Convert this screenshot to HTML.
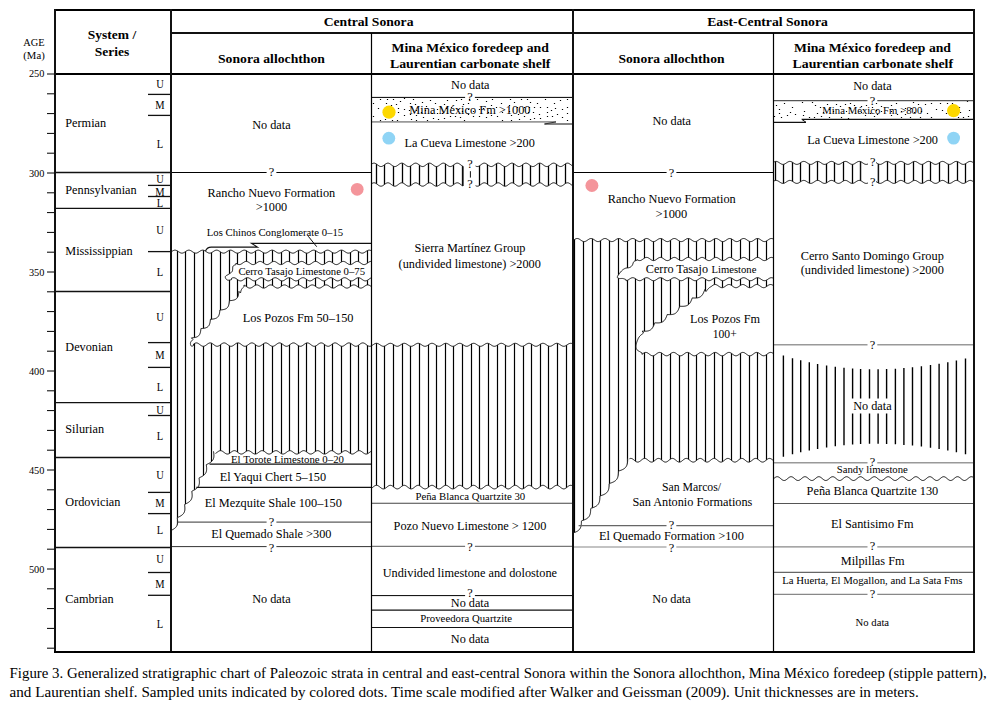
<!DOCTYPE html>
<html><head><meta charset="utf-8"><style>
html,body{margin:0;padding:0;background:#fff;}
svg{display:block;}
text{font-family:"Liberation Serif",serif;fill:#000;}
</style></head><body>
<svg width="994" height="707" viewBox="0 0 994 707">
<rect width="994" height="707" fill="#fff"/>
<line x1="47" y1="74" x2="55" y2="74" stroke="#000" stroke-width="1"/>
<line x1="47" y1="93.8" x2="55" y2="93.8" stroke="#000" stroke-width="1"/>
<line x1="47" y1="113.6" x2="55" y2="113.6" stroke="#000" stroke-width="1"/>
<line x1="47" y1="133.4" x2="55" y2="133.4" stroke="#000" stroke-width="1"/>
<line x1="47" y1="153.2" x2="55" y2="153.2" stroke="#000" stroke-width="1"/>
<line x1="47" y1="173" x2="55" y2="173" stroke="#000" stroke-width="1"/>
<line x1="47" y1="192.8" x2="55" y2="192.8" stroke="#000" stroke-width="1"/>
<line x1="47" y1="212.6" x2="55" y2="212.6" stroke="#000" stroke-width="1"/>
<line x1="47" y1="232.4" x2="55" y2="232.4" stroke="#000" stroke-width="1"/>
<line x1="47" y1="252.2" x2="55" y2="252.2" stroke="#000" stroke-width="1"/>
<line x1="47" y1="272" x2="55" y2="272" stroke="#000" stroke-width="1"/>
<line x1="47" y1="291.8" x2="55" y2="291.8" stroke="#000" stroke-width="1"/>
<line x1="47" y1="311.6" x2="55" y2="311.6" stroke="#000" stroke-width="1"/>
<line x1="47" y1="331.4" x2="55" y2="331.4" stroke="#000" stroke-width="1"/>
<line x1="47" y1="351.2" x2="55" y2="351.2" stroke="#000" stroke-width="1"/>
<line x1="47" y1="371" x2="55" y2="371" stroke="#000" stroke-width="1"/>
<line x1="47" y1="390.8" x2="55" y2="390.8" stroke="#000" stroke-width="1"/>
<line x1="47" y1="410.6" x2="55" y2="410.6" stroke="#000" stroke-width="1"/>
<line x1="47" y1="430.4" x2="55" y2="430.4" stroke="#000" stroke-width="1"/>
<line x1="47" y1="450.2" x2="55" y2="450.2" stroke="#000" stroke-width="1"/>
<line x1="47" y1="470" x2="55" y2="470" stroke="#000" stroke-width="1"/>
<line x1="47" y1="489.8" x2="55" y2="489.8" stroke="#000" stroke-width="1"/>
<line x1="47" y1="509.6" x2="55" y2="509.6" stroke="#000" stroke-width="1"/>
<line x1="47" y1="529.4" x2="55" y2="529.4" stroke="#000" stroke-width="1"/>
<line x1="47" y1="549.2" x2="55" y2="549.2" stroke="#000" stroke-width="1"/>
<line x1="47" y1="569" x2="55" y2="569" stroke="#000" stroke-width="1"/>
<line x1="47" y1="588.8" x2="55" y2="588.8" stroke="#000" stroke-width="1"/>
<line x1="47" y1="608.6" x2="55" y2="608.6" stroke="#000" stroke-width="1"/>
<line x1="47" y1="628.4" x2="55" y2="628.4" stroke="#000" stroke-width="1"/>
<line x1="47" y1="648.2" x2="55" y2="648.2" stroke="#000" stroke-width="1"/>
<text transform="translate(28.9,76.8) scale(1,0.94)" font-size="10.3" textLength="15.5" lengthAdjust="spacingAndGlyphs">250</text>
<text transform="translate(28.9,176.9) scale(1,0.94)" font-size="10.3" textLength="15.5" lengthAdjust="spacingAndGlyphs">300</text>
<text transform="translate(28.9,275.9) scale(1,0.94)" font-size="10.3" textLength="15.5" lengthAdjust="spacingAndGlyphs">350</text>
<text transform="translate(28.9,374.9) scale(1,0.94)" font-size="10.3" textLength="15.5" lengthAdjust="spacingAndGlyphs">400</text>
<text transform="translate(28.9,473.9) scale(1,0.94)" font-size="10.3" textLength="15.5" lengthAdjust="spacingAndGlyphs">450</text>
<text transform="translate(28.9,572.9) scale(1,0.94)" font-size="10.3" textLength="15.5" lengthAdjust="spacingAndGlyphs">500</text>
<text transform="translate(23.3,46.3) scale(1,0.94)" font-size="10.4" textLength="21.4" lengthAdjust="spacingAndGlyphs">AGE</text>
<text transform="translate(23.3,59.2) scale(1,0.94)" font-size="10.7" textLength="21.4" lengthAdjust="spacingAndGlyphs">(Ma)</text>
<text transform="translate(112,39.4) scale(1,0.93)" font-size="13.5" text-anchor="middle" font-weight="bold">System /</text>
<text transform="translate(112,55.7) scale(1,0.93)" font-size="13.5" text-anchor="middle" font-weight="bold">Series</text>
<text transform="translate(323.7,26.1) scale(1,0.93)" font-size="13.6" font-weight="bold" textLength="89.8" lengthAdjust="spacingAndGlyphs">Central Sonora</text>
<text transform="translate(707.2,26.1) scale(1,0.93)" font-size="13.6" font-weight="bold" textLength="120.7" lengthAdjust="spacingAndGlyphs">East-Central Sonora</text>
<text transform="translate(218,62.6) scale(1,0.93)" font-size="13.7" font-weight="bold" textLength="106.9" lengthAdjust="spacingAndGlyphs">Sonora allochthon</text>
<text transform="translate(618.5,62.6) scale(1,0.93)" font-size="13.7" font-weight="bold" textLength="106" lengthAdjust="spacingAndGlyphs">Sonora allochthon</text>
<text transform="translate(391.5,51.6) scale(1,0.93)" font-size="13.7" font-weight="bold" textLength="157.3" lengthAdjust="spacingAndGlyphs">Mina México foredeep and</text>
<text transform="translate(389.9,67.5) scale(1,0.93)" font-size="13.7" font-weight="bold" textLength="160.5" lengthAdjust="spacingAndGlyphs">Laurentian carbonate shelf</text>
<text transform="translate(794,51.6) scale(1,0.93)" font-size="13.7" font-weight="bold" textLength="157" lengthAdjust="spacingAndGlyphs">Mina México foredeep and</text>
<text transform="translate(792.5,67.5) scale(1,0.93)" font-size="13.7" font-weight="bold" textLength="160.5" lengthAdjust="spacingAndGlyphs">Laurentian carbonate shelf</text>
<line x1="55" y1="172.5" x2="171" y2="172.5" stroke="#111" stroke-width="1.3"/>
<line x1="55" y1="208.3" x2="171" y2="208.3" stroke="#111" stroke-width="1.3"/>
<line x1="55" y1="291.5" x2="171" y2="291.5" stroke="#111" stroke-width="1.3"/>
<line x1="55" y1="402.7" x2="171" y2="402.7" stroke="#111" stroke-width="1.3"/>
<line x1="55" y1="457.5" x2="171" y2="457.5" stroke="#111" stroke-width="1.3"/>
<line x1="55" y1="547.5" x2="171" y2="547.5" stroke="#111" stroke-width="1.3"/>
<line x1="148" y1="94.4" x2="171" y2="94.4" stroke="#111" stroke-width="1.3"/>
<line x1="148" y1="115.4" x2="171" y2="115.4" stroke="#111" stroke-width="1.3"/>
<line x1="148" y1="185.4" x2="171" y2="185.4" stroke="#111" stroke-width="1.3"/>
<line x1="148" y1="196.5" x2="171" y2="196.5" stroke="#111" stroke-width="1.3"/>
<line x1="148" y1="251.6" x2="171" y2="251.6" stroke="#111" stroke-width="1.3"/>
<line x1="148" y1="342.6" x2="171" y2="342.6" stroke="#111" stroke-width="1.3"/>
<line x1="148" y1="367.4" x2="171" y2="367.4" stroke="#111" stroke-width="1.3"/>
<line x1="148" y1="415.5" x2="171" y2="415.5" stroke="#111" stroke-width="1.3"/>
<line x1="148" y1="492.4" x2="171" y2="492.4" stroke="#111" stroke-width="1.3"/>
<line x1="148" y1="513.6" x2="171" y2="513.6" stroke="#111" stroke-width="1.3"/>
<line x1="148" y1="572.5" x2="171" y2="572.5" stroke="#111" stroke-width="1.3"/>
<line x1="148" y1="595.3" x2="171" y2="595.3" stroke="#111" stroke-width="1.3"/>
<text transform="translate(65.3,127.3) scale(1,1.06)" font-size="12.25">Permian</text>
<text transform="translate(65.3,194.4) scale(1,1.06)" font-size="12.25">Pennsylvanian</text>
<text transform="translate(65.3,254.6) scale(1,1.06)" font-size="12.25">Mississippian</text>
<text transform="translate(65.3,350.9) scale(1,1.06)" font-size="12.25">Devonian</text>
<text transform="translate(65.3,433.2) scale(1,1.06)" font-size="12.25">Silurian</text>
<text transform="translate(65.3,505.9) scale(1,1.06)" font-size="12.25">Ordovician</text>
<text transform="translate(65.3,603.1) scale(1,1.06)" font-size="12.25">Cambrian</text>
<text transform="translate(160,88.4) scale(1,1.11)" font-size="10.5" text-anchor="middle">U</text>
<text transform="translate(160,108.6) scale(1,1.11)" font-size="10.5" text-anchor="middle">M</text>
<text transform="translate(160,147.8) scale(1,1.11)" font-size="10.5" text-anchor="middle">L</text>
<text transform="translate(160,183.3) scale(1,1.11)" font-size="10.5" text-anchor="middle">U</text>
<text transform="translate(160,196.2) scale(1,1.11)" font-size="10.5" text-anchor="middle">M</text>
<text transform="translate(160,207.1) scale(1,1.11)" font-size="10.5" text-anchor="middle">L</text>
<text transform="translate(160,233.8) scale(1,1.11)" font-size="10.5" text-anchor="middle">U</text>
<text transform="translate(160,275.5) scale(1,1.11)" font-size="10.5" text-anchor="middle">L</text>
<text transform="translate(160,321.1) scale(1,1.11)" font-size="10.5" text-anchor="middle">U</text>
<text transform="translate(160,358.8) scale(1,1.11)" font-size="10.5" text-anchor="middle">M</text>
<text transform="translate(160,391.1) scale(1,1.11)" font-size="10.5" text-anchor="middle">L</text>
<text transform="translate(160,414.4) scale(1,1.11)" font-size="10.5" text-anchor="middle">U</text>
<text transform="translate(160,440.1) scale(1,1.11)" font-size="10.5" text-anchor="middle">L</text>
<text transform="translate(160,478.8) scale(1,1.11)" font-size="10.5" text-anchor="middle">U</text>
<text transform="translate(160,506.5) scale(1,1.11)" font-size="10.5" text-anchor="middle">M</text>
<text transform="translate(160,533.7) scale(1,1.11)" font-size="10.5" text-anchor="middle">L</text>
<text transform="translate(160,563.2) scale(1,1.11)" font-size="10.5" text-anchor="middle">U</text>
<text transform="translate(160,587.5) scale(1,1.11)" font-size="10.5" text-anchor="middle">M</text>
<text transform="translate(160,627.5) scale(1,1.11)" font-size="10.5" text-anchor="middle">L</text>
<text transform="translate(271.4,128.5) scale(1,1.06)" font-size="12.25" text-anchor="middle">No data</text>
<line x1="171" y1="172.5" x2="266.6" y2="172.5" stroke="#000" stroke-width="1"/>
<line x1="276.4" y1="172.5" x2="372" y2="172.5" stroke="#000" stroke-width="1"/>
<text transform="translate(271.5,175.8) scale(1,1.06)" font-size="12.3" text-anchor="middle">?</text>
<text transform="translate(207.6,196.6) scale(1,1.06)" font-size="12.25" textLength="127.6" lengthAdjust="spacingAndGlyphs">Rancho Nuevo Formation</text>
<text transform="translate(255.8,210.7) scale(1,1.06)" font-size="12.25" textLength="31.4" lengthAdjust="spacingAndGlyphs">&gt;1000</text>
<circle cx="357.2" cy="189.3" r="6.4" fill="#f4959b"/>
<clipPath id="c1"><path d="M171,252.01 L171.6,251.6 L172.2,251.2 L172.8,250.84 L173.4,250.53 L174,250.3 L174.6,250.17 L175.2,250.16 L175.8,250.25 L176.4,250.44 L177,250.72 L177.6,251.08 L178.2,251.47 L178.8,251.88 L179.4,252.26 L180,252.61 L180.6,252.88 L181.2,253.07 L181.8,253.15 L182.4,253.12 L183,252.98 L183.6,252.74 L184.2,252.43 L184.8,252.05 L185.4,251.65 L186,251.25 L186.6,250.88 L187.2,250.56 L187.8,250.32 L188.4,250.18 L189,250.15 L189.6,250.23 L190.2,250.41 L190.8,250.69 L191.4,251.03 L192,251.42 L192.6,251.83 L193.2,252.22 L193.8,252.57 L194.4,252.86 L195,253.05 L195.6,253.14 L196.2,253.13 L196.8,253 L197.4,252.78 L198,252.47 L198.6,252.1 L199.2,251.7 L199.8,251.29 L200.4,250.92 L201,250.59 L201.6,250.35 L202.2,250.19 L202.8,250.15 L203.4,250.22 L204,250.39 L204.6,250.65 L205.2,250.99 L205.8,251.37 L206.4,251.78 L207,252.18 L207.6,252.53 L208.2,252.83 L208.8,253.03 L209.4,253.14 L210,253.13 L210.6,253.02 L211.2,252.81 L211.8,252.51 L212.4,252.15 L213,251.75 L213.6,251.34 L214.2,250.96 L214.8,250.63 L215.4,250.37 L216,250.21 L216.6,250.15 L217.2,250.2 L217.8,250.36 L218.4,250.62 L219,250.95 L219.6,251.33 L220.2,251.73 L220.8,252.13 L221.4,252.5 L222,252.8 L222.6,253.01 L223.2,253.13 L223.8,253.14 L224.4,253.04 L225,252.84 L225.6,252.55 L226.2,252.19 L226.8,251.79 L227.4,251.39 L228,251 L228.6,250.66 L229.2,250.4 L229.8,250.22 L230.4,250.15 L231,250.19 L231.6,250.34 L232.2,250.58 L232.8,250.9 L233.4,251.28 L234,251.69 L234.6,252.09 L235.2,252.46 L235.8,252.77 L236.4,252.99 L237,253.12 L237.6,253.14 L238.2,253.06 L238.8,252.86 L239.4,252.58 L240,252.23 L240.6,251.84 L241.2,251.43 L241.8,251.04 L242.4,250.7 L243,250.42 L243.6,250.24 L244.2,250.15 L244.8,250.18 L245.4,250.32 L246,250.55 L246.6,250.86 L247.2,251.24 L247.8,251.64 L248.4,252.04 L249,252.42 L249.6,252.73 L250.2,252.97 L250.8,253.11 L251.4,253.15 L252,253.07 L252.6,252.89 L253.2,252.62 L253.8,252.28 L254.4,251.89 L255,251.48 L255.6,251.09 L256.2,250.74 L256.8,250.45 L257.4,250.25 L258,250.16 L258.6,250.17 L259.2,250.3 L259.8,250.52 L260.4,250.82 L261,251.19 L261.6,251.59 L262.2,252 L262.8,252.37 L263.4,252.7 L264,252.95 L264.6,253.1 L265.2,253.15 L265.8,253.09 L266.4,252.92 L267,252.66 L267.6,252.32 L268.2,251.94 L268.8,251.53 L269.4,251.13 L270,250.77 L270.6,250.48 L271.2,250.27 L271.8,250.16 L272.4,250.16 L273,250.28 L273.6,250.49 L274.2,250.78 L274.8,251.15 L275.4,251.54 L276,251.95 L276.6,252.33 L277.2,252.67 L277.8,252.92 L278.4,253.09 L279,253.15 L279.6,253.1 L280.2,252.94 L280.8,252.69 L281.4,252.36 L282,251.98 L282.6,251.58 L283.2,251.18 L283.8,250.81 L284.4,250.51 L285,250.29 L285.6,250.17 L286.2,250.16 L286.8,250.26 L287.4,250.46 L288,250.75 L288.6,251.1 L289.2,251.5 L289.8,251.9 L290.4,252.29 L291,252.63 L291.6,252.9 L292.2,253.08 L292.8,253.15 L293.4,253.11 L294,252.97 L294.6,252.72 L295.2,252.4 L295.8,252.03 L296.4,251.62 L297,251.22 L297.6,250.85 L298.2,250.54 L298.8,250.31 L299.4,250.18 L300,250.15 L300.6,250.24 L301.2,250.43 L301.8,250.71 L302.4,251.06 L303,251.45 L303.6,251.85 L304.2,252.25 L304.8,252.59 L305.4,252.87 L306,253.06 L306.6,253.15 L307.2,253.12 L307.8,252.99 L308.4,252.76 L309,252.44 L309.6,252.07 L310.2,251.67 L310.8,251.27 L311.4,250.89 L312,250.57 L312.6,250.33 L313.2,250.19 L313.8,250.15 L314.4,250.22 L315,250.4 L315.6,250.67 L316.2,251.01 L316.8,251.4 L317.4,251.81 L318,252.2 L318.6,252.56 L319.2,252.84 L319.8,253.04 L320.4,253.14 L321,253.13 L321.6,253.01 L322.2,252.79 L322.8,252.48 L323.4,252.12 L324,251.72 L324.6,251.31 L325.2,250.93 L325.8,250.61 L326.4,250.36 L327,250.2 L327.6,250.15 L328.2,250.21 L328.8,250.38 L329.4,250.64 L330,250.97 L330.6,251.35 L331.2,251.76 L331.8,252.16 L332.4,252.52 L333,252.81 L333.6,253.03 L334.2,253.14 L334.8,253.14 L335.4,253.03 L336,252.82 L336.6,252.52 L337.2,252.16 L337.8,251.77 L338.4,251.36 L339,250.98 L339.6,250.64 L340.2,250.38 L340.8,250.21 L341.4,250.15 L342,250.2 L342.6,250.35 L343.2,250.6 L343.8,250.93 L344.4,251.31 L345,251.71 L345.6,252.11 L346.2,252.48 L346.8,252.78 L347.4,253.01 L348,253.13 L348.6,253.14 L349.2,253.05 L349.8,252.85 L350.4,252.56 L351,252.21 L351.6,251.81 L352.2,251.41 L352.8,251.02 L353.4,250.68 L354,250.41 L354.6,250.23 L355.2,250.15 L355.8,250.19 L356.4,250.33 L357,250.57 L357.6,250.89 L358.2,251.26 L358.8,251.67 L359.4,252.07 L360,252.44 L360.6,252.75 L361.2,252.99 L361.8,253.12 L362.4,253.15 L363,253.06 L363.6,252.88 L364.2,252.6 L364.8,252.25 L365.4,251.86 L366,251.46 L366.6,251.06 L367.2,250.71 L367.8,250.43 L368.4,250.24 L369,250.15 L369.6,250.18 L370.2,250.31 L370.8,250.54 L371.4,250.85 L372,251.22 L372,452.35 L372,450.85 L371.4,451.13 L370.8,451.49 L370.19,451.91 L369.59,452.37 L368.99,452.83 L368.39,453.25 L367.79,453.61 L367.18,453.87 L366.58,454.02 L365.98,454.04 L365.38,453.95 L364.78,453.73 L364.18,453.41 L363.57,453.01 L362.97,452.57 L362.37,452.11 L361.77,451.66 L361.17,451.27 L360.56,450.96 L359.96,450.75 L359.36,450.65 L358.76,450.69 L358.16,450.84 L357.55,451.11 L356.95,451.47 L356.35,451.9 L355.75,452.35 L355.15,452.81 L354.54,453.23 L353.94,453.59 L353.34,453.86 L352.74,454.01 L352.14,454.05 L351.53,453.95 L350.93,453.74 L350.33,453.43 L349.73,453.03 L349.13,452.59 L348.52,452.13 L347.92,451.68 L347.32,451.28 L346.72,450.97 L346.12,450.75 L345.52,450.65 L344.91,450.68 L344.31,450.83 L343.71,451.1 L343.11,451.45 L342.51,451.88 L341.9,452.33 L341.3,452.79 L340.7,453.22 L340.1,453.58 L339.5,453.85 L338.89,454.01 L338.29,454.05 L337.69,453.96 L337.09,453.75 L336.49,453.44 L335.88,453.05 L335.28,452.61 L334.68,452.15 L334.08,451.7 L333.48,451.3 L332.88,450.98 L332.27,450.76 L331.67,450.66 L331.07,450.68 L330.47,450.83 L329.87,451.08 L329.26,451.44 L328.66,451.86 L328.06,452.31 L327.46,452.77 L326.86,453.2 L326.25,453.57 L325.65,453.84 L325.05,454.01 L324.45,454.05 L323.85,453.97 L323.24,453.76 L322.64,453.46 L322.04,453.07 L321.44,452.63 L320.84,452.16 L320.23,451.72 L319.63,451.32 L319.03,450.99 L318.43,450.77 L317.83,450.66 L317.23,450.68 L316.62,450.82 L316.02,451.07 L315.42,451.42 L314.82,451.84 L314.22,452.29 L313.61,452.75 L313.01,453.18 L312.41,453.55 L311.81,453.83 L311.21,454 L310.6,454.05 L310,453.97 L309.4,453.77 L308.8,453.47 L308.2,453.09 L307.59,452.65 L306.99,452.18 L306.39,451.74 L305.79,451.33 L305.19,451 L304.58,450.77 L303.98,450.66 L303.38,450.67 L302.78,450.81 L302.18,451.06 L301.57,451.4 L300.97,451.82 L300.37,452.27 L299.77,452.73 L299.17,453.17 L298.57,453.54 L297.96,453.82 L297.36,454 L296.76,454.05 L296.16,453.98 L295.56,453.78 L294.95,453.49 L294.35,453.1 L293.75,452.67 L293.15,452.2 L292.55,451.75 L291.94,451.35 L291.34,451.01 L290.74,450.78 L290.14,450.66 L289.54,450.67 L288.93,450.8 L288.33,451.05 L287.73,451.39 L287.13,451.8 L286.53,452.25 L285.93,452.71 L285.32,453.15 L284.72,453.52 L284.12,453.81 L283.52,453.99 L282.92,454.05 L282.31,453.98 L281.71,453.8 L281.11,453.5 L280.51,453.12 L279.91,452.69 L279.3,452.22 L278.7,451.77 L278.1,451.36 L277.5,451.03 L276.9,450.79 L276.29,450.67 L275.69,450.67 L275.09,450.79 L274.49,451.03 L273.89,451.37 L273.28,451.78 L272.68,452.23 L272.08,452.7 L271.48,453.13 L270.88,453.51 L270.27,453.8 L269.67,453.99 L269.07,454.05 L268.47,453.99 L267.87,453.81 L267.27,453.52 L266.66,453.14 L266.06,452.7 L265.46,452.24 L264.86,451.79 L264.26,451.38 L263.65,451.04 L263.05,450.8 L262.45,450.67 L261.85,450.66 L261.25,450.78 L260.64,451.02 L260.04,451.36 L259.44,451.76 L258.84,452.21 L258.24,452.68 L257.63,453.11 L257.03,453.49 L256.43,453.79 L255.83,453.98 L255.23,454.05 L254.62,453.99 L254.02,453.82 L253.42,453.53 L252.82,453.16 L252.22,452.72 L251.62,452.26 L251.01,451.81 L250.41,451.4 L249.81,451.05 L249.21,450.8 L248.61,450.67 L248,450.66 L247.4,450.78 L246.8,451.01 L246.2,451.34 L245.6,451.74 L244.99,452.19 L244.39,452.66 L243.79,453.1 L243.19,453.48 L242.59,453.78 L241.98,453.97 L241.38,454.05 L240.78,454 L240.18,453.83 L239.58,453.54 L238.97,453.17 L238.37,452.74 L237.77,452.28 L237.17,451.83 L236.57,451.41 L235.97,451.06 L235.36,450.81 L234.76,450.67 L234.16,450.66 L233.56,450.77 L232.96,451 L232.35,451.32 L231.75,451.73 L231.15,452.18 L230.55,452.64 L229.95,453.08 L229.34,453.46 L228.74,453.77 L228.14,453.97 L227.54,454.05 L226.94,454 L226.33,453.84 L225.73,453.56 L225.13,453.19 L224.53,452.76 L223.93,452.3 L223.32,451.85 L222.72,451.43 L222.12,451.08 L221.52,450.82 L220.92,450.68 L220.32,450.66 L219.71,450.76 L219.11,450.98 L218.51,451.31 L217.91,451.71 L217.31,452.16 L216.7,452.62 L216.1,453.06 L215.5,453.45 L213.53,451.42 L213.63,452.16 L213.72,452.89 L213.8,453.62 L213.86,454.34 L213.9,455.04 L213.91,455.73 L213.88,456.4 L213.82,457.06 L213.72,457.69 L213.58,458.29 L213.39,458.87 L213.16,459.43 L212.87,459.96 L212.54,460.46 L212.16,460.93 L211.74,461.39 L211.27,461.81 L210.76,462.22 L210.21,462.6 L209.63,462.97 L209.02,463.32 L208.38,463.66 L207.73,463.98 L207.07,464.3 L206.4,464.62 L206.36,465.29 L206.46,466.02 L206.54,466.75 L206.6,467.47 L206.64,468.18 L206.66,468.87 L206.64,469.54 L206.59,470.2 L206.49,470.83 L206.36,471.44 L206.18,472.03 L205.95,472.59 L205.67,473.12 L205.35,473.63 L204.98,474.11 L204.56,474.56 L204.1,474.99 L203.59,475.4 L203.05,475.79 L202.48,476.16 L201.87,476.51 L201.24,476.85 L200.59,477.18 L199.93,477.5 L199.26,477.82 L199.1,478.42 L199.19,479.15 L199.27,479.88 L199.34,480.6 L199.39,481.31 L199.41,482.01 L199.4,482.68 L199.35,483.34 L199.26,483.98 L199.13,484.59 L198.96,485.18 L198.74,485.74 L198.47,486.28 L198.16,486.79 L197.79,487.28 L197.38,487.74 L196.93,488.17 L196.43,488.59 L195.9,488.98 L195.32,489.35 L194.72,489.7 L194.1,490.05 L193.45,490.38 L192.79,490.7 L192.12,491.02 L191.83,491.54 L191.93,492.28 L192.01,493.01 L192.08,493.73 L192.13,494.44 L192.16,495.14 L192.15,495.82 L192.11,496.48 L192.03,497.12 L191.91,497.74 L191.74,498.33 L191.53,498.9 L191.27,499.44 L190.96,499.96 L190.61,500.45 L190.2,500.91 L189.76,501.35 L189.27,501.77 L188.74,502.16 L188.17,502.54 L187.58,502.9 L186.95,503.24 L186.31,503.57 L185.65,503.9 L184.98,504.21 L184.57,504.67 L184.66,505.41 L184.75,506.14 L184.82,506.86 L184.87,507.58 L184.9,508.28 L184.9,508.96 L184.87,509.62 L184.8,510.27 L184.68,510.89 L184.52,511.49 L184.32,512.06 L184.07,512.61 L183.77,513.13 L183.42,513.62 L183.02,514.09 L182.58,514.53 L182.1,514.95 L181.58,515.35 L181.02,515.73 L180.43,516.09 L179.81,516.43 L179.17,516.77 L178.51,517.09 L177.84,517.41 L177.3,517.8 L177.4,518.53 L177.48,519.27 L177.56,519.99 L177.62,520.71 L177.65,521.41 L177.66,522.1 L177.63,522.76 L177.56,523.41 L177.45,524.04 L177.3,524.64 L177.11,525.22 L176.86,525.77 L176.57,526.29 L176.23,526.79 L175.84,527.26 L175.41,527.71 L174.93,528.13 L174.42,528.53 L173.86,528.92 L173.28,529.28 L172.66,529.63 L172.03,529.96 L171.37,530.29 L170.71,530.61 L170.03,530.92 L171,532Z"/></clipPath>
<g clip-path="url(#c1)">
<path d="M177.5,245V540M185.5,245V540M194.5,245V540M203.5,245V540M211.5,245V540M220.5,245V540M229.5,245V540M237.5,245V540M246.5,245V540M255.5,245V540M263.5,245V540M272.5,245V540M281.5,245V540M289.5,245V540M298.5,245V540M306.5,245V540M315.5,245V540M324.5,245V540M332.5,245V540M341.5,245V540M350.5,245V540M358.5,245V540M367.5,245V540" stroke="#000" stroke-width="1.2" fill="none"/>
</g>
<path d="M171,252.01 L171.6,251.6 L172.2,251.2 L172.8,250.84 L173.4,250.53 L174,250.3 L174.6,250.17 L175.2,250.16 L175.8,250.25 L176.4,250.44 L177,250.72 L177.6,251.08 L178.2,251.47 L178.8,251.88 L179.4,252.26 L180,252.61 L180.6,252.88 L181.2,253.07 L181.8,253.15 L182.4,253.12 L183,252.98 L183.6,252.74 L184.2,252.43 L184.8,252.05 L185.4,251.65 L186,251.25 L186.6,250.88 L187.2,250.56 L187.8,250.32 L188.4,250.18 L189,250.15 L189.6,250.23 L190.2,250.41 L190.8,250.69 L191.4,251.03 L192,251.42 L192.6,251.83 L193.2,252.22 L193.8,252.57 L194.4,252.86 L195,253.05 L195.6,253.14 L196.2,253.13 L196.8,253 L197.4,252.78 L198,252.47 L198.6,252.1 L199.2,251.7 L199.8,251.29 L200.4,250.92 L201,250.59 L201.6,250.35 L202.2,250.19 L202.8,250.15 L203.4,250.22 L204,250.39 L204.6,250.65 L205.2,250.99 L205.8,251.37 L206.4,251.78 L207,252.18 L207.6,252.53 L208.2,252.83 L208.8,253.03 L209.4,253.14 L210,253.13 L210.6,253.02 L211.2,252.81 L211.8,252.51 L212.4,252.15 L213,251.75 L213.6,251.34 L214.2,250.96 L214.8,250.63 L215.4,250.37 L216,250.21 L216.6,250.15 L217.2,250.2 L217.8,250.36 L218.4,250.62 L219,250.95 L219.6,251.33 L220.2,251.73 L220.8,252.13 L221.4,252.5 L222,252.8 L222.6,253.01 L223.2,253.13 L223.8,253.14 L224.4,253.04 L225,252.84 L225.6,252.55 L226.2,252.19 L226.8,251.79 L227.4,251.39 L228,251 L228.6,250.66 L229.2,250.4 L229.8,250.22 L230.4,250.15 L231,250.19 L231.6,250.34 L232.2,250.58 L232.8,250.9 L233.4,251.28 L234,251.69 L234.6,252.09 L235.2,252.46 L235.8,252.77 L236.4,252.99 L237,253.12 L237.6,253.14 L238.2,253.06 L238.8,252.86 L239.4,252.58 L240,252.23 L240.6,251.84 L241.2,251.43 L241.8,251.04 L242.4,250.7 L243,250.42 L243.6,250.24 L244.2,250.15 L244.8,250.18 L245.4,250.32 L246,250.55 L246.6,250.86 L247.2,251.24 L247.8,251.64 L248.4,252.04 L249,252.42 L249.6,252.73 L250.2,252.97 L250.8,253.11 L251.4,253.15 L252,253.07 L252.6,252.89 L253.2,252.62 L253.8,252.28 L254.4,251.89 L255,251.48 L255.6,251.09 L256.2,250.74 L256.8,250.45 L257.4,250.25 L258,250.16 L258.6,250.17 L259.2,250.3 L259.8,250.52 L260.4,250.82 L261,251.19 L261.6,251.59 L262.2,252 L262.8,252.37 L263.4,252.7 L264,252.95 L264.6,253.1 L265.2,253.15 L265.8,253.09 L266.4,252.92 L267,252.66 L267.6,252.32 L268.2,251.94 L268.8,251.53 L269.4,251.13 L270,250.77 L270.6,250.48 L271.2,250.27 L271.8,250.16 L272.4,250.16 L273,250.28 L273.6,250.49 L274.2,250.78 L274.8,251.15 L275.4,251.54 L276,251.95 L276.6,252.33 L277.2,252.67 L277.8,252.92 L278.4,253.09 L279,253.15 L279.6,253.1 L280.2,252.94 L280.8,252.69 L281.4,252.36 L282,251.98 L282.6,251.58 L283.2,251.18 L283.8,250.81 L284.4,250.51 L285,250.29 L285.6,250.17 L286.2,250.16 L286.8,250.26 L287.4,250.46 L288,250.75 L288.6,251.1 L289.2,251.5 L289.8,251.9 L290.4,252.29 L291,252.63 L291.6,252.9 L292.2,253.08 L292.8,253.15 L293.4,253.11 L294,252.97 L294.6,252.72 L295.2,252.4 L295.8,252.03 L296.4,251.62 L297,251.22 L297.6,250.85 L298.2,250.54 L298.8,250.31 L299.4,250.18 L300,250.15 L300.6,250.24 L301.2,250.43 L301.8,250.71 L302.4,251.06 L303,251.45 L303.6,251.85 L304.2,252.25 L304.8,252.59 L305.4,252.87 L306,253.06 L306.6,253.15 L307.2,253.12 L307.8,252.99 L308.4,252.76 L309,252.44 L309.6,252.07 L310.2,251.67 L310.8,251.27 L311.4,250.89 L312,250.57 L312.6,250.33 L313.2,250.19 L313.8,250.15 L314.4,250.22 L315,250.4 L315.6,250.67 L316.2,251.01 L316.8,251.4 L317.4,251.81 L318,252.2 L318.6,252.56 L319.2,252.84 L319.8,253.04 L320.4,253.14 L321,253.13 L321.6,253.01 L322.2,252.79 L322.8,252.48 L323.4,252.12 L324,251.72 L324.6,251.31 L325.2,250.93 L325.8,250.61 L326.4,250.36 L327,250.2 L327.6,250.15 L328.2,250.21 L328.8,250.38 L329.4,250.64 L330,250.97 L330.6,251.35 L331.2,251.76 L331.8,252.16 L332.4,252.52 L333,252.81 L333.6,253.03 L334.2,253.14 L334.8,253.14 L335.4,253.03 L336,252.82 L336.6,252.52 L337.2,252.16 L337.8,251.77 L338.4,251.36 L339,250.98 L339.6,250.64 L340.2,250.38 L340.8,250.21 L341.4,250.15 L342,250.2 L342.6,250.35 L343.2,250.6 L343.8,250.93 L344.4,251.31 L345,251.71 L345.6,252.11 L346.2,252.48 L346.8,252.78 L347.4,253.01 L348,253.13 L348.6,253.14 L349.2,253.05 L349.8,252.85 L350.4,252.56 L351,252.21 L351.6,251.81 L352.2,251.41 L352.8,251.02 L353.4,250.68 L354,250.41 L354.6,250.23 L355.2,250.15 L355.8,250.19 L356.4,250.33 L357,250.57 L357.6,250.89 L358.2,251.26 L358.8,251.67 L359.4,252.07 L360,252.44 L360.6,252.75 L361.2,252.99 L361.8,253.12 L362.4,253.15 L363,253.06 L363.6,252.88 L364.2,252.6 L364.8,252.25 L365.4,251.86 L366,251.46 L366.6,251.06 L367.2,250.71 L367.8,250.43 L368.4,250.24 L369,250.15 L369.6,250.18 L370.2,250.31 L370.8,250.54 L371.4,250.85 L372,251.22" fill="none" stroke="#111" stroke-width="1"/>
<path d="M372,450.85 L371.4,451.13 L370.8,451.49 L370.19,451.91 L369.59,452.37 L368.99,452.83 L368.39,453.25 L367.79,453.61 L367.18,453.87 L366.58,454.02 L365.98,454.04 L365.38,453.95 L364.78,453.73 L364.18,453.41 L363.57,453.01 L362.97,452.57 L362.37,452.11 L361.77,451.66 L361.17,451.27 L360.56,450.96 L359.96,450.75 L359.36,450.65 L358.76,450.69 L358.16,450.84 L357.55,451.11 L356.95,451.47 L356.35,451.9 L355.75,452.35 L355.15,452.81 L354.54,453.23 L353.94,453.59 L353.34,453.86 L352.74,454.01 L352.14,454.05 L351.53,453.95 L350.93,453.74 L350.33,453.43 L349.73,453.03 L349.13,452.59 L348.52,452.13 L347.92,451.68 L347.32,451.28 L346.72,450.97 L346.12,450.75 L345.52,450.65 L344.91,450.68 L344.31,450.83 L343.71,451.1 L343.11,451.45 L342.51,451.88 L341.9,452.33 L341.3,452.79 L340.7,453.22 L340.1,453.58 L339.5,453.85 L338.89,454.01 L338.29,454.05 L337.69,453.96 L337.09,453.75 L336.49,453.44 L335.88,453.05 L335.28,452.61 L334.68,452.15 L334.08,451.7 L333.48,451.3 L332.88,450.98 L332.27,450.76 L331.67,450.66 L331.07,450.68 L330.47,450.83 L329.87,451.08 L329.26,451.44 L328.66,451.86 L328.06,452.31 L327.46,452.77 L326.86,453.2 L326.25,453.57 L325.65,453.84 L325.05,454.01 L324.45,454.05 L323.85,453.97 L323.24,453.76 L322.64,453.46 L322.04,453.07 L321.44,452.63 L320.84,452.16 L320.23,451.72 L319.63,451.32 L319.03,450.99 L318.43,450.77 L317.83,450.66 L317.23,450.68 L316.62,450.82 L316.02,451.07 L315.42,451.42 L314.82,451.84 L314.22,452.29 L313.61,452.75 L313.01,453.18 L312.41,453.55 L311.81,453.83 L311.21,454 L310.6,454.05 L310,453.97 L309.4,453.77 L308.8,453.47 L308.2,453.09 L307.59,452.65 L306.99,452.18 L306.39,451.74 L305.79,451.33 L305.19,451 L304.58,450.77 L303.98,450.66 L303.38,450.67 L302.78,450.81 L302.18,451.06 L301.57,451.4 L300.97,451.82 L300.37,452.27 L299.77,452.73 L299.17,453.17 L298.57,453.54 L297.96,453.82 L297.36,454 L296.76,454.05 L296.16,453.98 L295.56,453.78 L294.95,453.49 L294.35,453.1 L293.75,452.67 L293.15,452.2 L292.55,451.75 L291.94,451.35 L291.34,451.01 L290.74,450.78 L290.14,450.66 L289.54,450.67 L288.93,450.8 L288.33,451.05 L287.73,451.39 L287.13,451.8 L286.53,452.25 L285.93,452.71 L285.32,453.15 L284.72,453.52 L284.12,453.81 L283.52,453.99 L282.92,454.05 L282.31,453.98 L281.71,453.8 L281.11,453.5 L280.51,453.12 L279.91,452.69 L279.3,452.22 L278.7,451.77 L278.1,451.36 L277.5,451.03 L276.9,450.79 L276.29,450.67 L275.69,450.67 L275.09,450.79 L274.49,451.03 L273.89,451.37 L273.28,451.78 L272.68,452.23 L272.08,452.7 L271.48,453.13 L270.88,453.51 L270.27,453.8 L269.67,453.99 L269.07,454.05 L268.47,453.99 L267.87,453.81 L267.27,453.52 L266.66,453.14 L266.06,452.7 L265.46,452.24 L264.86,451.79 L264.26,451.38 L263.65,451.04 L263.05,450.8 L262.45,450.67 L261.85,450.66 L261.25,450.78 L260.64,451.02 L260.04,451.36 L259.44,451.76 L258.84,452.21 L258.24,452.68 L257.63,453.11 L257.03,453.49 L256.43,453.79 L255.83,453.98 L255.23,454.05 L254.62,453.99 L254.02,453.82 L253.42,453.53 L252.82,453.16 L252.22,452.72 L251.62,452.26 L251.01,451.81 L250.41,451.4 L249.81,451.05 L249.21,450.8 L248.61,450.67 L248,450.66 L247.4,450.78 L246.8,451.01 L246.2,451.34 L245.6,451.74 L244.99,452.19 L244.39,452.66 L243.79,453.1 L243.19,453.48 L242.59,453.78 L241.98,453.97 L241.38,454.05 L240.78,454 L240.18,453.83 L239.58,453.54 L238.97,453.17 L238.37,452.74 L237.77,452.28 L237.17,451.83 L236.57,451.41 L235.97,451.06 L235.36,450.81 L234.76,450.67 L234.16,450.66 L233.56,450.77 L232.96,451 L232.35,451.32 L231.75,451.73 L231.15,452.18 L230.55,452.64 L229.95,453.08 L229.34,453.46 L228.74,453.77 L228.14,453.97 L227.54,454.05 L226.94,454 L226.33,453.84 L225.73,453.56 L225.13,453.19 L224.53,452.76 L223.93,452.3 L223.32,451.85 L222.72,451.43 L222.12,451.08 L221.52,450.82 L220.92,450.68 L220.32,450.66 L219.71,450.76 L219.11,450.98 L218.51,451.31 L217.91,451.71 L217.31,452.16 L216.7,452.62 L216.1,453.06 L215.5,453.45" fill="none" stroke="#111" stroke-width="1"/>
<path d="M213.53,451.42 L213.63,452.16 L213.72,452.89 L213.8,453.62 L213.86,454.34 L213.9,455.04 L213.91,455.73 L213.88,456.4 L213.82,457.06 L213.72,457.69 L213.58,458.29 L213.39,458.87 L213.16,459.43 L212.87,459.96 L212.54,460.46 L212.16,460.93 L211.74,461.39 L211.27,461.81 L210.76,462.22 L210.21,462.6 L209.63,462.97 L209.02,463.32 L208.38,463.66 L207.73,463.98 L207.07,464.3 L206.4,464.62 L206.36,465.29 L206.46,466.02 L206.54,466.75 L206.6,467.47 L206.64,468.18 L206.66,468.87 L206.64,469.54 L206.59,470.2 L206.49,470.83 L206.36,471.44 L206.18,472.03 L205.95,472.59 L205.67,473.12 L205.35,473.63 L204.98,474.11 L204.56,474.56 L204.1,474.99 L203.59,475.4 L203.05,475.79 L202.48,476.16 L201.87,476.51 L201.24,476.85 L200.59,477.18 L199.93,477.5 L199.26,477.82 L199.1,478.42 L199.19,479.15 L199.27,479.88 L199.34,480.6 L199.39,481.31 L199.41,482.01 L199.4,482.68 L199.35,483.34 L199.26,483.98 L199.13,484.59 L198.96,485.18 L198.74,485.74 L198.47,486.28 L198.16,486.79 L197.79,487.28 L197.38,487.74 L196.93,488.17 L196.43,488.59 L195.9,488.98 L195.32,489.35 L194.72,489.7 L194.1,490.05 L193.45,490.38 L192.79,490.7 L192.12,491.02 L191.83,491.54 L191.93,492.28 L192.01,493.01 L192.08,493.73 L192.13,494.44 L192.16,495.14 L192.15,495.82 L192.11,496.48 L192.03,497.12 L191.91,497.74 L191.74,498.33 L191.53,498.9 L191.27,499.44 L190.96,499.96 L190.61,500.45 L190.2,500.91 L189.76,501.35 L189.27,501.77 L188.74,502.16 L188.17,502.54 L187.58,502.9 L186.95,503.24 L186.31,503.57 L185.65,503.9 L184.98,504.21 L184.57,504.67 L184.66,505.41 L184.75,506.14 L184.82,506.86 L184.87,507.58 L184.9,508.28 L184.9,508.96 L184.87,509.62 L184.8,510.27 L184.68,510.89 L184.52,511.49 L184.32,512.06 L184.07,512.61 L183.77,513.13 L183.42,513.62 L183.02,514.09 L182.58,514.53 L182.1,514.95 L181.58,515.35 L181.02,515.73 L180.43,516.09 L179.81,516.43 L179.17,516.77 L178.51,517.09 L177.84,517.41 L177.3,517.8 L177.4,518.53 L177.48,519.27 L177.56,519.99 L177.62,520.71 L177.65,521.41 L177.66,522.1 L177.63,522.76 L177.56,523.41 L177.45,524.04 L177.3,524.64 L177.11,525.22 L176.86,525.77 L176.57,526.29 L176.23,526.79 L175.84,527.26 L175.41,527.71 L174.93,528.13 L174.42,528.53 L173.86,528.92 L173.28,529.28 L172.66,529.63 L172.03,529.96 L171.37,530.29 L170.71,530.61 L170.03,530.92" fill="none" stroke="#111" stroke-width="1"/>
<path d="M372,261.55 L371.4,261.42 L370.8,261.41 L370.19,261.52 L369.59,261.73 L368.99,262.04 L368.39,262.42 L367.79,262.84 L367.19,263.28 L366.58,263.69 L365.98,264.06 L365.38,264.34 L364.78,264.53 L364.18,264.6 L363.58,264.55 L362.97,264.39 L362.37,264.13 L361.77,263.79 L361.17,263.38 L360.57,262.95 L359.96,262.52 L359.36,262.13 L358.76,261.8 L358.16,261.56 L357.56,261.42 L356.96,261.41 L356.35,261.51 L355.75,261.72 L355.15,262.02 L354.55,262.4 L353.95,262.82 L353.35,263.26 L352.74,263.67 L352.14,264.04 L351.54,264.33 L350.94,264.52 L350.34,264.6 L349.73,264.56 L349.13,264.4 L348.53,264.15 L347.93,263.8 L347.33,263.4 L346.73,262.97 L346.12,262.54 L345.52,262.14 L344.92,261.81 L344.32,261.57 L343.72,261.43 L343.12,261.41 L342.51,261.5 L341.91,261.71 L341.31,262.01 L340.71,262.38 L340.11,262.8 L339.5,263.24 L338.9,263.65 L338.3,264.02 L337.7,264.32 L337.1,264.51 L336.5,264.6 L335.89,264.56 L335.29,264.41 L334.69,264.16 L334.09,263.82 L333.49,263.42 L332.88,262.99 L332.28,262.56 L331.68,262.16 L331.08,261.83 L330.48,261.58 L329.88,261.43 L329.27,261.4 L328.67,261.49 L328.07,261.69 L327.47,261.99 L326.87,262.36 L326.27,262.78 L325.66,263.22 L325.06,263.63 L324.46,264.01 L323.86,264.3 L323.26,264.51 L322.65,264.6 L322.05,264.57 L321.45,264.42 L320.85,264.18 L320.25,263.84 L319.65,263.44 L319.04,263.01 L318.44,262.58 L317.84,262.18 L317.24,261.84 L316.64,261.59 L316.04,261.44 L315.43,261.4 L314.83,261.49 L314.23,261.68 L313.63,261.97 L313.03,262.34 L312.42,262.76 L311.82,263.19 L311.22,263.62 L310.62,263.99 L310.02,264.29 L309.42,264.5 L308.81,264.59 L308.21,264.57 L307.61,264.43 L307.01,264.19 L306.41,263.86 L305.81,263.46 L305.2,263.03 L304.6,262.6 L304,262.2 L303.4,261.86 L302.8,261.6 L302.19,261.44 L301.59,261.4 L300.99,261.48 L300.39,261.67 L299.79,261.96 L299.19,262.32 L298.58,262.74 L297.98,263.17 L297.38,263.6 L296.78,263.97 L296.18,264.28 L295.58,264.49 L294.97,264.59 L294.37,264.58 L293.77,264.44 L293.17,264.2 L292.57,263.88 L291.96,263.48 L291.36,263.05 L290.76,262.62 L290.16,262.22 L289.56,261.87 L288.96,261.61 L288.35,261.45 L287.75,261.4 L287.15,261.47 L286.55,261.66 L285.95,261.94 L285.35,262.3 L284.74,262.72 L284.14,263.15 L283.54,263.58 L282.94,263.96 L282.34,264.27 L281.73,264.48 L281.13,264.59 L280.53,264.58 L279.93,264.45 L279.33,264.22 L278.73,263.89 L278.12,263.5 L277.52,263.08 L276.92,262.64 L276.32,262.24 L275.72,261.89 L275.12,261.62 L274.51,261.45 L273.91,261.4 L273.31,261.47 L272.71,261.65 L272.11,261.93 L271.5,262.29 L270.9,262.7 L270.3,263.13 L269.7,263.56 L269.1,263.94 L268.5,264.25 L267.89,264.47 L267.29,264.59 L266.69,264.58 L266.09,264.46 L265.49,264.23 L264.88,263.91 L264.28,263.52 L263.68,263.1 L263.08,262.66 L262.48,262.25 L261.88,261.9 L261.27,261.63 L260.67,261.46 L260.07,261.4 L259.47,261.46 L258.87,261.64 L258.27,261.91 L257.66,262.27 L257.06,262.68 L256.46,263.11 L255.86,263.54 L255.26,263.92 L254.65,264.24 L254.05,264.47 L253.45,264.58 L252.85,264.59 L252.25,264.47 L251.65,264.25 L251.04,263.93 L250.44,263.54 L249.84,263.12 L249.24,262.68 L248.64,262.27 L248.04,261.92 L247.43,261.64 L246.83,261.46 L246.23,261.4 L245.63,261.46 L245.03,261.62 L244.42,261.9 L243.82,262.25 L243.22,262.66 L242.62,263.09 L242.02,263.52 L241.42,263.9 L240.81,264.23 L240.21,264.46 L239.61,264.58 L239.01,264.59 L238.41,264.48 L237.81,264.26 L237.2,263.95 L236.6,263.56 L236,263.14 L236,264.5 L235.75,264.62 L235.41,264.75 L234.99,264.91 L234.54,265.09 L234.09,265.32 L233.66,265.59 L233.29,265.91 L233,266.3 L232.82,266.78 L232.72,267.36 L232.68,268 L232.66,268.69 L232.64,269.38 L232.6,270.05 L232.49,270.67 L232.3,271.2 L232.02,271.65 L231.68,272.06 L231.3,272.43 L230.88,272.77 L230.43,273.09 L229.98,273.39 L229.53,273.69 L229.1,274 L228.65,274.3 L228.16,274.59 L227.65,274.86 L227.14,275.12 L226.65,275.39 L226.22,275.65 L225.86,275.92 L225.6,276.2 L225.43,276.5 L225.34,276.8 L225.32,277.12 L225.34,277.44 L225.42,277.75 L225.52,278.05 L225.65,278.34 L225.8,278.6 L225.97,278.85 L226.18,279.11 L226.42,279.36 L226.69,279.59 L226.99,279.8 L227.31,279.97 L227.65,280.11 L228,280.2 L228.4,280.23 L228.87,280.19 L229.37,280.11 L229.89,280 L230.39,279.88 L230.84,279.76 L231.22,279.66 L231.5,279.6 L231.5,278.39 L232.1,278.07 L232.7,277.84 L233.3,277.72 L233.9,277.71 L234.5,277.82 L235.1,278.04 L235.7,278.35 L236.3,278.73 L236.9,279.15 L237.5,279.59 L238.1,280 L238.71,280.36 L239.31,280.64 L239.91,280.83 L240.51,280.9 L241.11,280.85 L241.71,280.69 L242.31,280.43 L242.91,280.09 L243.51,279.68 L244.11,279.25 L244.71,278.82 L245.31,278.43 L245.91,278.1 L246.51,277.86 L247.11,277.73 L247.71,277.71 L248.31,277.8 L248.91,278.01 L249.51,278.31 L250.11,278.69 L250.71,279.11 L251.31,279.54 L251.91,279.96 L252.51,280.33 L253.12,280.62 L253.72,280.81 L254.32,280.9 L254.92,280.86 L255.52,280.71 L256.12,280.46 L256.72,280.12 L257.32,279.73 L257.92,279.3 L258.52,278.87 L259.12,278.47 L259.72,278.13 L260.32,277.88 L260.92,277.73 L261.52,277.7 L262.12,277.79 L262.72,277.99 L263.32,278.28 L263.92,278.65 L264.52,279.07 L265.12,279.5 L265.72,279.92 L266.32,280.29 L266.93,280.59 L267.53,280.8 L268.13,280.89 L268.73,280.87 L269.33,280.73 L269.93,280.49 L270.53,280.16 L271.13,279.77 L271.73,279.34 L272.33,278.91 L272.93,278.51 L273.53,278.16 L274.13,277.9 L274.73,277.74 L275.33,277.7 L275.93,277.78 L276.53,277.96 L277.13,278.25 L277.73,278.61 L278.33,279.02 L278.93,279.46 L279.53,279.88 L280.13,280.26 L280.74,280.57 L281.34,280.78 L281.94,280.89 L282.54,280.88 L283.14,280.75 L283.74,280.52 L284.34,280.2 L284.94,279.81 L285.54,279.38 L286.14,278.95 L286.74,278.54 L287.34,278.19 L287.94,277.92 L288.54,277.75 L289.14,277.7 L289.74,277.76 L290.34,277.94 L290.94,278.21 L291.54,278.57 L292.14,278.98 L292.74,279.41 L293.34,279.84 L293.94,280.22 L294.54,280.54 L295.15,280.77 L295.75,280.88 L296.35,280.89 L296.95,280.77 L297.55,280.55 L298.15,280.23 L298.75,279.85 L299.35,279.43 L299.95,278.99 L300.55,278.58 L301.15,278.22 L301.75,277.95 L302.35,277.77 L302.95,277.7 L303.55,277.75 L304.15,277.92 L304.75,278.18 L305.35,278.53 L305.95,278.94 L306.55,279.37 L307.15,279.8 L307.75,280.19 L308.35,280.51 L308.96,280.75 L309.56,280.88 L310.16,280.89 L310.76,280.79 L311.36,280.58 L311.96,280.27 L312.56,279.89 L313.16,279.47 L313.76,279.04 L314.36,278.62 L314.96,278.26 L315.56,277.97 L316.16,277.78 L316.76,277.7 L317.36,277.74 L317.96,277.9 L318.56,278.15 L319.16,278.49 L319.76,278.9 L320.36,279.33 L320.96,279.75 L321.56,280.15 L322.16,280.48 L322.76,280.73 L323.37,280.87 L323.97,280.9 L324.57,280.8 L325.17,280.6 L325.77,280.3 L326.37,279.93 L326.97,279.51 L327.57,279.08 L328.17,278.66 L328.77,278.29 L329.37,277.99 L329.97,277.79 L330.57,277.7 L331.17,277.73 L331.77,277.87 L332.37,278.12 L332.97,278.46 L333.57,278.85 L334.17,279.28 L334.77,279.71 L335.37,280.11 L335.97,280.45 L336.57,280.71 L337.18,280.86 L337.78,280.9 L338.38,280.82 L338.98,280.63 L339.58,280.34 L340.18,279.97 L340.78,279.56 L341.38,279.12 L341.98,278.7 L342.58,278.32 L343.18,278.02 L343.78,277.81 L344.38,277.71 L344.98,277.72 L345.58,277.86 L346.18,278.09 L346.78,278.42 L347.38,278.81 L347.98,279.24 L348.58,279.67 L349.18,280.08 L349.78,280.42 L350.38,280.69 L350.99,280.85 L351.59,280.9 L352.19,280.83 L352.79,280.65 L353.39,280.37 L353.99,280.01 L354.59,279.6 L355.19,279.17 L355.79,278.74 L356.39,278.36 L356.99,278.05 L357.59,277.83 L358.19,277.71 L358.79,277.72 L359.39,277.84 L359.99,278.07 L360.59,278.38 L361.19,278.77 L361.79,279.2 L362.39,279.63 L362.99,280.04 L363.59,280.39 L364.19,280.67 L364.79,280.84 L365.4,280.9 L366,280.84 L366.6,280.67 L367.2,280.4 L367.8,280.05 L368.4,279.64 L369,279.21 L369.6,278.78 L370.2,278.4 L370.8,278.07 L371.4,277.84 L372,277.72" fill="#fff" stroke="#111" stroke-width="1"/>
<path d="M372,287.06 L371.4,286.64 L370.8,286.2 L370.2,285.79 L369.6,285.43 L369,285.15 L368.39,284.97 L367.79,284.9 L367.19,284.95 L366.59,285.11 L365.99,285.38 L365.39,285.72 L364.79,286.13 L364.19,286.56 L363.59,286.99 L362.99,287.38 L362.38,287.71 L361.78,287.95 L361.18,288.08 L360.58,288.09 L359.98,287.99 L359.38,287.78 L358.78,287.47 L358.18,287.09 L357.58,286.67 L356.98,286.24 L356.38,285.82 L355.77,285.46 L355.17,285.17 L354.57,284.98 L353.97,284.9 L353.37,284.94 L352.77,285.09 L352.17,285.35 L351.57,285.69 L350.97,286.1 L350.37,286.53 L349.77,286.96 L349.16,287.35 L348.56,287.68 L347.96,287.93 L347.36,288.07 L346.76,288.1 L346.16,288 L345.56,287.8 L344.96,287.5 L344.36,287.13 L343.76,286.71 L343.15,286.27 L342.55,285.86 L341.95,285.49 L341.35,285.19 L340.75,284.99 L340.15,284.9 L339.55,284.93 L338.95,285.08 L338.35,285.33 L337.75,285.66 L337.15,286.06 L336.54,286.49 L335.94,286.92 L335.34,287.32 L334.74,287.66 L334.14,287.91 L333.54,288.06 L332.94,288.1 L332.34,288.01 L331.74,287.82 L331.14,287.53 L330.54,287.16 L329.93,286.74 L329.33,286.31 L328.73,285.89 L328.13,285.51 L327.53,285.21 L326.93,285 L326.33,284.91 L325.73,284.93 L325.13,285.06 L324.53,285.3 L323.92,285.63 L323.32,286.03 L322.72,286.46 L322.12,286.89 L321.52,287.29 L320.92,287.64 L320.32,287.9 L319.72,288.06 L319.12,288.1 L318.52,288.03 L317.92,287.84 L317.31,287.55 L316.71,287.19 L316.11,286.78 L315.51,286.34 L314.91,285.92 L314.31,285.54 L313.71,285.23 L313.11,285.02 L312.51,284.91 L311.91,284.92 L311.31,285.05 L310.7,285.28 L310.1,285.6 L309.5,285.99 L308.9,286.42 L308.3,286.85 L307.7,287.26 L307.1,287.61 L306.5,287.88 L305.9,288.05 L305.3,288.1 L304.69,288.04 L304.09,287.86 L303.49,287.58 L302.89,287.22 L302.29,286.81 L301.69,286.38 L301.09,285.95 L300.49,285.57 L299.89,285.25 L299.29,285.03 L298.69,284.91 L298.08,284.92 L297.48,285.03 L296.88,285.26 L296.28,285.58 L295.68,285.96 L295.08,286.39 L294.48,286.82 L293.88,287.23 L293.28,287.59 L292.68,287.86 L292.08,288.04 L291.47,288.1 L290.87,288.04 L290.27,287.88 L289.67,287.61 L289.07,287.25 L288.47,286.85 L287.87,286.41 L287.27,285.99 L286.67,285.6 L286.07,285.28 L285.46,285.04 L284.86,284.92 L284.26,284.91 L283.66,285.02 L283.06,285.24 L282.46,285.55 L281.86,285.93 L281.26,286.35 L280.66,286.78 L280.06,287.2 L279.46,287.56 L278.85,287.84 L278.25,288.03 L277.65,288.1 L277.05,288.05 L276.45,287.89 L275.85,287.63 L275.25,287.28 L274.65,286.88 L274.05,286.45 L273.45,286.02 L272.85,285.63 L272.24,285.3 L271.64,285.06 L271.04,284.93 L270.44,284.91 L269.84,285.01 L269.24,285.22 L268.64,285.52 L268.04,285.9 L267.44,286.32 L266.84,286.75 L266.23,287.17 L265.63,287.53 L265.03,287.82 L264.43,288.02 L263.83,288.1 L263.23,288.06 L262.63,287.91 L262.03,287.66 L261.43,287.31 L260.83,286.91 L260.23,286.48 L259.62,286.05 L259.02,285.66 L258.42,285.32 L257.82,285.07 L257.22,284.93 L256.62,284.9 L256.02,284.99 L255.42,285.2 L254.82,285.49 L254.22,285.86 L253.62,286.28 L253.01,286.72 L252.41,287.13 L251.81,287.51 L251.21,287.8 L250.61,288 L250.01,288.1 L249.41,288.07 L248.81,287.93 L248.21,287.68 L247.61,287.34 L247,286.95 L246.4,286.52 L245.8,286.09 L245.2,285.69 L244.6,285.35 L244,285.09 L244,286.6 L243.8,286.82 L243.52,287.11 L243.18,287.45 L242.81,287.83 L242.44,288.24 L242.08,288.66 L241.76,289.09 L241.5,289.5 L241.3,289.93 L241.12,290.41 L240.97,290.92 L240.84,291.43 L240.74,291.92 L240.64,292.36 L240.57,292.73 L240.5,293 L238.93,291.4 L238.85,292.18 L238.76,292.95 L238.66,293.71 L238.54,294.45 L238.38,295.16 L238.2,295.84 L237.98,296.47 L237.72,297.07 L237.41,297.62 L237.05,298.11 L236.64,298.56 L236.19,298.96 L235.68,299.31 L235.13,299.6 L234.53,299.85 L233.88,300.06 L233.2,300.23 L232.49,300.37 L231.75,300.47 L230.99,300.56 L230.21,300.63 L229.43,300.7 L229.35,301.48 L229.26,302.25 L229.16,303.01 L229.04,303.75 L228.88,304.46 L228.7,305.14 L228.48,305.77 L228.22,306.37 L227.91,306.92 L227.55,307.41 L227.14,307.86 L226.69,308.26 L226.18,308.61 L225.63,308.9 L225.03,309.15 L224.38,309.36 L223.7,309.53 L222.99,309.67 L222.25,309.77 L221.49,309.86 L220.71,309.93 L219.93,310 L219.85,310.78 L219.76,311.55 L219.66,312.31 L219.54,313.05 L219.38,313.76 L219.2,314.44 L218.98,315.07 L218.72,315.67 L218.41,316.22 L218.05,316.71 L217.64,317.16 L217.19,317.56 L216.68,317.91 L216.13,318.2 L215.53,318.45 L214.88,318.66 L214.2,318.83 L213.49,318.97 L212.75,319.07 L211.99,319.16 L211.21,319.23 L210.43,319.3 L210.35,320.08 L210.26,320.85 L210.16,321.61 L210.04,322.35 L209.88,323.06 L209.7,323.74 L209.48,324.37 L209.22,324.97 L208.91,325.52 L208.55,326.01 L208.14,326.46 L207.69,326.86 L207.18,327.21 L206.63,327.5 L206.03,327.75 L205.38,327.96 L204.7,328.13 L203.99,328.27 L203.25,328.37 L202.49,328.46 L201.71,328.53 L200.93,328.6 L200.85,329.38 L200.76,330.15 L200.66,330.91 L200.54,331.65 L200.38,332.36 L200.2,333.04 L199.98,333.67 L199.72,334.27 L199.41,334.82 L199.05,335.31 L198.64,335.76 L198.19,336.16 L197.68,336.51 L197.13,336.8 L196.53,337.05 L195.88,337.26 L195.2,337.43 L194.49,337.57 L193.75,337.67 L192.99,337.76 L192.21,337.83 L191.43,337.9 L193,339.5 L192.82,339.69 L192.56,339.95 L192.25,340.26 L191.92,340.6 L191.58,340.96 L191.27,341.32 L191,341.68 L190.8,342 L190.66,342.31 L190.56,342.62 L190.49,342.93 L190.44,343.24 L190.43,343.55 L190.43,343.84 L190.46,344.13 L190.5,344.4 L190.57,344.67 L190.66,344.95 L190.77,345.23 L190.91,345.49 L191.07,345.73 L191.24,345.94 L191.41,346.1 L191.6,346.2 L191.81,346.23 L192.06,346.18 L192.34,346.09 L192.62,345.96 L192.89,345.82 L193.14,345.68 L193.35,345.57 L193.5,345.5 L193.5,344.15 L194.1,343.73 L194.7,343.37 L195.3,343.1 L195.9,342.94 L196.51,342.9 L197.11,342.99 L197.71,343.2 L198.31,343.51 L198.91,343.9 L199.51,344.34 L200.11,344.8 L200.71,345.25 L201.31,345.65 L201.91,345.97 L202.52,346.19 L203.12,346.29 L203.72,346.27 L204.32,346.13 L204.92,345.87 L205.52,345.52 L206.12,345.1 L206.72,344.65 L207.32,344.19 L207.92,343.76 L208.53,343.39 L209.13,343.12 L209.73,342.95 L210.33,342.9 L210.93,342.98 L211.53,343.18 L212.13,343.48 L212.73,343.87 L213.33,344.31 L213.93,344.77 L214.54,345.22 L215.14,345.62 L215.74,345.95 L216.34,346.18 L216.94,346.29 L217.54,346.28 L218.14,346.14 L218.74,345.89 L219.34,345.55 L219.94,345.14 L220.55,344.68 L221.15,344.22 L221.75,343.79 L222.35,343.42 L222.95,343.13 L223.55,342.96 L224.15,342.9 L224.75,342.97 L225.35,343.16 L225.95,343.45 L226.56,343.83 L227.16,344.27 L227.76,344.73 L228.36,345.18 L228.96,345.59 L229.56,345.93 L230.16,346.16 L230.76,346.29 L231.36,346.28 L231.96,346.16 L232.57,345.92 L233.17,345.58 L233.77,345.17 L234.37,344.72 L234.97,344.26 L235.57,343.82 L236.17,343.44 L236.77,343.15 L237.37,342.97 L237.97,342.9 L238.58,342.96 L239.18,343.14 L239.78,343.43 L240.38,343.8 L240.98,344.23 L241.58,344.69 L242.18,345.15 L242.78,345.56 L243.38,345.9 L243.98,346.15 L244.59,346.28 L245.19,346.29 L245.79,346.17 L246.39,345.94 L246.99,345.61 L247.59,345.2 L248.19,344.75 L248.79,344.29 L249.39,343.85 L249.99,343.47 L250.6,343.17 L251.2,342.98 L251.8,342.9 L252.4,342.95 L253,343.12 L253.6,343.4 L254.2,343.77 L254.8,344.2 L255.4,344.66 L256.01,345.11 L256.61,345.53 L257.21,345.88 L257.81,346.13 L258.41,346.27 L259.01,346.29 L259.61,346.19 L260.21,345.96 L260.81,345.64 L261.41,345.24 L262.02,344.79 L262.62,344.33 L263.22,343.89 L263.82,343.5 L264.42,343.19 L265.02,342.99 L265.62,342.9 L266.22,342.94 L266.82,343.1 L267.42,343.38 L268.03,343.74 L268.63,344.16 L269.23,344.62 L269.83,345.08 L270.43,345.5 L271.03,345.85 L271.63,346.12 L272.23,346.27 L272.83,346.3 L273.43,346.2 L274.04,345.98 L274.64,345.67 L275.24,345.27 L275.84,344.83 L276.44,344.36 L277.04,343.92 L277.64,343.53 L278.24,343.21 L278.84,343 L279.44,342.9 L280.05,342.93 L280.65,343.09 L281.25,343.35 L281.85,343.71 L282.45,344.13 L283.05,344.59 L283.65,345.04 L284.25,345.47 L284.85,345.83 L285.45,346.1 L286.06,346.26 L286.66,346.3 L287.26,346.21 L287.86,346 L288.46,345.69 L289.06,345.3 L289.66,344.86 L290.26,344.4 L290.86,343.95 L291.46,343.55 L292.07,343.23 L292.67,343.01 L293.27,342.91 L293.87,342.93 L294.47,343.07 L295.07,343.33 L295.67,343.68 L296.27,344.1 L296.87,344.55 L297.47,345.01 L298.08,345.44 L298.68,345.81 L299.28,346.08 L299.88,346.25 L300.48,346.3 L301.08,346.22 L301.68,346.02 L302.28,345.72 L302.88,345.34 L303.48,344.9 L304.09,344.44 L304.69,343.99 L305.29,343.58 L305.89,343.25 L306.49,343.02 L307.09,342.91 L307.69,342.92 L308.29,343.06 L308.89,343.3 L309.49,343.65 L310.1,344.06 L310.7,344.51 L311.3,344.97 L311.9,345.41 L312.5,345.78 L313.1,346.07 L313.7,346.24 L314.3,346.3 L314.9,346.23 L315.51,346.04 L316.11,345.75 L316.71,345.37 L317.31,344.93 L317.91,344.47 L318.51,344.02 L319.11,343.61 L319.71,343.28 L320.31,343.04 L320.91,342.92 L321.52,342.92 L322.12,343.04 L322.72,343.28 L323.32,343.62 L323.92,344.03 L324.52,344.48 L325.12,344.94 L325.72,345.37 L326.32,345.75 L326.92,346.05 L327.53,346.23 L328.13,346.3 L328.73,346.24 L329.33,346.06 L329.93,345.77 L330.53,345.4 L331.13,344.97 L331.73,344.51 L332.33,344.05 L332.93,343.64 L333.54,343.3 L334.14,343.05 L334.74,342.92 L335.34,342.91 L335.94,343.03 L336.54,343.26 L337.14,343.59 L337.74,343.99 L338.34,344.44 L338.94,344.9 L339.55,345.34 L340.15,345.73 L340.75,346.03 L341.35,346.22 L341.95,346.3 L342.55,346.25 L343.15,346.08 L343.75,345.8 L344.35,345.43 L344.95,345 L345.56,344.54 L346.16,344.09 L346.76,343.67 L347.36,343.32 L347.96,343.07 L348.56,342.93 L349.16,342.91 L349.76,343.01 L350.36,343.24 L350.96,343.56 L351.57,343.96 L352.17,344.41 L352.77,344.87 L353.37,345.31 L353.97,345.7 L354.57,346.01 L355.17,346.21 L355.77,346.3 L356.37,346.26 L356.97,346.1 L357.58,345.83 L358.18,345.46 L358.78,345.04 L359.38,344.58 L359.98,344.12 L360.58,343.7 L361.18,343.35 L361.78,343.08 L362.38,342.93 L362.98,342.9 L363.59,343 L364.19,343.22 L364.79,343.53 L365.39,343.93 L365.99,344.37 L366.59,344.83 L367.19,345.28 L367.79,345.67 L368.39,345.99 L368.99,346.2 L369.6,346.3 L370.2,346.27 L370.8,346.11 L371.4,345.85 L372,345.49" fill="#fff" stroke="#111" stroke-width="1"/>
<text transform="translate(238.4,274.8) scale(1,0.94)" font-size="10.7" textLength="126.6" lengthAdjust="spacingAndGlyphs">Cerro Tasajo Limestone 0–75</text>
<text transform="translate(242.7,321.9) scale(1,1.06)" font-size="12.25" textLength="110.8" lengthAdjust="spacingAndGlyphs">Los Pozos Fm 50–150</text>
<text transform="translate(206.8,235.5) scale(1,0.94)" font-size="10.7" textLength="136.3" lengthAdjust="spacingAndGlyphs">Los Chinos Conglomerate 0–15</text>
<line x1="308.2" y1="236.2" x2="316.7" y2="246.7" stroke="#111" stroke-width="1"/>
<path d="M205.5,251 Q207,247.1 211.2,247.1 L257.5,247.1 L251.5,243.4 L372,243.4" fill="none" stroke="#111" stroke-width="1.1"/>
<text transform="translate(231,463.4) scale(1,0.94)" font-size="10.8" textLength="113" lengthAdjust="spacingAndGlyphs">El Torote Limestone 0–20</text>
<line x1="209.5" y1="464.1" x2="372" y2="464.1" stroke="#111" stroke-width="1.1"/>
<text transform="translate(219.8,481.4) scale(1,1.06)" font-size="12.25" textLength="106.3" lengthAdjust="spacingAndGlyphs">El Yaqui Chert 5–150</text>
<line x1="196.3" y1="487.4" x2="372" y2="487.4" stroke="#111" stroke-width="1.1"/>
<text transform="translate(204.7,506.7) scale(1,1.06)" font-size="12.25" textLength="137.1" lengthAdjust="spacingAndGlyphs">El Mezquite Shale 100–150</text>
<line x1="177" y1="522.1" x2="266.6" y2="522.1" stroke="#333" stroke-width="1"/>
<line x1="276.4" y1="522.1" x2="372" y2="522.1" stroke="#333" stroke-width="1"/>
<text transform="translate(271.5,526.2) scale(1,1.06)" font-size="12.3" text-anchor="middle">?</text>
<text transform="translate(211.2,537.7) scale(1,1.06)" font-size="12.25" textLength="120.2" lengthAdjust="spacingAndGlyphs">El Quemado Shale &gt;300</text>
<line x1="171" y1="546.6" x2="266.6" y2="546.6" stroke="#333" stroke-width="1"/>
<line x1="276.4" y1="546.6" x2="372" y2="546.6" stroke="#333" stroke-width="1"/>
<text transform="translate(271.5,551.7) scale(1,1.06)" font-size="12.3" text-anchor="middle">?</text>
<text transform="translate(271.4,603.1) scale(1,1.06)" font-size="12.25" text-anchor="middle">No data</text>
<text transform="translate(470.3,88.9) scale(1,1.06)" font-size="12.25" text-anchor="middle">No data</text>
<path d="M461.9,111.5h1.2M554.9,108.5h1.2M472.9,111.5h1.2M408.9,110.5h1.2M496.9,116.5h1.2M390.9,105.5h1.2M389.9,116.5h1.2M509.9,99.5h1.2M566.9,120.5h1.2M501.9,112.5h1.2M403.9,98.5h1.2M476.9,99.5h1.2M409.9,103.5h1.2M377.9,108.5h1.2M459.9,117.5h1.2M462.9,104.5h1.2M538.9,114.5h1.2M434.9,103.5h1.2M429.9,100.5h1.2M523.9,107.5h1.2M539.9,107.5h1.2M561.9,117.5h1.2M372.9,103.5h1.2M566.9,107.5h1.2M386.9,112.5h1.2M395.9,104.5h1.2M392.9,99.5h1.2M529.9,102.5h1.2M482.9,108.5h1.2M409.9,114.5h1.2M397.9,112.5h1.2M414.9,104.5h1.2M432.9,118.5h1.2M391.9,120.5h1.2M420.9,112.5h1.2M445.9,108.5h1.2M561.9,109.5h1.2M485.9,117.5h1.2M551.9,116.5h1.2M421.9,102.5h1.2M518.9,119.5h1.2M410.9,119.5h1.2M546.9,112.5h1.2M455.9,100.5h1.2M379.9,120.5h1.2M422.9,117.5h1.2M490.9,105.5h1.2M385.9,103.5h1.2M553.9,103.5h1.2M460.9,99.5h1.2M485.9,101.5h1.2M443.9,118.5h1.2M566.9,113.5h1.2M508.9,111.5h1.2M510.9,120.5h1.2M467.9,114.5h1.2M517.9,114.5h1.2M529.9,119.5h1.2M441.9,113.5h1.2M454.9,116.5h1.2M495.9,107.5h1.2M487.9,112.5h1.2M516.9,107.5h1.2M467.9,103.5h1.2M431.9,113.5h1.2M436.9,113.5h1.2M546.9,107.5h1.2M386.9,99.5h1.2M544.9,99.5h1.2M536.9,103.5h1.2M513.9,102.5h1.2M425.9,106.5h1.2M449.9,116.5h1.2M556.9,114.5h1.2M546.9,116.5h1.2M500.9,103.5h1.2M478.9,116.5h1.2M468.9,99.5h1.2M399.9,101.5h1.2M559.9,100.5h1.2M415.9,110.5h1.2M539.9,118.5h1.2M478.9,109.5h1.2M491.9,99.5h1.2M397.9,108.5h1.2M533.9,118.5h1.2M526.9,99.5h1.2M508.9,105.5h1.2M415.9,120.5h1.2M384.9,119.5h1.2M436.9,109.5h1.2M533.9,107.5h1.2M510.9,115.5h1.2M566.9,99.5h1.2M446.9,100.5h1.2M490.9,115.5h1.2M403.9,109.5h1.2M403.9,115.5h1.2M520.9,99.5h1.2M457.9,109.5h1.2M412.9,99.5h1.2M527.9,112.5h1.2M443.9,104.5h1.2M379.9,99.5h1.2M532.9,112.5h1.2M501.9,120.5h1.2M450.9,107.5h1.2M415.9,115.5h1.2M384.9,108.5h1.2M426.9,120.5h1.2M424.9,110.5h1.2M372.9,116.5h1.2M467.9,109.5h1.2M528.9,107.5h1.2M463.9,120.5h1.2M523.9,116.5h1.2M472.9,116.5h1.2M550.9,110.5h1.2M437.9,119.5h1.2M396.9,120.5h1.2" stroke="#000" stroke-width="1.2"/>
<line x1="372" y1="97.4" x2="465.1" y2="97.4" stroke="#000" stroke-width="1"/>
<line x1="474.9" y1="97.4" x2="573" y2="97.4" stroke="#000" stroke-width="1"/>
<text transform="translate(470,101) scale(1,1.06)" font-size="12.3" text-anchor="middle">?</text>
<line x1="372" y1="121.9" x2="556" y2="121.9" stroke="#999" stroke-width="1.7"/>
<line x1="544.5" y1="124" x2="573" y2="124" stroke="#333" stroke-width="1.2"/>
<line x1="544.5" y1="124" x2="556" y2="121.9" stroke="#333" stroke-width="1"/>
<circle cx="389" cy="112.2" r="6.6" fill="#fdd800"/>
<text transform="translate(409.3,114.4) scale(1,1.06)" font-size="12.25" textLength="121.2" lengthAdjust="spacingAndGlyphs">Mina México Fm &gt;1000</text>
<circle cx="388.8" cy="138.2" r="6.4" fill="#8fd4f5"/>
<text transform="translate(404.6,147.3) scale(1,1.06)" font-size="12.25" textLength="130.2" lengthAdjust="spacingAndGlyphs">La Cueva Limestone &gt;200</text>
<clipPath id="k1"><path d="M372,163.83 L372.6,163.5 L373.21,163.27 L373.81,163.16 L374.41,163.17 L375.01,163.31 L375.62,163.57 L376.22,163.91 L376.82,164.33 L377.42,164.79 L378.03,165.25 L378.63,165.68 L379.23,166.05 L379.83,166.33 L380.44,166.5 L381.04,166.55 L381.64,166.47 L382.25,166.28 L382.85,165.97 L383.45,165.59 L384.05,165.15 L384.66,164.69 L385.26,164.24 L385.86,163.83 L386.46,163.5 L387.07,163.27 L387.67,163.16 L388.27,163.17 L388.87,163.31 L389.48,163.56 L390.08,163.91 L390.68,164.32 L391.28,164.78 L391.89,165.24 L392.49,165.67 L393.09,166.04 L393.7,166.32 L394.3,166.5 L394.9,166.55 L395.5,166.47 L396.11,166.28 L396.71,165.98 L397.31,165.59 L397.91,165.16 L398.52,164.69 L399.12,164.24 L399.72,163.84 L400.32,163.51 L400.93,163.28 L401.53,163.16 L402.13,163.17 L402.74,163.31 L403.34,163.56 L403.94,163.9 L404.54,164.32 L405.15,164.77 L405.75,165.23 L406.35,165.66 L406.95,166.04 L407.56,166.32 L408.16,166.5 L408.76,166.55 L409.36,166.48 L409.97,166.28 L410.57,165.98 L411.17,165.6 L411.77,165.16 L412.38,164.7 L412.98,164.25 L413.58,163.84 L414.19,163.51 L414.79,163.28 L415.39,163.16 L415.99,163.17 L416.6,163.3 L417.2,163.55 L417.8,163.9 L418.4,164.31 L419.01,164.76 L419.61,165.23 L420.21,165.66 L420.81,166.03 L421.42,166.32 L422.02,166.49 L422.62,166.55 L423.23,166.48 L423.83,166.29 L424.43,165.99 L425.03,165.61 L425.64,165.17 L426.24,164.71 L426.84,164.26 L427.44,163.85 L428.05,163.51 L428.65,163.28 L429.25,163.16 L429.85,163.17 L430.46,163.3 L431.06,163.55 L431.66,163.89 L432.26,164.3 L432.87,164.76 L433.47,165.22 L434.07,165.65 L434.68,166.03 L435.28,166.31 L435.88,166.49 L436.48,166.55 L437.09,166.48 L437.69,166.29 L438.29,165.99 L438.89,165.61 L439.5,165.18 L440.1,164.71 L440.7,164.26 L441.3,163.85 L441.91,163.52 L442.51,163.28 L443.11,163.16 L443.72,163.17 L444.32,163.3 L444.92,163.54 L445.52,163.88 L446.13,164.3 L446.73,164.75 L447.33,165.21 L447.93,165.65 L448.54,166.02 L449.14,166.31 L449.74,166.49 L450.34,166.55 L450.95,166.48 L451.55,166.3 L452.15,166 L452.75,165.62 L453.36,165.18 L453.96,164.72 L454.56,164.27 L455.17,163.86 L455.77,163.52 L456.37,163.29 L456.97,163.16 L457.58,163.17 L458.18,163.3 L458.78,163.54 L459.38,163.88 L459.99,164.29 L460.59,164.74 L461.19,165.21 L461.79,165.64 L462.4,166.02 L463,166.31 L463,185.96 L462.4,185.67 L461.79,185.29 L461.19,184.86 L460.59,184.39 L459.99,183.94 L459.38,183.53 L458.78,183.19 L458.18,182.95 L457.58,182.82 L456.97,182.81 L456.37,182.94 L455.77,183.17 L455.17,183.51 L454.56,183.92 L453.96,184.37 L453.36,184.83 L452.75,185.27 L452.15,185.65 L451.55,185.95 L450.95,186.13 L450.34,186.2 L449.74,186.14 L449.14,185.96 L448.54,185.67 L447.93,185.3 L447.33,184.86 L446.73,184.4 L446.13,183.95 L445.52,183.53 L444.92,183.19 L444.32,182.95 L443.72,182.82 L443.11,182.81 L442.51,182.93 L441.91,183.17 L441.3,183.5 L440.7,183.91 L440.1,184.36 L439.5,184.83 L438.89,185.26 L438.29,185.64 L437.69,185.94 L437.09,186.13 L436.48,186.2 L435.88,186.14 L435.28,185.96 L434.68,185.68 L434.07,185.3 L433.47,184.87 L432.87,184.41 L432.26,183.95 L431.66,183.54 L431.06,183.2 L430.46,182.95 L429.85,182.82 L429.25,182.81 L428.65,182.93 L428.05,183.16 L427.44,183.5 L426.84,183.91 L426.24,184.36 L425.64,184.82 L425.03,185.26 L424.43,185.64 L423.83,185.94 L423.23,186.13 L422.62,186.2 L422.02,186.14 L421.42,185.97 L420.81,185.68 L420.21,185.31 L419.61,184.88 L419.01,184.41 L418.4,183.96 L417.8,183.55 L417.2,183.2 L416.6,182.95 L415.99,182.82 L415.39,182.81 L414.79,182.93 L414.19,183.16 L413.58,183.49 L412.98,183.9 L412.38,184.35 L411.77,184.81 L411.17,185.25 L410.57,185.63 L409.97,185.93 L409.36,186.13 L408.76,186.2 L408.16,186.15 L407.56,185.97 L406.95,185.69 L406.35,185.31 L405.75,184.88 L405.15,184.42 L404.54,183.97 L403.94,183.55 L403.34,183.21 L402.74,182.96 L402.13,182.82 L401.53,182.81 L400.93,182.93 L400.32,183.16 L399.72,183.49 L399.12,183.89 L398.52,184.34 L397.91,184.81 L397.31,185.24 L396.71,185.63 L396.11,185.93 L395.5,186.12 L394.9,186.2 L394.3,186.15 L393.7,185.97 L393.09,185.69 L392.49,185.32 L391.89,184.89 L391.28,184.43 L390.68,183.97 L390.08,183.56 L389.48,183.21 L388.87,182.96 L388.27,182.82 L387.67,182.81 L387.07,182.92 L386.46,183.15 L385.86,183.48 L385.26,183.89 L384.66,184.34 L384.05,184.8 L383.45,185.24 L382.85,185.62 L382.25,185.93 L381.64,186.12 L381.04,186.2 L380.44,186.15 L379.83,185.98 L379.23,185.7 L378.63,185.33 L378.03,184.9 L377.42,184.44 L376.82,183.98 L376.22,183.56 L375.62,183.22 L375.01,182.96 L374.41,182.82 L373.81,182.81 L373.21,182.92 L372.6,183.15 L372,183.48Z"/></clipPath>
<g clip-path="url(#k1)">
<path d="M376.5,160.85V188.5M384.5,160.85V188.5M393.5,160.85V188.5M402.5,160.85V188.5M410.5,160.85V188.5M419.5,160.85V188.5M428.5,160.85V188.5M436.5,160.85V188.5M445.5,160.85V188.5M453.5,160.85V188.5M462.5,160.85V188.5" stroke="#000" stroke-width="1.3" fill="none"/>
</g>
<path d="M372,163.83 L372.6,163.5 L373.21,163.27 L373.81,163.16 L374.41,163.17 L375.01,163.31 L375.62,163.57 L376.22,163.91 L376.82,164.33 L377.42,164.79 L378.03,165.25 L378.63,165.68 L379.23,166.05 L379.83,166.33 L380.44,166.5 L381.04,166.55 L381.64,166.47 L382.25,166.28 L382.85,165.97 L383.45,165.59 L384.05,165.15 L384.66,164.69 L385.26,164.24 L385.86,163.83 L386.46,163.5 L387.07,163.27 L387.67,163.16 L388.27,163.17 L388.87,163.31 L389.48,163.56 L390.08,163.91 L390.68,164.32 L391.28,164.78 L391.89,165.24 L392.49,165.67 L393.09,166.04 L393.7,166.32 L394.3,166.5 L394.9,166.55 L395.5,166.47 L396.11,166.28 L396.71,165.98 L397.31,165.59 L397.91,165.16 L398.52,164.69 L399.12,164.24 L399.72,163.84 L400.32,163.51 L400.93,163.28 L401.53,163.16 L402.13,163.17 L402.74,163.31 L403.34,163.56 L403.94,163.9 L404.54,164.32 L405.15,164.77 L405.75,165.23 L406.35,165.66 L406.95,166.04 L407.56,166.32 L408.16,166.5 L408.76,166.55 L409.36,166.48 L409.97,166.28 L410.57,165.98 L411.17,165.6 L411.77,165.16 L412.38,164.7 L412.98,164.25 L413.58,163.84 L414.19,163.51 L414.79,163.28 L415.39,163.16 L415.99,163.17 L416.6,163.3 L417.2,163.55 L417.8,163.9 L418.4,164.31 L419.01,164.76 L419.61,165.23 L420.21,165.66 L420.81,166.03 L421.42,166.32 L422.02,166.49 L422.62,166.55 L423.23,166.48 L423.83,166.29 L424.43,165.99 L425.03,165.61 L425.64,165.17 L426.24,164.71 L426.84,164.26 L427.44,163.85 L428.05,163.51 L428.65,163.28 L429.25,163.16 L429.85,163.17 L430.46,163.3 L431.06,163.55 L431.66,163.89 L432.26,164.3 L432.87,164.76 L433.47,165.22 L434.07,165.65 L434.68,166.03 L435.28,166.31 L435.88,166.49 L436.48,166.55 L437.09,166.48 L437.69,166.29 L438.29,165.99 L438.89,165.61 L439.5,165.18 L440.1,164.71 L440.7,164.26 L441.3,163.85 L441.91,163.52 L442.51,163.28 L443.11,163.16 L443.72,163.17 L444.32,163.3 L444.92,163.54 L445.52,163.88 L446.13,164.3 L446.73,164.75 L447.33,165.21 L447.93,165.65 L448.54,166.02 L449.14,166.31 L449.74,166.49 L450.34,166.55 L450.95,166.48 L451.55,166.3 L452.15,166 L452.75,165.62 L453.36,165.18 L453.96,164.72 L454.56,164.27 L455.17,163.86 L455.77,163.52 L456.37,163.29 L456.97,163.16 L457.58,163.17 L458.18,163.3 L458.78,163.54 L459.38,163.88 L459.99,164.29 L460.59,164.74 L461.19,165.21 L461.79,165.64 L462.4,166.02 L463,166.31" fill="none" stroke="#111" stroke-width="1"/>
<path d="M463,185.96 L462.4,185.67 L461.79,185.29 L461.19,184.86 L460.59,184.39 L459.99,183.94 L459.38,183.53 L458.78,183.19 L458.18,182.95 L457.58,182.82 L456.97,182.81 L456.37,182.94 L455.77,183.17 L455.17,183.51 L454.56,183.92 L453.96,184.37 L453.36,184.83 L452.75,185.27 L452.15,185.65 L451.55,185.95 L450.95,186.13 L450.34,186.2 L449.74,186.14 L449.14,185.96 L448.54,185.67 L447.93,185.3 L447.33,184.86 L446.73,184.4 L446.13,183.95 L445.52,183.53 L444.92,183.19 L444.32,182.95 L443.72,182.82 L443.11,182.81 L442.51,182.93 L441.91,183.17 L441.3,183.5 L440.7,183.91 L440.1,184.36 L439.5,184.83 L438.89,185.26 L438.29,185.64 L437.69,185.94 L437.09,186.13 L436.48,186.2 L435.88,186.14 L435.28,185.96 L434.68,185.68 L434.07,185.3 L433.47,184.87 L432.87,184.41 L432.26,183.95 L431.66,183.54 L431.06,183.2 L430.46,182.95 L429.85,182.82 L429.25,182.81 L428.65,182.93 L428.05,183.16 L427.44,183.5 L426.84,183.91 L426.24,184.36 L425.64,184.82 L425.03,185.26 L424.43,185.64 L423.83,185.94 L423.23,186.13 L422.62,186.2 L422.02,186.14 L421.42,185.97 L420.81,185.68 L420.21,185.31 L419.61,184.88 L419.01,184.41 L418.4,183.96 L417.8,183.55 L417.2,183.2 L416.6,182.95 L415.99,182.82 L415.39,182.81 L414.79,182.93 L414.19,183.16 L413.58,183.49 L412.98,183.9 L412.38,184.35 L411.77,184.81 L411.17,185.25 L410.57,185.63 L409.97,185.93 L409.36,186.13 L408.76,186.2 L408.16,186.15 L407.56,185.97 L406.95,185.69 L406.35,185.31 L405.75,184.88 L405.15,184.42 L404.54,183.97 L403.94,183.55 L403.34,183.21 L402.74,182.96 L402.13,182.82 L401.53,182.81 L400.93,182.93 L400.32,183.16 L399.72,183.49 L399.12,183.89 L398.52,184.34 L397.91,184.81 L397.31,185.24 L396.71,185.63 L396.11,185.93 L395.5,186.12 L394.9,186.2 L394.3,186.15 L393.7,185.97 L393.09,185.69 L392.49,185.32 L391.89,184.89 L391.28,184.43 L390.68,183.97 L390.08,183.56 L389.48,183.21 L388.87,182.96 L388.27,182.82 L387.67,182.81 L387.07,182.92 L386.46,183.15 L385.86,183.48 L385.26,183.89 L384.66,184.34 L384.05,184.8 L383.45,185.24 L382.85,185.62 L382.25,185.93 L381.64,186.12 L381.04,186.2 L380.44,186.15 L379.83,185.98 L379.23,185.7 L378.63,185.33 L378.03,184.9 L377.42,184.44 L376.82,183.98 L376.22,183.56 L375.62,183.22 L375.01,182.96 L374.41,182.82 L373.81,182.81 L373.21,182.92 L372.6,183.15 L372,183.48" fill="none" stroke="#111" stroke-width="1"/>
<line x1="463" y1="166.31" x2="463" y2="185.96" stroke="#111" stroke-width="1.3"/>
<clipPath id="k2"><path d="M475.6,166.03 L476.2,166.32 L476.8,166.5 L477.4,166.55 L478,166.48 L478.61,166.29 L479.21,165.99 L479.81,165.61 L480.41,165.17 L481.01,164.71 L481.61,164.26 L482.21,163.85 L482.81,163.52 L483.42,163.28 L484.02,163.16 L484.62,163.17 L485.22,163.3 L485.82,163.54 L486.42,163.88 L487.02,164.29 L487.62,164.74 L488.23,165.2 L488.83,165.64 L489.43,166.01 L490.03,166.3 L490.63,166.49 L491.23,166.55 L491.83,166.49 L492.43,166.31 L493.04,166.02 L493.64,165.64 L494.24,165.2 L494.84,164.74 L495.44,164.29 L496.04,163.88 L496.64,163.54 L497.24,163.3 L497.85,163.17 L498.45,163.16 L499.05,163.28 L499.65,163.52 L500.25,163.85 L500.85,164.26 L501.45,164.71 L502.05,165.17 L502.66,165.61 L503.26,165.99 L503.86,166.29 L504.46,166.48 L505.06,166.55 L505.66,166.5 L506.26,166.32 L506.86,166.04 L507.47,165.67 L508.07,165.24 L508.67,164.78 L509.27,164.32 L509.87,163.91 L510.47,163.56 L511.07,163.31 L511.67,163.17 L512.28,163.16 L512.88,163.27 L513.48,163.5 L514.08,163.83 L514.68,164.23 L515.28,164.68 L515.88,165.14 L516.48,165.58 L517.09,165.96 L517.69,166.27 L518.29,166.47 L518.89,166.55 L519.49,166.5 L520.09,166.34 L520.69,166.06 L521.29,165.7 L521.9,165.27 L522.5,164.81 L523.1,164.35 L523.7,163.93 L524.3,163.58 L524.9,163.32 L525.5,163.18 L526.1,163.16 L526.7,163.26 L527.31,163.48 L527.91,163.8 L528.51,164.2 L529.11,164.64 L529.71,165.11 L530.31,165.55 L530.91,165.94 L531.51,166.25 L532.12,166.46 L532.72,166.55 L533.32,166.51 L533.92,166.35 L534.52,166.08 L535.12,165.72 L535.72,165.3 L536.32,164.84 L536.93,164.38 L537.53,163.96 L538.13,163.6 L538.73,163.34 L539.33,163.19 L539.93,163.15 L540.53,163.25 L541.13,163.46 L541.74,163.77 L542.34,164.17 L542.94,164.61 L543.54,165.07 L544.14,165.52 L544.74,165.91 L545.34,166.23 L545.94,166.45 L546.55,166.55 L547.15,166.52 L547.75,166.37 L548.35,166.1 L548.95,165.75 L549.55,165.33 L550.15,164.87 L550.75,164.41 L551.36,163.99 L551.96,163.63 L552.56,163.35 L553.16,163.19 L553.76,163.15 L554.36,163.24 L554.96,163.44 L555.56,163.75 L556.17,164.14 L556.77,164.58 L557.37,165.04 L557.97,165.49 L558.57,165.89 L559.17,166.21 L559.77,166.44 L560.37,166.54 L560.98,166.52 L561.58,166.38 L562.18,166.13 L562.78,165.78 L563.38,165.36 L563.98,164.9 L564.58,164.45 L565.18,164.02 L565.79,163.65 L566.39,163.37 L566.99,163.2 L567.59,163.15 L568.19,163.23 L568.79,163.42 L569.39,163.73 L569.99,164.11 L570.6,164.55 L571.2,165.01 L571.8,165.46 L572.4,165.86 L573,166.19 L573,185.84 L572.4,185.51 L571.8,185.11 L571.2,184.66 L570.6,184.2 L569.99,183.76 L569.39,183.38 L568.79,183.07 L568.19,182.88 L567.59,182.8 L566.99,182.85 L566.39,183.02 L565.79,183.3 L565.18,183.67 L564.58,184.1 L563.98,184.55 L563.38,185.01 L562.78,185.43 L562.18,185.78 L561.58,186.03 L560.98,186.17 L560.37,186.19 L559.77,186.09 L559.17,185.86 L558.57,185.54 L557.97,185.14 L557.37,184.69 L556.77,184.23 L556.17,183.79 L555.56,183.4 L554.96,183.09 L554.36,182.89 L553.76,182.8 L553.16,182.84 L552.56,183 L551.96,183.28 L551.36,183.64 L550.75,184.06 L550.15,184.52 L549.55,184.98 L548.95,185.4 L548.35,185.75 L547.75,186.02 L547.15,186.17 L546.55,186.2 L545.94,186.1 L545.34,185.88 L544.74,185.56 L544.14,185.17 L543.54,184.72 L542.94,184.26 L542.34,183.82 L541.74,183.42 L541.13,183.11 L540.53,182.9 L539.93,182.8 L539.33,182.84 L538.73,182.99 L538.13,183.25 L537.53,183.61 L536.93,184.03 L536.32,184.49 L535.72,184.95 L535.12,185.37 L534.52,185.73 L533.92,186 L533.32,186.16 L532.72,186.2 L532.12,186.11 L531.51,185.9 L530.91,185.59 L530.31,185.2 L529.71,184.76 L529.11,184.29 L528.51,183.85 L527.91,183.45 L527.31,183.13 L526.7,182.91 L526.1,182.81 L525.5,182.83 L524.9,182.97 L524.3,183.23 L523.7,183.58 L523.1,184 L522.5,184.46 L521.9,184.92 L521.29,185.35 L520.69,185.71 L520.09,185.99 L519.49,186.15 L518.89,186.2 L518.29,186.12 L517.69,185.92 L517.09,185.61 L516.48,185.23 L515.88,184.79 L515.28,184.33 L514.68,183.88 L514.08,183.48 L513.48,183.15 L512.88,182.92 L512.28,182.81 L511.67,182.82 L511.07,182.96 L510.47,183.21 L509.87,183.56 L509.27,183.97 L508.67,184.43 L508.07,184.89 L507.47,185.32 L506.86,185.69 L506.26,185.97 L505.66,186.15 L505.06,186.2 L504.46,186.13 L503.86,185.94 L503.26,185.64 L502.66,185.26 L502.05,184.82 L501.45,184.36 L500.85,183.91 L500.25,183.5 L499.65,183.17 L499.05,182.93 L498.45,182.81 L497.85,182.82 L497.24,182.95 L496.64,183.19 L496.04,183.53 L495.44,183.94 L494.84,184.39 L494.24,184.85 L493.64,185.29 L493.04,185.67 L492.43,185.96 L491.83,186.14 L491.23,186.2 L490.63,186.14 L490.03,185.95 L489.43,185.66 L488.83,185.29 L488.23,184.85 L487.62,184.39 L487.02,183.94 L486.42,183.53 L485.82,183.19 L485.22,182.95 L484.62,182.82 L484.02,182.81 L483.42,182.93 L482.81,183.17 L482.21,183.5 L481.61,183.91 L481.01,184.36 L480.41,184.82 L479.81,185.26 L479.21,185.64 L478.61,185.94 L478,186.13 L477.4,186.2 L476.8,186.15 L476.2,185.97 L475.6,185.68Z"/></clipPath>
<g clip-path="url(#k2)">
<path d="M479.5,160.85V188.5M487.5,160.85V188.5M496.5,160.85V188.5M504.5,160.85V188.5M513.5,160.85V188.5M522.5,160.85V188.5M530.5,160.85V188.5M539.5,160.85V188.5M548.5,160.85V188.5M556.5,160.85V188.5M565.5,160.85V188.5" stroke="#000" stroke-width="1.3" fill="none"/>
</g>
<path d="M475.6,166.03 L476.2,166.32 L476.8,166.5 L477.4,166.55 L478,166.48 L478.61,166.29 L479.21,165.99 L479.81,165.61 L480.41,165.17 L481.01,164.71 L481.61,164.26 L482.21,163.85 L482.81,163.52 L483.42,163.28 L484.02,163.16 L484.62,163.17 L485.22,163.3 L485.82,163.54 L486.42,163.88 L487.02,164.29 L487.62,164.74 L488.23,165.2 L488.83,165.64 L489.43,166.01 L490.03,166.3 L490.63,166.49 L491.23,166.55 L491.83,166.49 L492.43,166.31 L493.04,166.02 L493.64,165.64 L494.24,165.2 L494.84,164.74 L495.44,164.29 L496.04,163.88 L496.64,163.54 L497.24,163.3 L497.85,163.17 L498.45,163.16 L499.05,163.28 L499.65,163.52 L500.25,163.85 L500.85,164.26 L501.45,164.71 L502.05,165.17 L502.66,165.61 L503.26,165.99 L503.86,166.29 L504.46,166.48 L505.06,166.55 L505.66,166.5 L506.26,166.32 L506.86,166.04 L507.47,165.67 L508.07,165.24 L508.67,164.78 L509.27,164.32 L509.87,163.91 L510.47,163.56 L511.07,163.31 L511.67,163.17 L512.28,163.16 L512.88,163.27 L513.48,163.5 L514.08,163.83 L514.68,164.23 L515.28,164.68 L515.88,165.14 L516.48,165.58 L517.09,165.96 L517.69,166.27 L518.29,166.47 L518.89,166.55 L519.49,166.5 L520.09,166.34 L520.69,166.06 L521.29,165.7 L521.9,165.27 L522.5,164.81 L523.1,164.35 L523.7,163.93 L524.3,163.58 L524.9,163.32 L525.5,163.18 L526.1,163.16 L526.7,163.26 L527.31,163.48 L527.91,163.8 L528.51,164.2 L529.11,164.64 L529.71,165.11 L530.31,165.55 L530.91,165.94 L531.51,166.25 L532.12,166.46 L532.72,166.55 L533.32,166.51 L533.92,166.35 L534.52,166.08 L535.12,165.72 L535.72,165.3 L536.32,164.84 L536.93,164.38 L537.53,163.96 L538.13,163.6 L538.73,163.34 L539.33,163.19 L539.93,163.15 L540.53,163.25 L541.13,163.46 L541.74,163.77 L542.34,164.17 L542.94,164.61 L543.54,165.07 L544.14,165.52 L544.74,165.91 L545.34,166.23 L545.94,166.45 L546.55,166.55 L547.15,166.52 L547.75,166.37 L548.35,166.1 L548.95,165.75 L549.55,165.33 L550.15,164.87 L550.75,164.41 L551.36,163.99 L551.96,163.63 L552.56,163.35 L553.16,163.19 L553.76,163.15 L554.36,163.24 L554.96,163.44 L555.56,163.75 L556.17,164.14 L556.77,164.58 L557.37,165.04 L557.97,165.49 L558.57,165.89 L559.17,166.21 L559.77,166.44 L560.37,166.54 L560.98,166.52 L561.58,166.38 L562.18,166.13 L562.78,165.78 L563.38,165.36 L563.98,164.9 L564.58,164.45 L565.18,164.02 L565.79,163.65 L566.39,163.37 L566.99,163.2 L567.59,163.15 L568.19,163.23 L568.79,163.42 L569.39,163.73 L569.99,164.11 L570.6,164.55 L571.2,165.01 L571.8,165.46 L572.4,165.86 L573,166.19" fill="none" stroke="#111" stroke-width="1"/>
<path d="M573,185.84 L572.4,185.51 L571.8,185.11 L571.2,184.66 L570.6,184.2 L569.99,183.76 L569.39,183.38 L568.79,183.07 L568.19,182.88 L567.59,182.8 L566.99,182.85 L566.39,183.02 L565.79,183.3 L565.18,183.67 L564.58,184.1 L563.98,184.55 L563.38,185.01 L562.78,185.43 L562.18,185.78 L561.58,186.03 L560.98,186.17 L560.37,186.19 L559.77,186.09 L559.17,185.86 L558.57,185.54 L557.97,185.14 L557.37,184.69 L556.77,184.23 L556.17,183.79 L555.56,183.4 L554.96,183.09 L554.36,182.89 L553.76,182.8 L553.16,182.84 L552.56,183 L551.96,183.28 L551.36,183.64 L550.75,184.06 L550.15,184.52 L549.55,184.98 L548.95,185.4 L548.35,185.75 L547.75,186.02 L547.15,186.17 L546.55,186.2 L545.94,186.1 L545.34,185.88 L544.74,185.56 L544.14,185.17 L543.54,184.72 L542.94,184.26 L542.34,183.82 L541.74,183.42 L541.13,183.11 L540.53,182.9 L539.93,182.8 L539.33,182.84 L538.73,182.99 L538.13,183.25 L537.53,183.61 L536.93,184.03 L536.32,184.49 L535.72,184.95 L535.12,185.37 L534.52,185.73 L533.92,186 L533.32,186.16 L532.72,186.2 L532.12,186.11 L531.51,185.9 L530.91,185.59 L530.31,185.2 L529.71,184.76 L529.11,184.29 L528.51,183.85 L527.91,183.45 L527.31,183.13 L526.7,182.91 L526.1,182.81 L525.5,182.83 L524.9,182.97 L524.3,183.23 L523.7,183.58 L523.1,184 L522.5,184.46 L521.9,184.92 L521.29,185.35 L520.69,185.71 L520.09,185.99 L519.49,186.15 L518.89,186.2 L518.29,186.12 L517.69,185.92 L517.09,185.61 L516.48,185.23 L515.88,184.79 L515.28,184.33 L514.68,183.88 L514.08,183.48 L513.48,183.15 L512.88,182.92 L512.28,182.81 L511.67,182.82 L511.07,182.96 L510.47,183.21 L509.87,183.56 L509.27,183.97 L508.67,184.43 L508.07,184.89 L507.47,185.32 L506.86,185.69 L506.26,185.97 L505.66,186.15 L505.06,186.2 L504.46,186.13 L503.86,185.94 L503.26,185.64 L502.66,185.26 L502.05,184.82 L501.45,184.36 L500.85,183.91 L500.25,183.5 L499.65,183.17 L499.05,182.93 L498.45,182.81 L497.85,182.82 L497.24,182.95 L496.64,183.19 L496.04,183.53 L495.44,183.94 L494.84,184.39 L494.24,184.85 L493.64,185.29 L493.04,185.67 L492.43,185.96 L491.83,186.14 L491.23,186.2 L490.63,186.14 L490.03,185.95 L489.43,185.66 L488.83,185.29 L488.23,184.85 L487.62,184.39 L487.02,183.94 L486.42,183.53 L485.82,183.19 L485.22,182.95 L484.62,182.82 L484.02,182.81 L483.42,182.93 L482.81,183.17 L482.21,183.5 L481.61,183.91 L481.01,184.36 L480.41,184.82 L479.81,185.26 L479.21,185.64 L478.61,185.94 L478,186.13 L477.4,186.2 L476.8,186.15 L476.2,185.97 L475.6,185.68" fill="none" stroke="#111" stroke-width="1"/>
<text transform="translate(470.1,167.7) scale(1,1.06)" font-size="12.3" text-anchor="middle">?</text>
<text transform="translate(470.1,188) scale(1,1.06)" font-size="12.3" text-anchor="middle">?</text>
<line x1="470.4" y1="171.2" x2="470.4" y2="177.6" stroke="#111" stroke-width="1"/>
<text transform="translate(470,251.8) scale(1,1.06)" font-size="12.25" text-anchor="middle">Sierra Martínez Group</text>
<text transform="translate(469.7,267.6) scale(1,1.06)" font-size="12.25" text-anchor="middle">(undivided limestone) &gt;2000</text>
<clipPath id="c2"><path d="M372,345.48 L372.6,345.09 L373.2,344.69 L373.8,344.29 L374.4,343.93 L375,343.63 L375.6,343.42 L376.2,343.31 L376.8,343.31 L377.4,343.42 L378,343.63 L378.6,343.93 L379.2,344.29 L379.8,344.69 L380.4,345.09 L381,345.48 L381.6,345.81 L382.2,346.07 L382.8,346.24 L383.4,346.3 L384,346.25 L384.6,346.1 L385.2,345.85 L385.8,345.52 L386.4,345.14 L387,344.73 L387.6,344.33 L388.2,343.97 L388.8,343.66 L389.4,343.44 L390,343.32 L390.6,343.31 L391.2,343.4 L391.8,343.6 L392.4,343.89 L393,344.24 L393.6,344.64 L394.2,345.05 L394.8,345.43 L395.4,345.78 L396,346.05 L396.6,346.22 L397.2,346.3 L397.8,346.26 L398.4,346.12 L399,345.88 L399.6,345.56 L400.2,345.18 L400.8,344.78 L401.4,344.38 L402,344.01 L402.6,343.7 L403.2,343.46 L403.8,343.33 L404.4,343.3 L405,343.39 L405.6,343.58 L406.2,343.85 L406.8,344.2 L407.4,344.59 L408,345 L408.6,345.39 L409.2,345.74 L409.8,346.02 L410.4,346.21 L411,346.3 L411.6,346.27 L412.2,346.14 L412.8,345.91 L413.4,345.6 L414,345.23 L414.6,344.83 L415.2,344.43 L415.8,344.05 L416.4,343.73 L417,343.49 L417.6,343.34 L418.2,343.3 L418.8,343.37 L419.4,343.55 L420,343.82 L420.6,344.16 L421.2,344.54 L421.8,344.95 L422.4,345.35 L423,345.7 L423.6,345.99 L424.2,346.19 L424.8,346.29 L425.4,346.28 L426,346.16 L426.6,345.94 L427.2,345.64 L427.8,345.28 L428.4,344.88 L429,344.47 L429.6,344.09 L430.2,343.76 L430.8,343.51 L431.4,343.35 L432,343.3 L432.6,343.36 L433.2,343.52 L433.8,343.78 L434.4,344.11 L435,344.5 L435.6,344.9 L436.2,345.3 L436.8,345.66 L437.4,345.96 L438,346.17 L438.6,346.28 L439.2,346.29 L439.8,346.18 L440.4,345.97 L441,345.68 L441.6,345.32 L442.2,344.92 L442.8,344.52 L443.4,344.13 L444,343.8 L444.6,343.53 L445.2,343.36 L445.8,343.3 L446.4,343.35 L447,343.5 L447.6,343.75 L448.2,344.07 L448.8,344.45 L449.4,344.86 L450,345.26 L450.6,345.62 L451.2,345.93 L451.8,346.15 L452.4,346.28 L453,346.29 L453.6,346.2 L454.2,346 L454.8,345.72 L455.4,345.36 L456,344.97 L456.6,344.56 L457.2,344.18 L457.8,343.83 L458.4,343.56 L459,343.38 L459.6,343.3 L460.2,343.34 L460.8,343.48 L461.4,343.71 L462,344.03 L462.6,344.41 L463.2,344.81 L463.8,345.21 L464.4,345.58 L465,345.9 L465.6,346.13 L466.2,346.27 L466.8,346.3 L467.4,346.22 L468,346.03 L468.6,345.75 L469.2,345.41 L469.8,345.02 L470.4,344.61 L471,344.22 L471.6,343.87 L472.2,343.59 L472.8,343.4 L473.4,343.31 L474,343.33 L474.6,343.45 L475.2,343.68 L475.8,343.99 L476.4,344.36 L477,344.76 L477.6,345.16 L478.2,345.54 L478.8,345.86 L479.4,346.11 L480,346.26 L480.6,346.3 L481.2,346.23 L481.8,346.06 L482.4,345.79 L483,345.45 L483.6,345.07 L484.2,344.66 L484.8,344.26 L485.4,343.91 L486,343.62 L486.6,343.41 L487.2,343.31 L487.8,343.32 L488.4,343.43 L489,343.65 L489.6,343.95 L490.2,344.31 L490.8,344.71 L491.4,345.12 L492,345.5 L492.6,345.83 L493.2,346.09 L493.8,346.25 L494.4,346.3 L495,346.24 L495.6,346.08 L496.2,345.83 L496.8,345.49 L497.4,345.11 L498,344.71 L498.6,344.31 L499.2,343.95 L499.8,343.65 L500.4,343.43 L501,343.32 L501.6,343.31 L502.2,343.41 L502.8,343.62 L503.4,343.91 L504,344.27 L504.6,344.67 L505.2,345.07 L505.8,345.46 L506.4,345.8 L507,346.06 L507.6,346.23 L508.2,346.3 L508.8,346.26 L509.4,346.11 L510,345.86 L510.6,345.54 L511.2,345.16 L511.8,344.75 L512.4,344.35 L513,343.99 L513.6,343.68 L514.2,343.45 L514.8,343.32 L515.4,343.31 L516,343.4 L516.6,343.59 L517.2,343.87 L517.8,344.23 L518.4,344.62 L519,345.03 L519.6,345.41 L520.2,345.76 L520.8,346.03 L521.4,346.22 L522,346.3 L522.6,346.27 L523.2,346.13 L523.8,345.89 L524.4,345.58 L525,345.2 L525.6,344.8 L526.2,344.4 L526.8,344.03 L527.4,343.71 L528,343.47 L528.6,343.33 L529.2,343.3 L529.8,343.38 L530.4,343.56 L531,343.84 L531.6,344.18 L532.2,344.57 L532.8,344.98 L533.4,345.37 L534,345.72 L534.6,346.01 L535.2,346.2 L535.8,346.29 L536.4,346.28 L537,346.15 L537.6,345.93 L538.2,345.62 L538.8,345.25 L539.4,344.85 L540,344.44 L540.6,344.07 L541.2,343.74 L541.8,343.5 L542.4,343.34 L543,343.3 L543.6,343.37 L544.2,343.54 L544.8,343.8 L545.4,344.14 L546,344.52 L546.6,344.93 L547.2,345.33 L547.8,345.68 L548.4,345.98 L549,346.18 L549.6,346.29 L550.2,346.28 L550.8,346.17 L551.4,345.96 L552,345.66 L552.6,345.3 L553.2,344.9 L553.8,344.49 L554.4,344.11 L555,343.78 L555.6,343.52 L556.2,343.36 L556.8,343.3 L557.4,343.35 L558,343.51 L558.6,343.77 L559.2,344.1 L559.8,344.48 L560.4,344.88 L561,345.28 L561.6,345.65 L562.2,345.95 L562.8,346.16 L563.4,346.28 L564,346.29 L564.6,346.19 L565.2,345.99 L565.8,345.7 L566.4,345.34 L567,344.94 L567.6,344.54 L568.2,344.15 L568.8,343.81 L569.4,343.55 L570,343.37 L570.6,343.3 L571.2,343.34 L571.8,343.49 L572.4,343.73 L573,344.05 L573,487.1 L573,486.21 L572.4,485.82 L571.8,485.53 L571.2,485.35 L570.6,485.3 L570,485.38 L569.4,485.59 L568.8,485.91 L568.2,486.32 L567.6,486.79 L567,487.27 L566.4,487.75 L565.8,488.17 L565.2,488.52 L564.6,488.77 L564,488.89 L563.4,488.88 L562.8,488.74 L562.2,488.48 L561.6,488.12 L561,487.68 L560.4,487.2 L559.8,486.71 L559.2,486.26 L558.6,485.86 L558,485.56 L557.4,485.36 L556.8,485.3 L556.2,485.37 L555.6,485.56 L555,485.87 L554.4,486.27 L553.8,486.73 L553.2,487.22 L552.6,487.69 L552,488.13 L551.4,488.49 L550.8,488.74 L550.2,488.88 L549.6,488.89 L549,488.76 L548.4,488.51 L547.8,488.16 L547.2,487.73 L546.6,487.26 L546,486.77 L545.4,486.31 L544.8,485.9 L544.2,485.59 L543.6,485.38 L543,485.3 L542.4,485.35 L541.8,485.53 L541.2,485.83 L540.6,486.22 L540,486.67 L539.4,487.16 L538.8,487.64 L538.2,488.08 L537.6,488.45 L537,488.72 L536.4,488.87 L535.8,488.89 L535.2,488.78 L534.6,488.55 L534,488.21 L533.4,487.79 L532.8,487.31 L532.2,486.83 L531.6,486.36 L531,485.95 L530.4,485.62 L529.8,485.4 L529.2,485.3 L528.6,485.34 L528,485.51 L527.4,485.79 L526.8,486.17 L526.2,486.62 L525.6,487.1 L525,487.59 L524.4,488.03 L523.8,488.41 L523.2,488.69 L522.6,488.86 L522,488.9 L521.4,488.8 L520.8,488.58 L520.2,488.25 L519.6,487.84 L519,487.37 L518.4,486.88 L517.8,486.41 L517.2,485.99 L516.6,485.65 L516,485.42 L515.4,485.31 L514.8,485.33 L514.2,485.48 L513.6,485.75 L513,486.12 L512.4,486.56 L511.8,487.04 L511.2,487.53 L510.6,487.98 L510,488.37 L509.4,488.67 L508.8,488.85 L508.2,488.9 L507.6,488.82 L507,488.61 L506.4,488.29 L505.8,487.89 L505.2,487.43 L504.6,486.94 L504,486.46 L503.4,486.04 L502.8,485.68 L502.2,485.44 L501.6,485.31 L501,485.32 L500.4,485.46 L499.8,485.72 L499.2,486.07 L498.6,486.51 L498,486.99 L497.4,487.47 L496.8,487.93 L496.2,488.33 L495.6,488.64 L495,488.83 L494.4,488.9 L493.8,488.84 L493.2,488.64 L492.6,488.34 L492,487.94 L491.4,487.48 L490.8,487 L490.2,486.52 L489.6,486.08 L489,485.72 L488.4,485.46 L487.8,485.32 L487.2,485.31 L486.6,485.43 L486,485.68 L485.4,486.03 L484.8,486.46 L484.2,486.93 L483.6,487.42 L483,487.88 L482.4,488.29 L481.8,488.61 L481.2,488.82 L480.6,488.9 L480,488.85 L479.4,488.67 L478.8,488.38 L478.2,487.99 L477.6,487.54 L477,487.05 L476.4,486.57 L475.8,486.13 L475.2,485.76 L474.6,485.49 L474,485.33 L473.4,485.31 L472.8,485.41 L472.2,485.65 L471.6,485.98 L471,486.4 L470.4,486.87 L469.8,487.36 L469.2,487.83 L468.6,488.25 L468,488.58 L467.4,488.8 L466.8,488.9 L466.2,488.86 L465.6,488.7 L465,488.42 L464.4,488.04 L463.8,487.59 L463.2,487.11 L462.6,486.63 L462,486.18 L461.4,485.8 L460.8,485.51 L460.2,485.34 L459.6,485.3 L459,485.39 L458.4,485.61 L457.8,485.94 L457.2,486.35 L456.6,486.82 L456,487.31 L455.4,487.78 L454.8,488.2 L454.2,488.54 L453.6,488.78 L453,488.89 L452.4,488.87 L451.8,488.72 L451.2,488.46 L450.6,488.09 L450,487.65 L449.4,487.17 L448.8,486.68 L448.2,486.23 L447.6,485.84 L447,485.54 L446.4,485.36 L445.8,485.3 L445.2,485.38 L444.6,485.58 L444,485.9 L443.4,486.3 L442.8,486.76 L442.2,487.25 L441.6,487.72 L441,488.16 L440.4,488.51 L439.8,488.76 L439.2,488.89 L438.6,488.88 L438,488.75 L437.4,488.49 L436.8,488.14 L436.2,487.7 L435.6,487.22 L435,486.74 L434.4,486.28 L433.8,485.88 L433.2,485.57 L432.6,485.37 L432,485.3 L431.4,485.36 L430.8,485.55 L430.2,485.85 L429.6,486.25 L429,486.71 L428.4,487.19 L427.8,487.67 L427.2,488.11 L426.6,488.47 L426,488.73 L425.4,488.88 L424.8,488.89 L424.2,488.77 L423.6,488.53 L423,488.18 L422.4,487.76 L421.8,487.28 L421.2,486.79 L420.6,486.33 L420,485.92 L419.4,485.6 L418.8,485.39 L418.2,485.3 L417.6,485.35 L417,485.52 L416.4,485.81 L415.8,486.2 L415.2,486.65 L414.6,487.13 L414,487.62 L413.4,488.06 L412.8,488.43 L412.2,488.71 L411.6,488.87 L411,488.89 L410.4,488.79 L409.8,488.56 L409.2,488.23 L408.6,487.81 L408,487.34 L407.4,486.85 L406.8,486.38 L406.2,485.96 L405.6,485.63 L405,485.41 L404.4,485.3 L403.8,485.34 L403.2,485.5 L402.6,485.77 L402,486.15 L401.4,486.6 L400.8,487.08 L400.2,487.56 L399.6,488.01 L399,488.39 L398.4,488.68 L397.8,488.85 L397.2,488.9 L396.6,488.81 L396,488.59 L395.4,488.27 L394.8,487.86 L394.2,487.39 L393.6,486.91 L393,486.43 L392.4,486.01 L391.8,485.66 L391.2,485.43 L390.6,485.31 L390,485.33 L389.4,485.47 L388.8,485.74 L388.2,486.1 L387.6,486.54 L387,487.02 L386.4,487.51 L385.8,487.96 L385.2,488.35 L384.6,488.66 L384,488.84 L383.4,488.9 L382.8,488.83 L382.2,488.63 L381.6,488.31 L381,487.91 L380.4,487.45 L379.8,486.96 L379.2,486.49 L378.6,486.05 L378,485.7 L377.4,485.45 L376.8,485.32 L376.2,485.32 L375.6,485.45 L375,485.7 L374.4,486.05 L373.8,486.49 L373.2,486.96 L372.6,487.45 L372,487.91Z"/></clipPath>
<g clip-path="url(#c2)">
<path d="M376.5,338V492M384.5,338V492M393.5,338V492M402.5,338V492M410.5,338V492M419.5,338V492M428.5,338V492M436.5,338V492M445.5,338V492M453.5,338V492M462.5,338V492M471.5,338V492M479.5,338V492M488.5,338V492M497.5,338V492M505.5,338V492M514.5,338V492M523.5,338V492M531.5,338V492M540.5,338V492M548.5,338V492M557.5,338V492M566.5,338V492" stroke="#000" stroke-width="1.2" fill="none"/>
</g>
<path d="M372,345.48 L372.6,345.09 L373.2,344.69 L373.8,344.29 L374.4,343.93 L375,343.63 L375.6,343.42 L376.2,343.31 L376.8,343.31 L377.4,343.42 L378,343.63 L378.6,343.93 L379.2,344.29 L379.8,344.69 L380.4,345.09 L381,345.48 L381.6,345.81 L382.2,346.07 L382.8,346.24 L383.4,346.3 L384,346.25 L384.6,346.1 L385.2,345.85 L385.8,345.52 L386.4,345.14 L387,344.73 L387.6,344.33 L388.2,343.97 L388.8,343.66 L389.4,343.44 L390,343.32 L390.6,343.31 L391.2,343.4 L391.8,343.6 L392.4,343.89 L393,344.24 L393.6,344.64 L394.2,345.05 L394.8,345.43 L395.4,345.78 L396,346.05 L396.6,346.22 L397.2,346.3 L397.8,346.26 L398.4,346.12 L399,345.88 L399.6,345.56 L400.2,345.18 L400.8,344.78 L401.4,344.38 L402,344.01 L402.6,343.7 L403.2,343.46 L403.8,343.33 L404.4,343.3 L405,343.39 L405.6,343.58 L406.2,343.85 L406.8,344.2 L407.4,344.59 L408,345 L408.6,345.39 L409.2,345.74 L409.8,346.02 L410.4,346.21 L411,346.3 L411.6,346.27 L412.2,346.14 L412.8,345.91 L413.4,345.6 L414,345.23 L414.6,344.83 L415.2,344.43 L415.8,344.05 L416.4,343.73 L417,343.49 L417.6,343.34 L418.2,343.3 L418.8,343.37 L419.4,343.55 L420,343.82 L420.6,344.16 L421.2,344.54 L421.8,344.95 L422.4,345.35 L423,345.7 L423.6,345.99 L424.2,346.19 L424.8,346.29 L425.4,346.28 L426,346.16 L426.6,345.94 L427.2,345.64 L427.8,345.28 L428.4,344.88 L429,344.47 L429.6,344.09 L430.2,343.76 L430.8,343.51 L431.4,343.35 L432,343.3 L432.6,343.36 L433.2,343.52 L433.8,343.78 L434.4,344.11 L435,344.5 L435.6,344.9 L436.2,345.3 L436.8,345.66 L437.4,345.96 L438,346.17 L438.6,346.28 L439.2,346.29 L439.8,346.18 L440.4,345.97 L441,345.68 L441.6,345.32 L442.2,344.92 L442.8,344.52 L443.4,344.13 L444,343.8 L444.6,343.53 L445.2,343.36 L445.8,343.3 L446.4,343.35 L447,343.5 L447.6,343.75 L448.2,344.07 L448.8,344.45 L449.4,344.86 L450,345.26 L450.6,345.62 L451.2,345.93 L451.8,346.15 L452.4,346.28 L453,346.29 L453.6,346.2 L454.2,346 L454.8,345.72 L455.4,345.36 L456,344.97 L456.6,344.56 L457.2,344.18 L457.8,343.83 L458.4,343.56 L459,343.38 L459.6,343.3 L460.2,343.34 L460.8,343.48 L461.4,343.71 L462,344.03 L462.6,344.41 L463.2,344.81 L463.8,345.21 L464.4,345.58 L465,345.9 L465.6,346.13 L466.2,346.27 L466.8,346.3 L467.4,346.22 L468,346.03 L468.6,345.75 L469.2,345.41 L469.8,345.02 L470.4,344.61 L471,344.22 L471.6,343.87 L472.2,343.59 L472.8,343.4 L473.4,343.31 L474,343.33 L474.6,343.45 L475.2,343.68 L475.8,343.99 L476.4,344.36 L477,344.76 L477.6,345.16 L478.2,345.54 L478.8,345.86 L479.4,346.11 L480,346.26 L480.6,346.3 L481.2,346.23 L481.8,346.06 L482.4,345.79 L483,345.45 L483.6,345.07 L484.2,344.66 L484.8,344.26 L485.4,343.91 L486,343.62 L486.6,343.41 L487.2,343.31 L487.8,343.32 L488.4,343.43 L489,343.65 L489.6,343.95 L490.2,344.31 L490.8,344.71 L491.4,345.12 L492,345.5 L492.6,345.83 L493.2,346.09 L493.8,346.25 L494.4,346.3 L495,346.24 L495.6,346.08 L496.2,345.83 L496.8,345.49 L497.4,345.11 L498,344.71 L498.6,344.31 L499.2,343.95 L499.8,343.65 L500.4,343.43 L501,343.32 L501.6,343.31 L502.2,343.41 L502.8,343.62 L503.4,343.91 L504,344.27 L504.6,344.67 L505.2,345.07 L505.8,345.46 L506.4,345.8 L507,346.06 L507.6,346.23 L508.2,346.3 L508.8,346.26 L509.4,346.11 L510,345.86 L510.6,345.54 L511.2,345.16 L511.8,344.75 L512.4,344.35 L513,343.99 L513.6,343.68 L514.2,343.45 L514.8,343.32 L515.4,343.31 L516,343.4 L516.6,343.59 L517.2,343.87 L517.8,344.23 L518.4,344.62 L519,345.03 L519.6,345.41 L520.2,345.76 L520.8,346.03 L521.4,346.22 L522,346.3 L522.6,346.27 L523.2,346.13 L523.8,345.89 L524.4,345.58 L525,345.2 L525.6,344.8 L526.2,344.4 L526.8,344.03 L527.4,343.71 L528,343.47 L528.6,343.33 L529.2,343.3 L529.8,343.38 L530.4,343.56 L531,343.84 L531.6,344.18 L532.2,344.57 L532.8,344.98 L533.4,345.37 L534,345.72 L534.6,346.01 L535.2,346.2 L535.8,346.29 L536.4,346.28 L537,346.15 L537.6,345.93 L538.2,345.62 L538.8,345.25 L539.4,344.85 L540,344.44 L540.6,344.07 L541.2,343.74 L541.8,343.5 L542.4,343.34 L543,343.3 L543.6,343.37 L544.2,343.54 L544.8,343.8 L545.4,344.14 L546,344.52 L546.6,344.93 L547.2,345.33 L547.8,345.68 L548.4,345.98 L549,346.18 L549.6,346.29 L550.2,346.28 L550.8,346.17 L551.4,345.96 L552,345.66 L552.6,345.3 L553.2,344.9 L553.8,344.49 L554.4,344.11 L555,343.78 L555.6,343.52 L556.2,343.36 L556.8,343.3 L557.4,343.35 L558,343.51 L558.6,343.77 L559.2,344.1 L559.8,344.48 L560.4,344.88 L561,345.28 L561.6,345.65 L562.2,345.95 L562.8,346.16 L563.4,346.28 L564,346.29 L564.6,346.19 L565.2,345.99 L565.8,345.7 L566.4,345.34 L567,344.94 L567.6,344.54 L568.2,344.15 L568.8,343.81 L569.4,343.55 L570,343.37 L570.6,343.3 L571.2,343.34 L571.8,343.49 L572.4,343.73 L573,344.05" fill="none" stroke="#111" stroke-width="1"/>
<path d="M372,487.91 L372.6,487.45 L373.2,486.96 L373.8,486.49 L374.4,486.05 L375,485.7 L375.6,485.45 L376.2,485.32 L376.8,485.32 L377.4,485.45 L378,485.7 L378.6,486.05 L379.2,486.49 L379.8,486.96 L380.4,487.45 L381,487.91 L381.6,488.31 L382.2,488.63 L382.8,488.83 L383.4,488.9 L384,488.84 L384.6,488.66 L385.2,488.35 L385.8,487.96 L386.4,487.51 L387,487.02 L387.6,486.54 L388.2,486.1 L388.8,485.74 L389.4,485.47 L390,485.33 L390.6,485.31 L391.2,485.43 L391.8,485.66 L392.4,486.01 L393,486.43 L393.6,486.91 L394.2,487.39 L394.8,487.86 L395.4,488.27 L396,488.59 L396.6,488.81 L397.2,488.9 L397.8,488.85 L398.4,488.68 L399,488.39 L399.6,488.01 L400.2,487.56 L400.8,487.08 L401.4,486.6 L402,486.15 L402.6,485.77 L403.2,485.5 L403.8,485.34 L404.4,485.3 L405,485.41 L405.6,485.63 L406.2,485.96 L406.8,486.38 L407.4,486.85 L408,487.34 L408.6,487.81 L409.2,488.23 L409.8,488.56 L410.4,488.79 L411,488.89 L411.6,488.87 L412.2,488.71 L412.8,488.43 L413.4,488.06 L414,487.62 L414.6,487.13 L415.2,486.65 L415.8,486.2 L416.4,485.81 L417,485.52 L417.6,485.35 L418.2,485.3 L418.8,485.39 L419.4,485.6 L420,485.92 L420.6,486.33 L421.2,486.79 L421.8,487.28 L422.4,487.76 L423,488.18 L423.6,488.53 L424.2,488.77 L424.8,488.89 L425.4,488.88 L426,488.73 L426.6,488.47 L427.2,488.11 L427.8,487.67 L428.4,487.19 L429,486.71 L429.6,486.25 L430.2,485.85 L430.8,485.55 L431.4,485.36 L432,485.3 L432.6,485.37 L433.2,485.57 L433.8,485.88 L434.4,486.28 L435,486.74 L435.6,487.22 L436.2,487.7 L436.8,488.14 L437.4,488.49 L438,488.75 L438.6,488.88 L439.2,488.89 L439.8,488.76 L440.4,488.51 L441,488.16 L441.6,487.72 L442.2,487.25 L442.8,486.76 L443.4,486.3 L444,485.9 L444.6,485.58 L445.2,485.38 L445.8,485.3 L446.4,485.36 L447,485.54 L447.6,485.84 L448.2,486.23 L448.8,486.68 L449.4,487.17 L450,487.65 L450.6,488.09 L451.2,488.46 L451.8,488.72 L452.4,488.87 L453,488.89 L453.6,488.78 L454.2,488.54 L454.8,488.2 L455.4,487.78 L456,487.31 L456.6,486.82 L457.2,486.35 L457.8,485.94 L458.4,485.61 L459,485.39 L459.6,485.3 L460.2,485.34 L460.8,485.51 L461.4,485.8 L462,486.18 L462.6,486.63 L463.2,487.11 L463.8,487.59 L464.4,488.04 L465,488.42 L465.6,488.7 L466.2,488.86 L466.8,488.9 L467.4,488.8 L468,488.58 L468.6,488.25 L469.2,487.83 L469.8,487.36 L470.4,486.87 L471,486.4 L471.6,485.98 L472.2,485.65 L472.8,485.41 L473.4,485.31 L474,485.33 L474.6,485.49 L475.2,485.76 L475.8,486.13 L476.4,486.57 L477,487.05 L477.6,487.54 L478.2,487.99 L478.8,488.38 L479.4,488.67 L480,488.85 L480.6,488.9 L481.2,488.82 L481.8,488.61 L482.4,488.29 L483,487.88 L483.6,487.42 L484.2,486.93 L484.8,486.46 L485.4,486.03 L486,485.68 L486.6,485.43 L487.2,485.31 L487.8,485.32 L488.4,485.46 L489,485.72 L489.6,486.08 L490.2,486.52 L490.8,487 L491.4,487.48 L492,487.94 L492.6,488.34 L493.2,488.64 L493.8,488.84 L494.4,488.9 L495,488.83 L495.6,488.64 L496.2,488.33 L496.8,487.93 L497.4,487.47 L498,486.99 L498.6,486.51 L499.2,486.07 L499.8,485.72 L500.4,485.46 L501,485.32 L501.6,485.31 L502.2,485.44 L502.8,485.68 L503.4,486.04 L504,486.46 L504.6,486.94 L505.2,487.43 L505.8,487.89 L506.4,488.29 L507,488.61 L507.6,488.82 L508.2,488.9 L508.8,488.85 L509.4,488.67 L510,488.37 L510.6,487.98 L511.2,487.53 L511.8,487.04 L512.4,486.56 L513,486.12 L513.6,485.75 L514.2,485.48 L514.8,485.33 L515.4,485.31 L516,485.42 L516.6,485.65 L517.2,485.99 L517.8,486.41 L518.4,486.88 L519,487.37 L519.6,487.84 L520.2,488.25 L520.8,488.58 L521.4,488.8 L522,488.9 L522.6,488.86 L523.2,488.69 L523.8,488.41 L524.4,488.03 L525,487.59 L525.6,487.1 L526.2,486.62 L526.8,486.17 L527.4,485.79 L528,485.51 L528.6,485.34 L529.2,485.3 L529.8,485.4 L530.4,485.62 L531,485.95 L531.6,486.36 L532.2,486.83 L532.8,487.31 L533.4,487.79 L534,488.21 L534.6,488.55 L535.2,488.78 L535.8,488.89 L536.4,488.87 L537,488.72 L537.6,488.45 L538.2,488.08 L538.8,487.64 L539.4,487.16 L540,486.67 L540.6,486.22 L541.2,485.83 L541.8,485.53 L542.4,485.35 L543,485.3 L543.6,485.38 L544.2,485.59 L544.8,485.9 L545.4,486.31 L546,486.77 L546.6,487.26 L547.2,487.73 L547.8,488.16 L548.4,488.51 L549,488.76 L549.6,488.89 L550.2,488.88 L550.8,488.74 L551.4,488.49 L552,488.13 L552.6,487.69 L553.2,487.22 L553.8,486.73 L554.4,486.27 L555,485.87 L555.6,485.56 L556.2,485.37 L556.8,485.3 L557.4,485.36 L558,485.56 L558.6,485.86 L559.2,486.26 L559.8,486.71 L560.4,487.2 L561,487.68 L561.6,488.12 L562.2,488.48 L562.8,488.74 L563.4,488.88 L564,488.89 L564.6,488.77 L565.2,488.52 L565.8,488.17 L566.4,487.75 L567,487.27 L567.6,486.79 L568.2,486.32 L568.8,485.91 L569.4,485.59 L570,485.38 L570.6,485.3 L571.2,485.35 L571.8,485.53 L572.4,485.82 L573,486.21" fill="none" stroke="#111" stroke-width="1"/>
<text transform="translate(415.4,499.6) scale(1,0.94)" font-size="10.8" textLength="109.8" lengthAdjust="spacingAndGlyphs">Peña Blanca Quartzite 30</text>
<line x1="372" y1="503.2" x2="573" y2="503.2" stroke="#444" stroke-width="1.1"/>
<text transform="translate(393.6,530.1) scale(1,1.06)" font-size="12.25" textLength="152.8" lengthAdjust="spacingAndGlyphs">Pozo Nuevo Limestone &gt; 1200</text>
<line x1="372" y1="546.3" x2="465.1" y2="546.3" stroke="#777" stroke-width="1.2"/>
<line x1="474.9" y1="546.3" x2="573" y2="546.3" stroke="#777" stroke-width="1.2"/>
<text transform="translate(470,550.9) scale(1,1.06)" font-size="12.3" text-anchor="middle">?</text>
<text transform="translate(382.7,577.4) scale(1,1.06)" font-size="12.25" textLength="174.3" lengthAdjust="spacingAndGlyphs">Undivided limestone and dolostone</text>
<line x1="372" y1="595.6" x2="465.1" y2="595.6" stroke="#000" stroke-width="1"/>
<line x1="474.9" y1="595.6" x2="573" y2="595.6" stroke="#000" stroke-width="1"/>
<text transform="translate(470,597.3) scale(1,1.06)" font-size="12.3" text-anchor="middle">?</text>
<text transform="translate(470,606.9) scale(1,1.06)" font-size="12.25" text-anchor="middle">No data</text>
<line x1="372" y1="610.2" x2="573" y2="610.2" stroke="#111" stroke-width="1.2"/>
<text transform="translate(420.3,622.1) scale(1,0.94)" font-size="10.8" textLength="91.7" lengthAdjust="spacingAndGlyphs">Proveedora Quartzite</text>
<line x1="372" y1="627.5" x2="573" y2="627.5" stroke="#111" stroke-width="1.2"/>
<text transform="translate(470,643.3) scale(1,1.06)" font-size="12.25" text-anchor="middle">No data</text>
<text transform="translate(671.7,125.3) scale(1,1.06)" font-size="12.25" text-anchor="middle">No data</text>
<line x1="573" y1="172.5" x2="666.6" y2="172.5" stroke="#000" stroke-width="1"/>
<line x1="676.4" y1="172.5" x2="773" y2="172.5" stroke="#000" stroke-width="1"/>
<text transform="translate(671.5,176.6) scale(1,1.06)" font-size="12.3" text-anchor="middle">?</text>
<circle cx="591.9" cy="185.5" r="6.5" fill="#f4959b"/>
<text transform="translate(607.8,202.9) scale(1,1.06)" font-size="12.25" textLength="127.9" lengthAdjust="spacingAndGlyphs">Rancho Nuevo Formation</text>
<text transform="translate(655.4,217.5) scale(1,1.06)" font-size="12.25" textLength="31.9" lengthAdjust="spacingAndGlyphs">&gt;1000</text>
<clipPath id="c3"><path d="M573,240.57 L573.6,240.16 L574.2,239.74 L574.8,239.35 L575.4,239 L576,238.73 L576.6,238.56 L577.2,238.5 L577.8,238.55 L578.41,238.71 L579.01,238.98 L579.61,239.31 L580.21,239.71 L580.81,240.13 L581.41,240.54 L582.01,240.92 L582.61,241.23 L583.21,241.46 L583.81,241.58 L584.41,241.59 L585.01,241.49 L585.61,241.28 L586.21,240.98 L586.81,240.61 L587.41,240.2 L588.02,239.78 L588.62,239.38 L589.22,239.03 L589.82,238.75 L590.42,238.57 L591.02,238.5 L591.62,238.54 L592.22,238.69 L592.82,238.95 L593.42,239.28 L594.02,239.67 L594.62,240.09 L595.22,240.5 L595.82,240.88 L596.42,241.2 L597.02,241.44 L597.62,241.57 L598.23,241.59 L598.83,241.5 L599.43,241.3 L600.03,241.01 L600.63,240.65 L601.23,240.24 L601.83,239.82 L602.43,239.42 L603.03,239.06 L603.63,238.78 L604.23,238.59 L604.83,238.5 L605.43,238.53 L606.03,238.68 L606.63,238.92 L607.23,239.25 L607.83,239.63 L608.44,240.05 L609.04,240.47 L609.64,240.85 L610.24,241.18 L610.84,241.42 L611.44,241.57 L612.04,241.6 L612.64,241.51 L613.24,241.32 L613.84,241.04 L614.44,240.68 L615.04,240.28 L615.64,239.86 L616.24,239.45 L616.84,239.09 L617.44,238.8 L618.05,238.6 L618.65,238.51 L619.25,238.53 L619.85,238.66 L620.45,238.89 L621.05,239.21 L621.65,239.59 L622.25,240.01 L622.85,240.43 L623.45,240.82 L624.05,241.15 L624.65,241.4 L625.25,241.56 L625.85,241.6 L626.45,241.53 L627.05,241.35 L627.65,241.07 L628.26,240.72 L628.86,240.32 L629.46,239.9 L630.06,239.49 L630.66,239.12 L631.26,238.82 L631.86,238.61 L632.46,238.51 L633.06,238.52 L633.66,238.64 L634.26,238.87 L634.86,239.18 L635.46,239.56 L636.06,239.97 L636.66,240.39 L637.26,240.78 L637.86,241.12 L638.47,241.38 L639.07,241.55 L639.67,241.6 L640.27,241.54 L640.87,241.37 L641.47,241.1 L642.07,240.76 L642.67,240.36 L643.27,239.94 L643.87,239.53 L644.47,239.15 L645.07,238.85 L645.67,238.63 L646.27,238.51 L646.87,238.51 L647.47,238.63 L648.08,238.84 L648.68,239.15 L649.28,239.52 L649.88,239.93 L650.48,240.35 L651.08,240.75 L651.68,241.09 L652.28,241.36 L652.88,241.54 L653.48,241.6 L654.08,241.55 L654.68,241.39 L655.28,241.13 L655.88,240.79 L656.48,240.4 L657.08,239.98 L657.68,239.57 L658.29,239.19 L658.89,238.87 L659.49,238.65 L660.09,238.52 L660.69,238.51 L661.29,238.61 L661.89,238.82 L662.49,239.12 L663.09,239.48 L663.69,239.89 L664.29,240.31 L664.89,240.71 L665.49,241.06 L666.09,241.34 L666.69,241.52 L667.29,241.6 L667.89,241.56 L668.5,241.41 L669.1,241.16 L669.7,240.82 L670.3,240.44 L670.9,240.02 L671.5,239.6 L672.1,239.22 L672.7,238.9 L673.3,238.66 L673.9,238.53 L674.5,238.51 L675.1,238.6 L675.7,238.79 L676.3,239.08 L676.9,239.45 L677.5,239.85 L678.11,240.27 L678.71,240.68 L679.31,241.03 L679.91,241.32 L680.51,241.51 L681.11,241.6 L681.71,241.57 L682.31,241.43 L682.91,241.18 L683.51,240.86 L684.11,240.47 L684.71,240.06 L685.31,239.64 L685.91,239.25 L686.51,238.93 L687.11,238.68 L687.71,238.54 L688.32,238.5 L688.92,238.58 L689.52,238.77 L690.12,239.05 L690.72,239.41 L691.32,239.81 L691.92,240.23 L692.52,240.64 L693.12,241 L693.72,241.3 L694.32,241.5 L694.92,241.59 L695.52,241.57 L696.12,241.44 L696.72,241.21 L697.32,240.89 L697.92,240.51 L698.53,240.1 L699.13,239.68 L699.73,239.29 L700.33,238.95 L700.93,238.7 L701.53,238.54 L702.13,238.5 L702.73,238.57 L703.33,238.75 L703.93,239.02 L704.53,239.37 L705.13,239.77 L705.73,240.19 L706.33,240.6 L706.93,240.97 L707.53,241.27 L708.14,241.48 L708.74,241.59 L709.34,241.58 L709.94,241.46 L710.54,241.24 L711.14,240.93 L711.74,240.55 L712.34,240.14 L712.94,239.72 L713.54,239.32 L714.14,238.98 L714.74,238.72 L715.34,238.55 L715.94,238.5 L716.54,238.56 L717.14,238.73 L717.74,238.99 L718.35,239.34 L718.95,239.74 L719.55,240.15 L720.15,240.57 L720.75,240.94 L721.35,241.25 L721.95,241.47 L722.55,241.58 L723.15,241.59 L723.75,241.48 L724.35,241.26 L724.95,240.96 L725.55,240.59 L726.15,240.18 L726.75,239.76 L727.35,239.36 L727.95,239.01 L728.56,238.74 L729.16,238.57 L729.76,238.5 L730.36,238.55 L730.96,238.71 L731.56,238.97 L732.16,239.3 L732.76,239.7 L733.36,240.12 L733.96,240.53 L734.56,240.91 L735.16,241.22 L735.76,241.45 L736.36,241.58 L736.96,241.59 L737.56,241.49 L738.17,241.29 L738.77,240.99 L739.37,240.62 L739.97,240.22 L740.57,239.79 L741.17,239.39 L741.77,239.04 L742.37,238.76 L742.97,238.58 L743.57,238.5 L744.17,238.54 L744.77,238.69 L745.37,238.94 L745.97,239.27 L746.57,239.66 L747.17,240.08 L747.77,240.49 L748.38,240.87 L748.98,241.2 L749.58,241.43 L750.18,241.57 L750.78,241.6 L751.38,241.51 L751.98,241.31 L752.58,241.02 L753.18,240.66 L753.78,240.25 L754.38,239.83 L754.98,239.43 L755.58,239.07 L756.18,238.78 L756.78,238.59 L757.38,238.5 L757.98,238.53 L758.59,238.67 L759.19,238.91 L759.79,239.24 L760.39,239.62 L760.99,240.04 L761.59,240.45 L762.19,240.84 L762.79,241.17 L763.39,241.42 L763.99,241.56 L764.59,241.6 L765.19,241.52 L765.79,241.33 L766.39,241.05 L766.99,240.7 L767.59,240.29 L768.2,239.87 L768.8,239.47 L769.4,239.1 L770,238.81 L770.6,238.6 L771.2,238.51 L771.8,238.52 L772.4,238.65 L773,238.88 L773,460.25 L773,460.26 L772.4,459.76 L771.8,459.3 L771.2,458.91 L770.6,458.62 L770,458.44 L769.4,458.4 L768.8,458.5 L768.2,458.72 L767.6,459.06 L767,459.48 L766.4,459.96 L765.79,460.47 L765.19,460.95 L764.59,461.39 L763.99,461.74 L763.39,461.98 L762.79,462.09 L762.19,462.07 L761.59,461.92 L760.99,461.64 L760.39,461.26 L759.79,460.81 L759.19,460.31 L758.59,459.81 L757.99,459.35 L757.39,458.95 L756.79,458.64 L756.19,458.45 L755.59,458.4 L754.99,458.48 L754.39,458.69 L753.79,459.02 L753.19,459.44 L752.59,459.91 L751.99,460.41 L751.38,460.9 L750.78,461.34 L750.18,461.71 L749.58,461.96 L748.98,462.09 L748.38,462.08 L747.78,461.94 L747.18,461.67 L746.58,461.3 L745.98,460.85 L745.38,460.36 L744.78,459.86 L744.18,459.39 L743.58,458.98 L742.98,458.67 L742.38,458.47 L741.78,458.4 L741.18,458.47 L740.58,458.67 L739.98,458.98 L739.38,459.39 L738.78,459.86 L738.18,460.36 L737.58,460.86 L736.97,461.3 L736.37,461.67 L735.77,461.94 L735.17,462.08 L734.57,462.09 L733.97,461.96 L733.37,461.7 L732.77,461.34 L732.17,460.9 L731.57,460.41 L730.97,459.91 L730.37,459.43 L729.77,459.02 L729.17,458.69 L728.57,458.48 L727.97,458.4 L727.37,458.46 L726.77,458.64 L726.17,458.95 L725.57,459.35 L724.97,459.81 L724.37,460.31 L723.77,460.81 L723.17,461.26 L722.56,461.64 L721.96,461.92 L721.36,462.07 L720.76,462.09 L720.16,461.98 L719.56,461.73 L718.96,461.38 L718.36,460.95 L717.76,460.46 L717.16,459.96 L716.56,459.48 L715.96,459.06 L715.36,458.72 L714.76,458.5 L714.16,458.4 L713.56,458.44 L712.96,458.62 L712.36,458.91 L711.76,459.3 L711.16,459.77 L710.56,460.26 L709.96,460.76 L709.36,461.22 L708.76,461.61 L708.15,461.89 L707.55,462.06 L706.95,462.1 L706.35,461.99 L705.75,461.76 L705.15,461.42 L704.55,460.99 L703.95,460.51 L703.35,460.01 L702.75,459.53 L702.15,459.1 L701.55,458.75 L700.95,458.51 L700.35,458.41 L699.75,458.43 L699.15,458.59 L698.55,458.88 L697.95,459.26 L697.35,459.72 L696.75,460.21 L696.15,460.71 L695.55,461.18 L694.95,461.57 L694.35,461.87 L693.74,462.05 L693.14,462.1 L692.54,462.01 L691.94,461.79 L691.34,461.46 L690.74,461.04 L690.14,460.56 L689.54,460.06 L688.94,459.57 L688.34,459.14 L687.74,458.78 L687.14,458.53 L686.54,458.41 L685.94,458.42 L685.34,458.57 L684.74,458.84 L684.14,459.22 L683.54,459.67 L682.94,460.16 L682.34,460.66 L681.74,461.13 L681.14,461.54 L680.54,461.85 L679.94,462.04 L679.33,462.1 L678.73,462.03 L678.13,461.82 L677.53,461.5 L676.93,461.09 L676.33,460.61 L675.73,460.11 L675.13,459.62 L674.53,459.18 L673.93,458.81 L673.33,458.55 L672.73,458.42 L672.13,458.42 L671.53,458.55 L670.93,458.81 L670.33,459.18 L669.73,459.62 L669.13,460.11 L668.53,460.61 L667.93,461.09 L667.33,461.5 L666.73,461.82 L666.13,462.03 L665.53,462.1 L664.92,462.04 L664.32,461.85 L663.72,461.54 L663.12,461.13 L662.52,460.66 L661.92,460.16 L661.32,459.67 L660.72,459.22 L660.12,458.84 L659.52,458.57 L658.92,458.42 L658.32,458.41 L657.72,458.53 L657.12,458.78 L656.52,459.14 L655.92,459.57 L655.32,460.06 L654.72,460.56 L654.12,461.04 L653.52,461.46 L652.92,461.79 L652.32,462.01 L651.72,462.1 L651.12,462.05 L650.51,461.87 L649.91,461.57 L649.31,461.18 L648.71,460.71 L648.11,460.21 L647.51,459.72 L646.91,459.26 L646.31,458.88 L645.71,458.59 L645.11,458.43 L644.51,458.41 L643.91,458.51 L643.31,458.75 L642.71,459.1 L642.11,459.53 L641.51,460.01 L640.91,460.51 L640.31,461 L639.71,461.42 L639.11,461.76 L638.51,461.99 L637.91,462.1 L637.31,462.06 L636.71,461.89 L636.1,461.61 L635.5,461.22 L634.9,460.76 L634.3,460.26 L633.7,459.77 L633.1,459.3 L632.5,458.91 L631.9,458.62 L631.3,458.44 L630.7,458.4 L630.1,458.5 L629.5,458.72 L627.7,458.66 L627.69,459.4 L627.66,460.14 L627.63,460.87 L627.59,461.59 L627.52,462.29 L627.43,462.98 L627.31,463.64 L627.16,464.28 L626.98,464.9 L626.75,465.48 L626.49,466.04 L626.19,466.56 L625.84,467.06 L625.45,467.52 L625.02,467.96 L624.55,468.36 L624.04,468.73 L623.49,469.08 L622.91,469.4 L622.3,469.69 L621.66,469.97 L621,470.23 L620.32,470.48 L619.62,470.71 L618.92,470.94 L618.45,471.34 L618.43,472.08 L618.41,472.82 L618.37,473.54 L618.32,474.26 L618.24,474.95 L618.15,475.63 L618.02,476.29 L617.85,476.92 L617.66,477.53 L617.42,478.1 L617.14,478.65 L616.83,479.17 L616.46,479.65 L616.06,480.1 L615.62,480.53 L615.13,480.92 L614.61,481.28 L614.05,481.62 L613.46,481.93 L612.84,482.22 L612.19,482.49 L611.52,482.75 L610.84,482.99 L610.14,483.22 L609.44,483.45 L609.19,484.02 L609.17,484.76 L609.15,485.49 L609.1,486.22 L609.05,486.92 L608.96,487.62 L608.86,488.29 L608.72,488.94 L608.54,489.56 L608.33,490.16 L608.08,490.72 L607.79,491.26 L607.46,491.76 L607.09,492.24 L606.67,492.68 L606.21,493.09 L605.71,493.48 L605.18,493.83 L604.61,494.16 L604.01,494.46 L603.38,494.75 L602.72,495.01 L602.05,495.26 L601.36,495.5 L600.66,495.73 L599.95,495.96 L599.94,496.7 L599.91,497.44 L599.88,498.17 L599.84,498.89 L599.77,499.59 L599.68,500.28 L599.56,500.94 L599.41,501.58 L599.23,502.2 L599,502.78 L598.74,503.34 L598.44,503.86 L598.09,504.36 L597.7,504.82 L597.27,505.26 L596.8,505.66 L596.29,506.03 L595.74,506.38 L595.16,506.7 L594.55,506.99 L593.91,507.27 L593.25,507.53 L592.57,507.78 L591.87,508.01 L591.17,508.24 L590.7,508.64 L590.68,509.38 L590.66,510.12 L590.62,510.84 L590.57,511.56 L590.49,512.25 L590.4,512.93 L590.27,513.59 L590.1,514.22 L589.91,514.83 L589.67,515.4 L589.39,515.95 L589.08,516.47 L588.71,516.95 L588.31,517.4 L587.87,517.83 L587.38,518.22 L586.86,518.58 L586.3,518.92 L585.71,519.23 L585.09,519.52 L584.44,519.79 L583.77,520.05 L583.09,520.29 L582.39,520.52 L581.69,520.75 L581.44,521.32 L581.42,522.06 L581.4,522.79 L581.35,523.52 L581.3,524.22 L581.21,524.92 L581.11,525.59 L580.97,526.24 L580.79,526.86 L580.58,527.46 L580.33,528.02 L580.04,528.56 L579.71,529.06 L579.34,529.54 L578.92,529.98 L578.46,530.39 L577.96,530.78 L577.43,531.13 L576.86,531.46 L576.26,531.76 L575.63,532.05 L574.97,532.31 L574.3,532.56 L573.61,532.8 L572.91,533.03 L572.2,533.26 L573,534.6Z"/></clipPath>
<g clip-path="url(#c3)">
<path d="M574.5,235V540M583.5,235V540M592.5,235V540M600.5,235V540M609.5,235V540M618.5,235V540M627.5,235V540M635.5,235V540M644.5,235V540M653.5,235V540M661.5,235V540M670.5,235V540M679.5,235V540M688.5,235V540M696.5,235V540M705.5,235V540M714.5,235V540M722.5,235V540M731.5,235V540M740.5,235V540M749.5,235V540M757.5,235V540M766.5,235V540" stroke="#000" stroke-width="1.2" fill="none"/>
</g>
<path d="M573,240.57 L573.6,240.16 L574.2,239.74 L574.8,239.35 L575.4,239 L576,238.73 L576.6,238.56 L577.2,238.5 L577.8,238.55 L578.41,238.71 L579.01,238.98 L579.61,239.31 L580.21,239.71 L580.81,240.13 L581.41,240.54 L582.01,240.92 L582.61,241.23 L583.21,241.46 L583.81,241.58 L584.41,241.59 L585.01,241.49 L585.61,241.28 L586.21,240.98 L586.81,240.61 L587.41,240.2 L588.02,239.78 L588.62,239.38 L589.22,239.03 L589.82,238.75 L590.42,238.57 L591.02,238.5 L591.62,238.54 L592.22,238.69 L592.82,238.95 L593.42,239.28 L594.02,239.67 L594.62,240.09 L595.22,240.5 L595.82,240.88 L596.42,241.2 L597.02,241.44 L597.62,241.57 L598.23,241.59 L598.83,241.5 L599.43,241.3 L600.03,241.01 L600.63,240.65 L601.23,240.24 L601.83,239.82 L602.43,239.42 L603.03,239.06 L603.63,238.78 L604.23,238.59 L604.83,238.5 L605.43,238.53 L606.03,238.68 L606.63,238.92 L607.23,239.25 L607.83,239.63 L608.44,240.05 L609.04,240.47 L609.64,240.85 L610.24,241.18 L610.84,241.42 L611.44,241.57 L612.04,241.6 L612.64,241.51 L613.24,241.32 L613.84,241.04 L614.44,240.68 L615.04,240.28 L615.64,239.86 L616.24,239.45 L616.84,239.09 L617.44,238.8 L618.05,238.6 L618.65,238.51 L619.25,238.53 L619.85,238.66 L620.45,238.89 L621.05,239.21 L621.65,239.59 L622.25,240.01 L622.85,240.43 L623.45,240.82 L624.05,241.15 L624.65,241.4 L625.25,241.56 L625.85,241.6 L626.45,241.53 L627.05,241.35 L627.65,241.07 L628.26,240.72 L628.86,240.32 L629.46,239.9 L630.06,239.49 L630.66,239.12 L631.26,238.82 L631.86,238.61 L632.46,238.51 L633.06,238.52 L633.66,238.64 L634.26,238.87 L634.86,239.18 L635.46,239.56 L636.06,239.97 L636.66,240.39 L637.26,240.78 L637.86,241.12 L638.47,241.38 L639.07,241.55 L639.67,241.6 L640.27,241.54 L640.87,241.37 L641.47,241.1 L642.07,240.76 L642.67,240.36 L643.27,239.94 L643.87,239.53 L644.47,239.15 L645.07,238.85 L645.67,238.63 L646.27,238.51 L646.87,238.51 L647.47,238.63 L648.08,238.84 L648.68,239.15 L649.28,239.52 L649.88,239.93 L650.48,240.35 L651.08,240.75 L651.68,241.09 L652.28,241.36 L652.88,241.54 L653.48,241.6 L654.08,241.55 L654.68,241.39 L655.28,241.13 L655.88,240.79 L656.48,240.4 L657.08,239.98 L657.68,239.57 L658.29,239.19 L658.89,238.87 L659.49,238.65 L660.09,238.52 L660.69,238.51 L661.29,238.61 L661.89,238.82 L662.49,239.12 L663.09,239.48 L663.69,239.89 L664.29,240.31 L664.89,240.71 L665.49,241.06 L666.09,241.34 L666.69,241.52 L667.29,241.6 L667.89,241.56 L668.5,241.41 L669.1,241.16 L669.7,240.82 L670.3,240.44 L670.9,240.02 L671.5,239.6 L672.1,239.22 L672.7,238.9 L673.3,238.66 L673.9,238.53 L674.5,238.51 L675.1,238.6 L675.7,238.79 L676.3,239.08 L676.9,239.45 L677.5,239.85 L678.11,240.27 L678.71,240.68 L679.31,241.03 L679.91,241.32 L680.51,241.51 L681.11,241.6 L681.71,241.57 L682.31,241.43 L682.91,241.18 L683.51,240.86 L684.11,240.47 L684.71,240.06 L685.31,239.64 L685.91,239.25 L686.51,238.93 L687.11,238.68 L687.71,238.54 L688.32,238.5 L688.92,238.58 L689.52,238.77 L690.12,239.05 L690.72,239.41 L691.32,239.81 L691.92,240.23 L692.52,240.64 L693.12,241 L693.72,241.3 L694.32,241.5 L694.92,241.59 L695.52,241.57 L696.12,241.44 L696.72,241.21 L697.32,240.89 L697.92,240.51 L698.53,240.1 L699.13,239.68 L699.73,239.29 L700.33,238.95 L700.93,238.7 L701.53,238.54 L702.13,238.5 L702.73,238.57 L703.33,238.75 L703.93,239.02 L704.53,239.37 L705.13,239.77 L705.73,240.19 L706.33,240.6 L706.93,240.97 L707.53,241.27 L708.14,241.48 L708.74,241.59 L709.34,241.58 L709.94,241.46 L710.54,241.24 L711.14,240.93 L711.74,240.55 L712.34,240.14 L712.94,239.72 L713.54,239.32 L714.14,238.98 L714.74,238.72 L715.34,238.55 L715.94,238.5 L716.54,238.56 L717.14,238.73 L717.74,238.99 L718.35,239.34 L718.95,239.74 L719.55,240.15 L720.15,240.57 L720.75,240.94 L721.35,241.25 L721.95,241.47 L722.55,241.58 L723.15,241.59 L723.75,241.48 L724.35,241.26 L724.95,240.96 L725.55,240.59 L726.15,240.18 L726.75,239.76 L727.35,239.36 L727.95,239.01 L728.56,238.74 L729.16,238.57 L729.76,238.5 L730.36,238.55 L730.96,238.71 L731.56,238.97 L732.16,239.3 L732.76,239.7 L733.36,240.12 L733.96,240.53 L734.56,240.91 L735.16,241.22 L735.76,241.45 L736.36,241.58 L736.96,241.59 L737.56,241.49 L738.17,241.29 L738.77,240.99 L739.37,240.62 L739.97,240.22 L740.57,239.79 L741.17,239.39 L741.77,239.04 L742.37,238.76 L742.97,238.58 L743.57,238.5 L744.17,238.54 L744.77,238.69 L745.37,238.94 L745.97,239.27 L746.57,239.66 L747.17,240.08 L747.77,240.49 L748.38,240.87 L748.98,241.2 L749.58,241.43 L750.18,241.57 L750.78,241.6 L751.38,241.51 L751.98,241.31 L752.58,241.02 L753.18,240.66 L753.78,240.25 L754.38,239.83 L754.98,239.43 L755.58,239.07 L756.18,238.78 L756.78,238.59 L757.38,238.5 L757.98,238.53 L758.59,238.67 L759.19,238.91 L759.79,239.24 L760.39,239.62 L760.99,240.04 L761.59,240.45 L762.19,240.84 L762.79,241.17 L763.39,241.42 L763.99,241.56 L764.59,241.6 L765.19,241.52 L765.79,241.33 L766.39,241.05 L766.99,240.7 L767.59,240.29 L768.2,239.87 L768.8,239.47 L769.4,239.1 L770,238.81 L770.6,238.6 L771.2,238.51 L771.8,238.52 L772.4,238.65 L773,238.88" fill="none" stroke="#111" stroke-width="1"/>
<path d="M773,460.26 L772.4,459.76 L771.8,459.3 L771.2,458.91 L770.6,458.62 L770,458.44 L769.4,458.4 L768.8,458.5 L768.2,458.72 L767.6,459.06 L767,459.48 L766.4,459.96 L765.79,460.47 L765.19,460.95 L764.59,461.39 L763.99,461.74 L763.39,461.98 L762.79,462.09 L762.19,462.07 L761.59,461.92 L760.99,461.64 L760.39,461.26 L759.79,460.81 L759.19,460.31 L758.59,459.81 L757.99,459.35 L757.39,458.95 L756.79,458.64 L756.19,458.45 L755.59,458.4 L754.99,458.48 L754.39,458.69 L753.79,459.02 L753.19,459.44 L752.59,459.91 L751.99,460.41 L751.38,460.9 L750.78,461.34 L750.18,461.71 L749.58,461.96 L748.98,462.09 L748.38,462.08 L747.78,461.94 L747.18,461.67 L746.58,461.3 L745.98,460.85 L745.38,460.36 L744.78,459.86 L744.18,459.39 L743.58,458.98 L742.98,458.67 L742.38,458.47 L741.78,458.4 L741.18,458.47 L740.58,458.67 L739.98,458.98 L739.38,459.39 L738.78,459.86 L738.18,460.36 L737.58,460.86 L736.97,461.3 L736.37,461.67 L735.77,461.94 L735.17,462.08 L734.57,462.09 L733.97,461.96 L733.37,461.7 L732.77,461.34 L732.17,460.9 L731.57,460.41 L730.97,459.91 L730.37,459.43 L729.77,459.02 L729.17,458.69 L728.57,458.48 L727.97,458.4 L727.37,458.46 L726.77,458.64 L726.17,458.95 L725.57,459.35 L724.97,459.81 L724.37,460.31 L723.77,460.81 L723.17,461.26 L722.56,461.64 L721.96,461.92 L721.36,462.07 L720.76,462.09 L720.16,461.98 L719.56,461.73 L718.96,461.38 L718.36,460.95 L717.76,460.46 L717.16,459.96 L716.56,459.48 L715.96,459.06 L715.36,458.72 L714.76,458.5 L714.16,458.4 L713.56,458.44 L712.96,458.62 L712.36,458.91 L711.76,459.3 L711.16,459.77 L710.56,460.26 L709.96,460.76 L709.36,461.22 L708.76,461.61 L708.15,461.89 L707.55,462.06 L706.95,462.1 L706.35,461.99 L705.75,461.76 L705.15,461.42 L704.55,460.99 L703.95,460.51 L703.35,460.01 L702.75,459.53 L702.15,459.1 L701.55,458.75 L700.95,458.51 L700.35,458.41 L699.75,458.43 L699.15,458.59 L698.55,458.88 L697.95,459.26 L697.35,459.72 L696.75,460.21 L696.15,460.71 L695.55,461.18 L694.95,461.57 L694.35,461.87 L693.74,462.05 L693.14,462.1 L692.54,462.01 L691.94,461.79 L691.34,461.46 L690.74,461.04 L690.14,460.56 L689.54,460.06 L688.94,459.57 L688.34,459.14 L687.74,458.78 L687.14,458.53 L686.54,458.41 L685.94,458.42 L685.34,458.57 L684.74,458.84 L684.14,459.22 L683.54,459.67 L682.94,460.16 L682.34,460.66 L681.74,461.13 L681.14,461.54 L680.54,461.85 L679.94,462.04 L679.33,462.1 L678.73,462.03 L678.13,461.82 L677.53,461.5 L676.93,461.09 L676.33,460.61 L675.73,460.11 L675.13,459.62 L674.53,459.18 L673.93,458.81 L673.33,458.55 L672.73,458.42 L672.13,458.42 L671.53,458.55 L670.93,458.81 L670.33,459.18 L669.73,459.62 L669.13,460.11 L668.53,460.61 L667.93,461.09 L667.33,461.5 L666.73,461.82 L666.13,462.03 L665.53,462.1 L664.92,462.04 L664.32,461.85 L663.72,461.54 L663.12,461.13 L662.52,460.66 L661.92,460.16 L661.32,459.67 L660.72,459.22 L660.12,458.84 L659.52,458.57 L658.92,458.42 L658.32,458.41 L657.72,458.53 L657.12,458.78 L656.52,459.14 L655.92,459.57 L655.32,460.06 L654.72,460.56 L654.12,461.04 L653.52,461.46 L652.92,461.79 L652.32,462.01 L651.72,462.1 L651.12,462.05 L650.51,461.87 L649.91,461.57 L649.31,461.18 L648.71,460.71 L648.11,460.21 L647.51,459.72 L646.91,459.26 L646.31,458.88 L645.71,458.59 L645.11,458.43 L644.51,458.41 L643.91,458.51 L643.31,458.75 L642.71,459.1 L642.11,459.53 L641.51,460.01 L640.91,460.51 L640.31,461 L639.71,461.42 L639.11,461.76 L638.51,461.99 L637.91,462.1 L637.31,462.06 L636.71,461.89 L636.1,461.61 L635.5,461.22 L634.9,460.76 L634.3,460.26 L633.7,459.77 L633.1,459.3 L632.5,458.91 L631.9,458.62 L631.3,458.44 L630.7,458.4 L630.1,458.5 L629.5,458.72" fill="none" stroke="#111" stroke-width="1"/>
<path d="M627.7,458.66 L627.69,459.4 L627.66,460.14 L627.63,460.87 L627.59,461.59 L627.52,462.29 L627.43,462.98 L627.31,463.64 L627.16,464.28 L626.98,464.9 L626.75,465.48 L626.49,466.04 L626.19,466.56 L625.84,467.06 L625.45,467.52 L625.02,467.96 L624.55,468.36 L624.04,468.73 L623.49,469.08 L622.91,469.4 L622.3,469.69 L621.66,469.97 L621,470.23 L620.32,470.48 L619.62,470.71 L618.92,470.94 L618.45,471.34 L618.43,472.08 L618.41,472.82 L618.37,473.54 L618.32,474.26 L618.24,474.95 L618.15,475.63 L618.02,476.29 L617.85,476.92 L617.66,477.53 L617.42,478.1 L617.14,478.65 L616.83,479.17 L616.46,479.65 L616.06,480.1 L615.62,480.53 L615.13,480.92 L614.61,481.28 L614.05,481.62 L613.46,481.93 L612.84,482.22 L612.19,482.49 L611.52,482.75 L610.84,482.99 L610.14,483.22 L609.44,483.45 L609.19,484.02 L609.17,484.76 L609.15,485.49 L609.1,486.22 L609.05,486.92 L608.96,487.62 L608.86,488.29 L608.72,488.94 L608.54,489.56 L608.33,490.16 L608.08,490.72 L607.79,491.26 L607.46,491.76 L607.09,492.24 L606.67,492.68 L606.21,493.09 L605.71,493.48 L605.18,493.83 L604.61,494.16 L604.01,494.46 L603.38,494.75 L602.72,495.01 L602.05,495.26 L601.36,495.5 L600.66,495.73 L599.95,495.96 L599.94,496.7 L599.91,497.44 L599.88,498.17 L599.84,498.89 L599.77,499.59 L599.68,500.28 L599.56,500.94 L599.41,501.58 L599.23,502.2 L599,502.78 L598.74,503.34 L598.44,503.86 L598.09,504.36 L597.7,504.82 L597.27,505.26 L596.8,505.66 L596.29,506.03 L595.74,506.38 L595.16,506.7 L594.55,506.99 L593.91,507.27 L593.25,507.53 L592.57,507.78 L591.87,508.01 L591.17,508.24 L590.7,508.64 L590.68,509.38 L590.66,510.12 L590.62,510.84 L590.57,511.56 L590.49,512.25 L590.4,512.93 L590.27,513.59 L590.1,514.22 L589.91,514.83 L589.67,515.4 L589.39,515.95 L589.08,516.47 L588.71,516.95 L588.31,517.4 L587.87,517.83 L587.38,518.22 L586.86,518.58 L586.3,518.92 L585.71,519.23 L585.09,519.52 L584.44,519.79 L583.77,520.05 L583.09,520.29 L582.39,520.52 L581.69,520.75 L581.44,521.32 L581.42,522.06 L581.4,522.79 L581.35,523.52 L581.3,524.22 L581.21,524.92 L581.11,525.59 L580.97,526.24 L580.79,526.86 L580.58,527.46 L580.33,528.02 L580.04,528.56 L579.71,529.06 L579.34,529.54 L578.92,529.98 L578.46,530.39 L577.96,530.78 L577.43,531.13 L576.86,531.46 L576.26,531.76 L575.63,532.05 L574.97,532.31 L574.3,532.56 L573.61,532.8 L572.91,533.03 L572.2,533.26" fill="none" stroke="#111" stroke-width="1"/>
<path d="M773,257.79 L772.4,257.55 L771.8,257.42 L771.19,257.41 L770.59,257.51 L769.99,257.73 L769.39,258.04 L768.79,258.42 L768.19,258.84 L767.58,259.27 L766.98,259.69 L766.38,260.05 L765.78,260.34 L765.18,260.52 L764.58,260.6 L763.97,260.56 L763.37,260.4 L762.77,260.14 L762.17,259.79 L761.57,259.39 L760.96,258.95 L760.36,258.53 L759.76,258.13 L759.16,257.8 L758.56,257.56 L757.96,257.43 L757.35,257.41 L756.75,257.51 L756.15,257.72 L755.55,258.02 L754.95,258.4 L754.35,258.82 L753.74,259.25 L753.14,259.67 L752.54,260.03 L751.94,260.33 L751.34,260.52 L750.73,260.6 L750.13,260.56 L749.53,260.41 L748.93,260.15 L748.33,259.81 L747.73,259.41 L747.12,258.98 L746.52,258.55 L745.92,258.15 L745.32,257.82 L744.72,257.57 L744.12,257.43 L743.51,257.41 L742.91,257.5 L742.31,257.7 L741.71,258 L741.11,258.38 L740.5,258.8 L739.9,259.23 L739.3,259.65 L738.7,260.02 L738.1,260.31 L737.5,260.51 L736.89,260.6 L736.29,260.56 L735.69,260.42 L735.09,260.17 L734.49,259.83 L733.88,259.43 L733.28,259 L732.68,258.57 L732.08,258.17 L731.48,257.83 L730.88,257.58 L730.27,257.43 L729.67,257.4 L729.07,257.49 L728.47,257.69 L727.87,257.99 L727.27,258.36 L726.66,258.78 L726.06,259.21 L725.46,259.63 L724.86,260 L724.26,260.3 L723.65,260.5 L723.05,260.6 L722.45,260.57 L721.85,260.43 L721.25,260.18 L720.65,259.85 L720.04,259.45 L719.44,259.02 L718.84,258.59 L718.24,258.19 L717.64,257.85 L717.04,257.59 L716.43,257.44 L715.83,257.4 L715.23,257.48 L714.63,257.68 L714.03,257.97 L713.42,258.34 L712.82,258.75 L712.22,259.19 L711.62,259.61 L711.02,259.99 L710.42,260.29 L709.81,260.5 L709.21,260.59 L708.61,260.57 L708.01,260.44 L707.41,260.19 L706.81,259.86 L706.2,259.47 L705.6,259.04 L705,258.61 L704.4,258.2 L703.8,257.86 L703.19,257.6 L702.59,257.44 L701.99,257.4 L701.39,257.48 L700.79,257.67 L700.19,257.95 L699.58,258.32 L698.98,258.73 L698.38,259.17 L697.78,259.59 L697.18,259.97 L696.58,260.28 L695.97,260.49 L695.37,260.59 L694.77,260.58 L694.17,260.45 L693.57,260.21 L692.96,259.88 L692.36,259.49 L691.76,259.06 L691.16,258.63 L690.56,258.22 L689.96,257.87 L689.35,257.61 L688.75,257.45 L688.15,257.4 L687.55,257.47 L686.95,257.65 L686.35,257.94 L685.74,258.3 L685.14,258.71 L684.54,259.15 L683.94,259.57 L683.34,259.95 L682.73,260.26 L682.13,260.48 L681.53,260.59 L680.93,260.58 L680.33,260.45 L679.73,260.22 L679.12,259.9 L678.52,259.51 L677.92,259.08 L677.32,258.65 L676.72,258.24 L676.12,257.89 L675.51,257.62 L674.91,257.45 L674.31,257.4 L673.71,257.47 L673.11,257.64 L672.5,257.92 L671.9,258.28 L671.3,258.69 L670.7,259.13 L670.1,259.55 L669.5,259.93 L668.89,260.25 L668.29,260.47 L667.69,260.59 L667.09,260.58 L666.49,260.46 L665.88,260.24 L665.28,259.92 L664.68,259.53 L664.08,259.1 L663.48,258.67 L662.88,258.26 L662.27,257.91 L661.67,257.63 L661.07,257.46 L660.47,257.4 L659.87,257.46 L659.27,257.63 L658.66,257.91 L658.06,258.26 L657.46,258.67 L656.86,259.1 L656.26,259.53 L655.65,259.92 L655.05,260.24 L654.45,260.46 L653.85,260.58 L653.25,260.59 L652.65,260.47 L652.04,260.25 L651.44,259.93 L650.84,259.55 L650.24,259.12 L649.64,258.69 L649.04,258.28 L648.43,257.92 L647.83,257.64 L647.23,257.46 L646.63,257.4 L646.03,257.45 L645.42,257.62 L644.82,257.89 L644.22,258.24 L643.62,258.65 L643.02,259.08 L642.42,259.51 L641.81,259.9 L641.21,260.22 L640.61,260.46 L640.01,260.58 L639.41,260.59 L638.81,260.48 L638.2,260.26 L637.6,259.95 L637,259.57 L637,260.3 L636.75,260.38 L636.41,260.48 L636,260.58 L635.56,260.71 L635.1,260.87 L634.65,261.07 L634.24,261.31 L633.9,261.6 L633.63,261.97 L633.4,262.41 L633.2,262.92 L633.02,263.45 L632.84,263.99 L632.66,264.51 L632.45,264.99 L632.2,265.4 L631.93,265.75 L631.65,266.07 L631.36,266.37 L631.06,266.64 L630.73,266.88 L630.38,267.11 L630.01,267.31 L629.6,267.5 L629.15,267.65 L628.64,267.76 L628.11,267.83 L627.55,267.89 L626.99,267.95 L626.43,268.03 L625.9,268.14 L625.4,268.3 L624.94,268.49 L624.49,268.7 L624.07,268.93 L623.65,269.19 L623.24,269.47 L622.83,269.78 L622.42,270.12 L622,270.5 L621.56,270.94 L621.1,271.45 L620.63,272 L620.17,272.58 L619.72,273.15 L619.3,273.72 L618.92,274.24 L618.6,274.7 L618.31,275.11 L618.05,275.5 L617.81,275.85 L617.61,276.19 L617.45,276.5 L617.34,276.79 L617.29,277.05 L617.3,277.3 L617.39,277.53 L617.56,277.73 L617.78,277.91 L618.06,278.06 L618.37,278.2 L618.7,278.32 L619.05,278.42 L619.4,278.5 L619.76,278.55 L620.16,278.56 L620.59,278.54 L621.03,278.51 L621.48,278.47 L621.93,278.45 L622.38,278.46 L622.8,278.5 L623.23,278.59 L623.69,278.72 L624.16,278.88 L624.61,279.05 L625.04,279.22 L625.43,279.38 L625.75,279.51 L626,279.6 L626,280.69 L626.6,280.6 L627.2,280.41 L627.8,280.12 L628.4,279.77 L629,279.38 L629.6,278.97 L630.2,278.58 L630.8,278.24 L631.4,277.96 L632,277.78 L632.6,277.7 L633.2,277.73 L633.8,277.87 L634.4,278.11 L635,278.43 L635.6,278.8 L636.2,279.2 L636.8,279.6 L637.4,279.98 L638,280.29 L638.6,280.53 L639.2,280.67 L639.8,280.7 L640.4,280.62 L641,280.43 L641.6,280.16 L642.2,279.81 L642.8,279.43 L643.4,279.02 L644,278.63 L644.6,278.27 L645.2,277.99 L645.8,277.8 L646.4,277.71 L647,277.72 L647.6,277.85 L648.2,278.08 L648.8,278.39 L649.4,278.75 L650,279.15 L650.6,279.56 L651.2,279.94 L651.8,280.26 L652.4,280.51 L653,280.66 L653.6,280.7 L654.2,280.63 L654.8,280.46 L655.4,280.2 L656,279.86 L656.6,279.47 L657.2,279.07 L657.8,278.67 L658.4,278.31 L659,278.02 L659.6,277.81 L660.2,277.71 L660.8,277.72 L661.4,277.83 L662,278.05 L662.6,278.35 L663.2,278.71 L663.8,279.11 L664.4,279.51 L665,279.89 L665.6,280.23 L666.2,280.48 L666.8,280.64 L667.4,280.7 L668,280.65 L668.6,280.49 L669.2,280.23 L669.8,279.9 L670.4,279.52 L671,279.11 L671.6,278.71 L672.2,278.35 L672.8,278.05 L673.4,277.83 L674,277.72 L674.6,277.71 L675.2,277.81 L675.8,278.02 L676.4,278.31 L677,278.66 L677.6,279.06 L678.2,279.47 L678.8,279.85 L679.4,280.19 L680,280.46 L680.6,280.63 L681.2,280.7 L681.8,280.66 L682.4,280.51 L683,280.26 L683.6,279.94 L684.2,279.56 L684.8,279.16 L685.4,278.76 L686,278.39 L686.6,278.08 L687.2,277.85 L687.8,277.73 L688.4,277.71 L689,277.8 L689.6,277.99 L690.2,278.27 L690.8,278.62 L691.4,279.01 L692,279.42 L692.6,279.81 L693.2,280.15 L693.8,280.43 L694.4,280.62 L695,280.7 L695.6,280.67 L696.2,280.53 L696.8,280.3 L697.4,279.98 L698,279.61 L698.6,279.21 L699.2,278.81 L699.8,278.43 L700.4,278.11 L701,277.88 L701.6,277.74 L702.2,277.7 L702.8,277.78 L703.4,277.96 L704,278.23 L704.6,278.58 L705.2,278.96 L705.8,279.37 L706.4,279.76 L707,280.12 L707.6,280.4 L708.2,280.6 L708.8,280.69 L709.4,280.68 L710,280.55 L710.6,280.33 L711.2,280.02 L711.8,279.66 L712.4,279.26 L713,278.85 L713.6,278.47 L714.2,278.15 L714.8,277.9 L715.4,277.75 L716,277.7 L716.6,277.76 L717.2,277.93 L717.8,278.2 L718.4,278.53 L719,278.92 L719.6,279.32 L720.2,279.72 L720.8,280.08 L721.4,280.37 L722,280.58 L722.6,280.69 L723.2,280.68 L723.8,280.57 L724.4,280.36 L725,280.06 L725.6,279.7 L726.2,279.3 L726.8,278.9 L727.4,278.51 L728,278.18 L728.6,277.92 L729.2,277.76 L729.8,277.7 L730.4,277.75 L731,277.91 L731.6,278.16 L732.2,278.49 L732.8,278.87 L733.4,279.28 L734,279.68 L734.6,280.04 L735.2,280.34 L735.8,280.56 L736.4,280.68 L737,280.69 L737.6,280.59 L738.2,280.39 L738.8,280.1 L739.4,279.75 L740,279.35 L740.6,278.94 L741.2,278.56 L741.8,278.22 L742.4,277.95 L743,277.77 L743.6,277.7 L744.2,277.74 L744.8,277.89 L745.4,278.13 L746,278.45 L746.6,278.83 L747.2,279.23 L747.8,279.63 L748.4,280 L749,280.31 L749.6,280.54 L750.2,280.67 L750.8,280.7 L751.4,280.61 L752,280.42 L752.6,280.14 L753.2,279.79 L753.8,279.4 L754.4,278.99 L755,278.6 L755.6,278.25 L756.2,277.98 L756.8,277.79 L757.4,277.7 L758,277.73 L758.6,277.86 L759.2,278.1 L759.8,278.41 L760.4,278.78 L761,279.18 L761.6,279.58 L762.2,279.96 L762.8,280.28 L763.4,280.52 L764,280.66 L764.6,280.7 L765.2,280.62 L765.8,280.45 L766.4,280.18 L767,279.83 L767.6,279.45 L768.2,279.04 L768.8,278.64 L769.4,278.29 L770,278 L770.6,277.8 L771.2,277.71 L771.8,277.72 L772.4,277.84 L773,278.06" fill="#fff" stroke="#111" stroke-width="1"/>
<path d="M773,285.34 L772.4,284.99 L771.79,284.72 L771.19,284.55 L770.58,284.5 L769.98,284.57 L769.38,284.75 L768.77,285.03 L768.17,285.39 L767.56,285.8 L766.96,286.24 L766.36,286.66 L765.75,287.05 L765.15,287.36 L764.54,287.58 L763.94,287.69 L763.34,287.68 L762.73,287.55 L762.13,287.32 L761.52,286.99 L760.92,286.6 L760.32,286.17 L759.71,285.74 L759.11,285.33 L758.5,284.98 L757.9,284.71 L757.3,284.55 L756.69,284.5 L756.09,284.57 L755.49,284.76 L754.88,285.04 L754.28,285.4 L753.67,285.82 L753.07,286.25 L752.47,286.68 L751.86,287.06 L751.26,287.37 L750.65,287.59 L750.05,287.69 L749.45,287.68 L748.84,287.55 L748.24,287.31 L747.63,286.98 L747.03,286.59 L746.43,286.16 L745.82,285.72 L745.22,285.32 L744.61,284.97 L744.01,284.71 L743.41,284.55 L742.8,284.5 L742.2,284.58 L741.59,284.76 L740.99,285.05 L740.39,285.42 L739.78,285.83 L739.18,286.27 L738.57,286.69 L737.97,287.07 L737.37,287.38 L736.76,287.59 L736.16,287.69 L735.55,287.68 L734.95,287.54 L734.35,287.3 L733.74,286.97 L733.14,286.57 L732.53,286.14 L731.93,285.71 L731.33,285.3 L730.72,284.96 L730.12,284.7 L729.51,284.54 L728.91,284.5 L728.31,284.58 L727.7,284.77 L727.1,285.06 L726.5,285.43 L725.89,285.85 L725.29,286.28 L724.68,286.71 L724.08,287.08 L723.48,287.39 L722.87,287.6 L722.27,287.69 L721.66,287.67 L721.06,287.53 L720.46,287.29 L719.85,286.95 L719.25,286.56 L718.64,286.13 L718.04,285.69 L717.44,285.29 L716.83,284.95 L716.23,284.69 L715.62,284.54 L715.02,284.5 L714.42,284.59 L713.81,284.78 L713.21,285.07 L712.6,285.44 L712,285.86 L712,286.1 L711.77,286.24 L711.46,286.4 L711.09,286.6 L710.69,286.83 L710.26,287.09 L709.82,287.37 L709.4,287.67 L709,288 L708.6,288.38 L708.18,288.84 L707.74,289.35 L707.31,289.87 L706.91,290.37 L706.54,290.83 L706.23,291.22 L706,291.5 L704.76,289.63 L704.5,290.33 L704.24,291.03 L703.98,291.71 L703.7,292.37 L703.4,293.02 L703.09,293.63 L702.76,294.22 L702.4,294.76 L702.02,295.27 L701.61,295.74 L701.17,296.16 L700.7,296.54 L700.2,296.87 L699.67,297.16 L699.11,297.4 L698.52,297.6 L697.9,297.75 L697.26,297.87 L696.59,297.95 L695.9,298 L695.2,298.02 L694.48,298.02 L693.74,298 L693,297.97 L692.26,297.93 L692,298.63 L691.74,299.33 L691.48,300.01 L691.2,300.67 L690.9,301.32 L690.59,301.93 L690.26,302.52 L689.9,303.06 L689.52,303.57 L689.11,304.04 L688.67,304.46 L688.2,304.84 L687.7,305.17 L687.17,305.46 L686.61,305.7 L686.02,305.9 L685.4,306.05 L684.76,306.17 L684.09,306.25 L683.4,306.3 L682.7,306.32 L681.98,306.32 L681.24,306.3 L680.5,306.27 L679.76,306.23 L679.5,306.93 L679.24,307.63 L678.98,308.31 L678.7,308.97 L678.4,309.62 L678.09,310.23 L677.76,310.82 L677.4,311.36 L677.02,311.87 L676.61,312.34 L676.17,312.76 L675.7,313.14 L675.2,313.47 L674.67,313.76 L674.11,314 L673.52,314.2 L672.9,314.35 L672.26,314.47 L671.59,314.55 L670.9,314.6 L670.2,314.62 L669.48,314.62 L668.74,314.6 L668,314.57 L667.26,314.53 L667,315.23 L666.74,315.93 L666.48,316.61 L666.2,317.27 L665.9,317.92 L665.59,318.53 L665.26,319.12 L664.9,319.66 L664.52,320.17 L664.11,320.64 L663.67,321.06 L663.2,321.44 L662.7,321.77 L662.17,322.06 L661.61,322.3 L661.02,322.5 L660.4,322.65 L659.76,322.77 L659.09,322.85 L658.4,322.9 L657.7,322.92 L656.98,322.92 L656.24,322.9 L655.5,322.87 L654.76,322.83 L654.5,323.53 L654.24,324.23 L653.98,324.91 L653.7,325.57 L653.4,326.22 L653.09,326.83 L652.76,327.42 L652.4,327.96 L652.02,328.47 L651.61,328.94 L651.17,329.36 L650.7,329.74 L650.2,330.07 L649.67,330.36 L649.11,330.6 L648.52,330.8 L647.9,330.95 L647.26,331.07 L646.59,331.15 L645.9,331.2 L645.2,331.22 L644.48,331.22 L643.74,331.2 L643,331.17 L642.26,331.13 L643.5,333 L643.18,333.26 L642.74,333.61 L642.22,334.01 L641.64,334.47 L641.05,334.96 L640.47,335.47 L639.95,335.99 L639.5,336.5 L639.12,337.01 L638.78,337.54 L638.46,338.09 L638.17,338.66 L637.91,339.23 L637.66,339.82 L637.42,340.41 L637.2,341 L636.98,341.61 L636.78,342.25 L636.58,342.9 L636.41,343.56 L636.26,344.21 L636.13,344.84 L636.05,345.44 L636,346 L635.99,346.52 L636.01,347.02 L636.07,347.49 L636.16,347.94 L636.27,348.36 L636.42,348.77 L636.6,349.14 L636.8,349.5 L637.05,349.83 L637.35,350.12 L637.68,350.39 L638.04,350.64 L638.42,350.87 L638.79,351.08 L639.16,351.29 L639.5,351.5 L639.84,351.7 L640.2,351.9 L640.56,352.1 L640.92,352.27 L641.25,352.44 L641.56,352.58 L641.81,352.7 L642,352.8 L642,354.35 L642.6,353.89 L643.2,353.44 L643.8,353.04 L644.4,352.72 L645,352.51 L645.61,352.41 L646.21,352.43 L646.81,352.58 L647.41,352.84 L648.01,353.19 L648.61,353.61 L649.21,354.06 L649.81,354.52 L650.41,354.95 L651.01,355.31 L651.61,355.59 L652.22,355.75 L652.82,355.8 L653.42,355.72 L654.02,355.52 L654.62,355.21 L655.22,354.82 L655.82,354.38 L656.42,353.92 L657.02,353.48 L657.62,353.07 L658.22,352.75 L658.83,352.52 L659.43,352.41 L660.03,352.42 L660.63,352.56 L661.23,352.81 L661.83,353.16 L662.43,353.57 L663.03,354.03 L663.63,354.49 L664.23,354.92 L664.83,355.29 L665.44,355.57 L666.04,355.75 L666.64,355.8 L667.24,355.73 L667.84,355.54 L668.44,355.24 L669.04,354.86 L669.64,354.42 L670.24,353.96 L670.84,353.51 L671.44,353.1 L672.05,352.77 L672.65,352.53 L673.25,352.41 L673.85,352.42 L674.45,352.55 L675.05,352.79 L675.65,353.13 L676.25,353.54 L676.85,353.99 L677.45,354.45 L678.06,354.88 L678.66,355.26 L679.26,355.55 L679.86,355.74 L680.46,355.8 L681.06,355.74 L681.66,355.56 L682.26,355.27 L682.86,354.89 L683.46,354.46 L684.06,354 L684.67,353.55 L685.27,353.13 L685.87,352.79 L686.47,352.55 L687.07,352.42 L687.67,352.41 L688.27,352.53 L688.87,352.76 L689.47,353.1 L690.07,353.5 L690.67,353.95 L691.28,354.41 L691.88,354.85 L692.48,355.23 L693.08,355.53 L693.68,355.73 L694.28,355.8 L694.88,355.75 L695.48,355.58 L696.08,355.29 L696.68,354.93 L697.28,354.5 L697.89,354.04 L698.49,353.58 L699.09,353.17 L699.69,352.82 L700.29,352.57 L700.89,352.43 L701.49,352.41 L702.09,352.52 L702.69,352.74 L703.29,353.07 L703.89,353.47 L704.5,353.91 L705.1,354.38 L705.7,354.82 L706.3,355.2 L706.9,355.51 L707.5,355.71 L708.1,355.8 L708.7,355.76 L709.3,355.59 L709.9,355.32 L710.5,354.96 L711.11,354.53 L711.71,354.07 L712.31,353.62 L712.91,353.2 L713.51,352.84 L714.11,352.58 L714.71,352.43 L715.31,352.41 L715.91,352.5 L716.51,352.72 L717.11,353.04 L717.72,353.43 L718.32,353.88 L718.92,354.34 L719.52,354.78 L720.12,355.18 L720.72,355.49 L721.32,355.7 L721.92,355.8 L722.52,355.77 L723.12,355.61 L723.72,355.35 L724.33,354.99 L724.93,354.57 L725.53,354.11 L726.13,353.65 L726.73,353.23 L727.33,352.87 L727.93,352.6 L728.53,352.44 L729.13,352.4 L729.73,352.49 L730.33,352.7 L730.94,353.01 L731.54,353.4 L732.14,353.84 L732.74,354.3 L733.34,354.75 L733.94,355.15 L734.54,355.47 L735.14,355.69 L735.74,355.79 L736.34,355.77 L736.94,355.63 L737.55,355.37 L738.15,355.02 L738.75,354.6 L739.35,354.15 L739.95,353.69 L740.55,353.26 L741.15,352.9 L741.75,352.62 L742.35,352.45 L742.95,352.4 L743.56,352.48 L744.16,352.68 L744.76,352.98 L745.36,353.36 L745.96,353.8 L746.56,354.26 L747.16,354.71 L747.76,355.12 L748.36,355.45 L748.96,355.68 L749.56,355.79 L750.17,355.78 L750.77,355.64 L751.37,355.4 L751.97,355.05 L752.57,354.64 L753.17,354.19 L753.77,353.73 L754.37,353.29 L754.97,352.92 L755.57,352.64 L756.17,352.46 L756.78,352.4 L757.38,352.47 L757.98,352.66 L758.58,352.95 L759.18,353.33 L759.78,353.77 L760.38,354.23 L760.98,354.68 L761.58,355.09 L762.18,355.42 L762.78,355.66 L763.39,355.78 L763.99,355.78 L764.59,355.66 L765.19,355.42 L765.79,355.08 L766.39,354.68 L766.99,354.22 L767.59,353.76 L768.19,353.33 L768.79,352.95 L769.39,352.66 L770,352.47 L770.6,352.4 L771.2,352.46 L771.8,352.64 L772.4,352.92 L773,353.3" fill="#fff" stroke="#111" stroke-width="1"/>
<text transform="translate(645.8,273.4) scale(1,1.06)" font-size="12.25" textLength="62.2" lengthAdjust="spacingAndGlyphs">Cerro Tasajo</text>
<text transform="translate(711.5,273.4) scale(1,0.94)" font-size="10" textLength="44.9" lengthAdjust="spacingAndGlyphs">Limestone</text>
<text transform="translate(690,323) scale(1,1.06)" font-size="12.25" textLength="70" lengthAdjust="spacingAndGlyphs">Los Pozos Fm</text>
<text transform="translate(712.7,337.6) scale(1,1.06)" font-size="12.25" textLength="24" lengthAdjust="spacingAndGlyphs">100+</text>
<text transform="translate(661.9,491) scale(1,1.06)" font-size="12.25" textLength="59.2" lengthAdjust="spacingAndGlyphs">San Marcos/</text>
<text transform="translate(632.4,505.7) scale(1,1.06)" font-size="12.25" textLength="120" lengthAdjust="spacingAndGlyphs">San Antonio Formations</text>
<line x1="578.6" y1="525.6" x2="666.5" y2="525.6" stroke="#666" stroke-width="1.2"/>
<line x1="676.3" y1="525.6" x2="773" y2="525.6" stroke="#666" stroke-width="1.2"/>
<text transform="translate(671.4,529.2) scale(1,1.06)" font-size="12.3" text-anchor="middle">?</text>
<text transform="translate(598.9,539.7) scale(1,1.06)" font-size="12.25" textLength="144.9" lengthAdjust="spacingAndGlyphs">El Quemado Formation &gt;100</text>
<line x1="573" y1="547" x2="666.5" y2="547" stroke="#888" stroke-width="1.2"/>
<line x1="676.3" y1="547" x2="773" y2="547" stroke="#888" stroke-width="1.2"/>
<text transform="translate(671.4,551.5) scale(1,1.06)" font-size="12.3" text-anchor="middle">?</text>
<text transform="translate(671.5,603.2) scale(1,1.06)" font-size="12.25" text-anchor="middle">No data</text>
<text transform="translate(872.4,90) scale(1,1.06)" font-size="12.25" text-anchor="middle">No data</text>
<path d="M896.9,114.5h1.2M930.9,117.5h1.2M919.9,117.5h1.2M778.9,109.5h1.2M959.9,112.5h1.2M951.9,103.5h1.2M865.9,105.5h1.2M880.9,111.5h1.2M775.9,105.5h1.2M828.9,117.5h1.2M924.9,104.5h1.2M930.9,103.5h1.2M895.9,103.5h1.2M773.9,116.5h1.2M814.9,105.5h1.2M967.9,116.5h1.2M813.9,117.5h1.2M909.9,117.5h1.2M844.9,104.5h1.2M801.9,102.5h1.2M832.9,111.5h1.2M839.9,106.5h1.2M935.9,109.5h1.2M912.9,102.5h1.2M966.9,101.5h1.2M845.9,111.5h1.2M808.9,117.5h1.2M957.9,117.5h1.2M876.9,114.5h1.2M794.9,114.5h1.2M780.9,117.5h1.2M791.9,107.5h1.2M840.9,117.5h1.2M880.9,106.5h1.2M835.9,104.5h1.2M968.9,110.5h1.2M853.9,105.5h1.2M890.9,115.5h1.2M939.9,103.5h1.2M802.9,115.5h1.2M869.9,113.5h1.2M847.9,118.5h1.2M871.9,107.5h1.2M926.9,113.5h1.2M904.9,114.5h1.2M828.9,109.5h1.2M822.9,112.5h1.2M864.9,115.5h1.2M945.9,113.5h1.2M875.9,110.5h1.2M917.9,104.5h1.2M904.9,108.5h1.2M860.9,112.5h1.2M816.9,113.5h1.2M783.9,103.5h1.2M811.9,102.5h1.2M820.9,116.5h1.2M890.9,111.5h1.2M962.9,117.5h1.2M890.9,105.5h1.2M860.9,106.5h1.2M826.9,104.5h1.2M900.9,111.5h1.2M920.9,111.5h1.2M948.9,110.5h1.2M913.9,112.5h1.2M849.9,108.5h1.2M786.9,115.5h1.2M910.9,108.5h1.2M803.9,111.5h1.2M778.9,113.5h1.2M900.9,117.5h1.2M946.9,103.5h1.2M958.9,107.5h1.2M873.9,116.5h1.2M875.9,103.5h1.2M819.9,107.5h1.2M789.9,112.5h1.2M849.9,103.5h1.2M941.9,110.5h1.2" stroke="#000" stroke-width="1.2"/>
<line x1="773" y1="100.6" x2="867.5" y2="100.6" stroke="#555" stroke-width="1.2"/>
<line x1="877.3" y1="100.6" x2="974" y2="100.6" stroke="#555" stroke-width="1.2"/>
<text transform="translate(872.4,104.5) scale(1,1.06)" font-size="12.3" text-anchor="middle">?</text>
<line x1="801.8" y1="119.4" x2="974" y2="119.4" stroke="#111" stroke-width="1.3"/>
<line x1="773" y1="122.3" x2="806" y2="122.3" stroke="#111" stroke-width="1.3"/>
<line x1="801.8" y1="119.4" x2="806" y2="122.3" stroke="#111" stroke-width="1"/>
<text transform="translate(822.3,114.3) scale(1,0.94)" font-size="10.8" textLength="100" lengthAdjust="spacingAndGlyphs">Mina México Fm &gt;800</text>
<circle cx="953.6" cy="110.7" r="6.6" fill="#fdd800"/>
<text transform="translate(807.2,144.1) scale(1,1.06)" font-size="12.25" textLength="130.8" lengthAdjust="spacingAndGlyphs">La Cueva Limestone &gt;200</text>
<circle cx="953.6" cy="138.1" r="6.4" fill="#8fd4f5"/>
<clipPath id="k3"><path d="M773,162.61 L773.6,162.23 L774.2,161.89 L774.8,161.63 L775.4,161.46 L776,161.4 L776.6,161.45 L777.2,161.6 L777.8,161.85 L778.4,162.18 L779,162.56 L779.6,162.96 L780.2,163.36 L780.8,163.73 L781.4,164.03 L782,164.26 L782.6,164.38 L783.2,164.39 L783.8,164.3 L784.4,164.1 L785,163.81 L785.6,163.46 L786.2,163.06 L786.8,162.66 L787.4,162.27 L788,161.93 L788.6,161.66 L789.2,161.48 L789.8,161.4 L790.4,161.44 L791,161.58 L791.6,161.82 L792.2,162.14 L792.8,162.51 L793.4,162.92 L794,163.32 L794.6,163.69 L795.2,164 L795.8,164.24 L796.4,164.37 L797,164.4 L797.6,164.31 L798.2,164.13 L798.8,163.85 L799.4,163.5 L800,163.11 L800.6,162.71 L801.2,162.31 L801.8,161.96 L802.4,161.68 L803,161.49 L803.6,161.4 L804.2,161.43 L804.8,161.56 L805.4,161.79 L806,162.1 L806.6,162.47 L807.2,162.87 L807.8,163.27 L808.4,163.65 L809,163.97 L809.6,164.21 L810.2,164.36 L810.8,164.4 L811.4,164.33 L812,164.15 L812.6,163.89 L813.2,163.55 L813.8,163.16 L814.4,162.75 L815,162.36 L815.6,162 L816.2,161.71 L816.8,161.51 L817.4,161.41 L818,161.42 L818.6,161.54 L819.2,161.75 L819.8,162.06 L820.4,162.42 L821,162.82 L821.6,163.23 L822.2,163.61 L822.8,163.94 L823.4,164.19 L824,164.35 L824.6,164.4 L825.2,164.34 L825.8,164.18 L826.4,163.92 L827,163.59 L827.6,163.21 L828.2,162.8 L828.8,162.4 L829.4,162.04 L830,161.74 L830.6,161.53 L831.2,161.42 L831.8,161.41 L832.4,161.52 L833,161.72 L833.6,162.02 L834.2,162.38 L834.8,162.77 L835.4,163.18 L836,163.56 L836.6,163.9 L837.2,164.16 L837.8,164.33 L838.4,164.4 L839,164.35 L839.6,164.2 L840.2,163.96 L840.8,163.63 L841.4,163.25 L842,162.85 L842.6,162.45 L843.2,162.08 L843.8,161.77 L844.4,161.55 L845,161.42 L845.6,161.41 L846.2,161.5 L846.8,161.7 L847.4,161.98 L848,162.33 L848.6,162.73 L849.2,163.13 L849.8,163.52 L850.4,163.86 L851,164.14 L851.6,164.32 L852.2,164.4 L852.8,164.37 L853.4,164.23 L854,163.99 L854.6,163.67 L855.2,163.3 L855.8,162.89 L856.4,162.49 L857,162.12 L857.6,161.8 L858.2,161.57 L858.8,161.43 L859.4,161.4 L860,161.48 L860.6,161.67 L860.6,180.67 L860,180.48 L859.4,180.4 L858.8,180.43 L858.2,180.57 L857.6,180.8 L857,181.12 L856.4,181.49 L855.8,181.89 L855.2,182.3 L854.6,182.67 L854,182.99 L853.4,183.23 L852.8,183.37 L852.2,183.4 L851.6,183.32 L851,183.14 L850.4,182.86 L849.8,182.52 L849.2,182.13 L848.6,181.73 L848,181.33 L847.4,180.98 L846.8,180.7 L846.2,180.5 L845.6,180.41 L845,180.42 L844.4,180.55 L843.8,180.77 L843.2,181.08 L842.6,181.45 L842,181.85 L841.4,182.25 L840.8,182.63 L840.2,182.96 L839.6,183.2 L839,183.35 L838.4,183.4 L837.8,183.33 L837.2,183.16 L836.6,182.9 L836,182.56 L835.4,182.18 L834.8,181.77 L834.2,181.38 L833.6,181.02 L833,180.72 L832.4,180.52 L831.8,180.41 L831.2,180.42 L830.6,180.53 L830,180.74 L829.4,181.04 L828.8,181.4 L828.2,181.8 L827.6,182.21 L827,182.59 L826.4,182.92 L825.8,183.18 L825.2,183.34 L824.6,183.4 L824,183.35 L823.4,183.19 L822.8,182.94 L822.2,182.61 L821.6,182.23 L821,181.82 L820.4,181.42 L819.8,181.06 L819.2,180.75 L818.6,180.54 L818,180.42 L817.4,180.41 L816.8,180.51 L816.2,180.71 L815.6,181 L815,181.36 L814.4,181.75 L813.8,182.16 L813.2,182.55 L812.6,182.89 L812,183.15 L811.4,183.33 L810.8,183.4 L810.2,183.36 L809.6,183.21 L809,182.97 L808.4,182.65 L807.8,182.27 L807.2,181.87 L806.6,181.47 L806,181.1 L805.4,180.79 L804.8,180.56 L804.2,180.43 L803.6,180.4 L803,180.49 L802.4,180.68 L801.8,180.96 L801.2,181.31 L800.6,181.71 L800,182.11 L799.4,182.5 L798.8,182.85 L798.2,183.13 L797.6,183.31 L797,183.4 L796.4,183.37 L795.8,183.24 L795.2,183 L794.6,182.69 L794,182.32 L793.4,181.92 L792.8,181.51 L792.2,181.14 L791.6,180.82 L791,180.58 L790.4,180.44 L789.8,180.4 L789.2,180.48 L788.6,180.66 L788,180.93 L787.4,181.27 L786.8,181.66 L786.2,182.06 L785.6,182.46 L785,182.81 L784.4,183.1 L783.8,183.3 L783.2,183.39 L782.6,183.38 L782,183.26 L781.4,183.03 L780.8,182.73 L780.2,182.36 L779.6,181.96 L779,181.56 L778.4,181.18 L777.8,180.85 L777.2,180.6 L776.6,180.45 L776,180.4 L775.4,180.46 L774.8,180.63 L774.2,180.89 L773.6,181.23 L773,181.61Z"/></clipPath>
<g clip-path="url(#k3)">
<path d="M775.5,158.9V185.9M783.5,158.9V185.9M792.5,158.9V185.9M800.5,158.9V185.9M809.5,158.9V185.9M817.5,158.9V185.9M826.5,158.9V185.9M834.5,158.9V185.9M843.5,158.9V185.9M852.5,158.9V185.9M860.5,158.9V185.9" stroke="#000" stroke-width="1.3" fill="none"/>
</g>
<path d="M773,162.61 L773.6,162.23 L774.2,161.89 L774.8,161.63 L775.4,161.46 L776,161.4 L776.6,161.45 L777.2,161.6 L777.8,161.85 L778.4,162.18 L779,162.56 L779.6,162.96 L780.2,163.36 L780.8,163.73 L781.4,164.03 L782,164.26 L782.6,164.38 L783.2,164.39 L783.8,164.3 L784.4,164.1 L785,163.81 L785.6,163.46 L786.2,163.06 L786.8,162.66 L787.4,162.27 L788,161.93 L788.6,161.66 L789.2,161.48 L789.8,161.4 L790.4,161.44 L791,161.58 L791.6,161.82 L792.2,162.14 L792.8,162.51 L793.4,162.92 L794,163.32 L794.6,163.69 L795.2,164 L795.8,164.24 L796.4,164.37 L797,164.4 L797.6,164.31 L798.2,164.13 L798.8,163.85 L799.4,163.5 L800,163.11 L800.6,162.71 L801.2,162.31 L801.8,161.96 L802.4,161.68 L803,161.49 L803.6,161.4 L804.2,161.43 L804.8,161.56 L805.4,161.79 L806,162.1 L806.6,162.47 L807.2,162.87 L807.8,163.27 L808.4,163.65 L809,163.97 L809.6,164.21 L810.2,164.36 L810.8,164.4 L811.4,164.33 L812,164.15 L812.6,163.89 L813.2,163.55 L813.8,163.16 L814.4,162.75 L815,162.36 L815.6,162 L816.2,161.71 L816.8,161.51 L817.4,161.41 L818,161.42 L818.6,161.54 L819.2,161.75 L819.8,162.06 L820.4,162.42 L821,162.82 L821.6,163.23 L822.2,163.61 L822.8,163.94 L823.4,164.19 L824,164.35 L824.6,164.4 L825.2,164.34 L825.8,164.18 L826.4,163.92 L827,163.59 L827.6,163.21 L828.2,162.8 L828.8,162.4 L829.4,162.04 L830,161.74 L830.6,161.53 L831.2,161.42 L831.8,161.41 L832.4,161.52 L833,161.72 L833.6,162.02 L834.2,162.38 L834.8,162.77 L835.4,163.18 L836,163.56 L836.6,163.9 L837.2,164.16 L837.8,164.33 L838.4,164.4 L839,164.35 L839.6,164.2 L840.2,163.96 L840.8,163.63 L841.4,163.25 L842,162.85 L842.6,162.45 L843.2,162.08 L843.8,161.77 L844.4,161.55 L845,161.42 L845.6,161.41 L846.2,161.5 L846.8,161.7 L847.4,161.98 L848,162.33 L848.6,162.73 L849.2,163.13 L849.8,163.52 L850.4,163.86 L851,164.14 L851.6,164.32 L852.2,164.4 L852.8,164.37 L853.4,164.23 L854,163.99 L854.6,163.67 L855.2,163.3 L855.8,162.89 L856.4,162.49 L857,162.12 L857.6,161.8 L858.2,161.57 L858.8,161.43 L859.4,161.4 L860,161.48 L860.6,161.67" fill="none" stroke="#111" stroke-width="1"/>
<path d="M860.6,180.67 L860,180.48 L859.4,180.4 L858.8,180.43 L858.2,180.57 L857.6,180.8 L857,181.12 L856.4,181.49 L855.8,181.89 L855.2,182.3 L854.6,182.67 L854,182.99 L853.4,183.23 L852.8,183.37 L852.2,183.4 L851.6,183.32 L851,183.14 L850.4,182.86 L849.8,182.52 L849.2,182.13 L848.6,181.73 L848,181.33 L847.4,180.98 L846.8,180.7 L846.2,180.5 L845.6,180.41 L845,180.42 L844.4,180.55 L843.8,180.77 L843.2,181.08 L842.6,181.45 L842,181.85 L841.4,182.25 L840.8,182.63 L840.2,182.96 L839.6,183.2 L839,183.35 L838.4,183.4 L837.8,183.33 L837.2,183.16 L836.6,182.9 L836,182.56 L835.4,182.18 L834.8,181.77 L834.2,181.38 L833.6,181.02 L833,180.72 L832.4,180.52 L831.8,180.41 L831.2,180.42 L830.6,180.53 L830,180.74 L829.4,181.04 L828.8,181.4 L828.2,181.8 L827.6,182.21 L827,182.59 L826.4,182.92 L825.8,183.18 L825.2,183.34 L824.6,183.4 L824,183.35 L823.4,183.19 L822.8,182.94 L822.2,182.61 L821.6,182.23 L821,181.82 L820.4,181.42 L819.8,181.06 L819.2,180.75 L818.6,180.54 L818,180.42 L817.4,180.41 L816.8,180.51 L816.2,180.71 L815.6,181 L815,181.36 L814.4,181.75 L813.8,182.16 L813.2,182.55 L812.6,182.89 L812,183.15 L811.4,183.33 L810.8,183.4 L810.2,183.36 L809.6,183.21 L809,182.97 L808.4,182.65 L807.8,182.27 L807.2,181.87 L806.6,181.47 L806,181.1 L805.4,180.79 L804.8,180.56 L804.2,180.43 L803.6,180.4 L803,180.49 L802.4,180.68 L801.8,180.96 L801.2,181.31 L800.6,181.71 L800,182.11 L799.4,182.5 L798.8,182.85 L798.2,183.13 L797.6,183.31 L797,183.4 L796.4,183.37 L795.8,183.24 L795.2,183 L794.6,182.69 L794,182.32 L793.4,181.92 L792.8,181.51 L792.2,181.14 L791.6,180.82 L791,180.58 L790.4,180.44 L789.8,180.4 L789.2,180.48 L788.6,180.66 L788,180.93 L787.4,181.27 L786.8,181.66 L786.2,182.06 L785.6,182.46 L785,182.81 L784.4,183.1 L783.8,183.3 L783.2,183.39 L782.6,183.38 L782,183.26 L781.4,183.03 L780.8,182.73 L780.2,182.36 L779.6,181.96 L779,181.56 L778.4,181.18 L777.8,180.85 L777.2,180.6 L776.6,180.45 L776,180.4 L775.4,180.46 L774.8,180.63 L774.2,180.89 L773.6,181.23 L773,181.61" fill="none" stroke="#111" stroke-width="1"/>
<line x1="860.6" y1="161.67" x2="860.6" y2="180.67" stroke="#111" stroke-width="1.3"/>
<clipPath id="k4"><path d="M878.3,163.95 L878.9,164.2 L879.5,164.35 L880.11,164.4 L880.71,164.34 L881.31,164.17 L881.91,163.91 L882.51,163.57 L883.12,163.18 L883.72,162.77 L884.32,162.38 L884.92,162.02 L885.52,161.72 L886.12,161.52 L886.73,161.41 L887.33,161.42 L887.93,161.53 L888.53,161.75 L889.13,162.05 L889.74,162.41 L890.34,162.81 L890.94,163.22 L891.54,163.6 L892.14,163.93 L892.75,164.19 L893.35,164.35 L893.95,164.4 L894.55,164.34 L895.15,164.18 L895.75,163.92 L896.36,163.58 L896.96,163.2 L897.56,162.79 L898.16,162.39 L898.76,162.03 L899.37,161.73 L899.97,161.52 L900.57,161.41 L901.17,161.41 L901.77,161.52 L902.38,161.74 L902.98,162.03 L903.58,162.39 L904.18,162.79 L904.78,163.2 L905.38,163.59 L905.99,163.92 L906.59,164.18 L907.19,164.34 L907.79,164.4 L908.39,164.35 L909,164.19 L909.6,163.93 L910.2,163.6 L910.8,163.22 L911.4,162.81 L912.01,162.41 L912.61,162.05 L913.21,161.75 L913.81,161.53 L914.41,161.42 L915.02,161.41 L915.62,161.52 L916.22,161.72 L916.82,162.02 L917.42,162.38 L918.02,162.78 L918.63,163.18 L919.23,163.57 L919.83,163.91 L920.43,164.17 L921.03,164.34 L921.64,164.4 L922.24,164.35 L922.84,164.2 L923.44,163.94 L924.04,163.62 L924.65,163.24 L925.25,162.83 L925.85,162.43 L926.45,162.06 L927.05,161.76 L927.65,161.54 L928.26,161.42 L928.86,161.41 L929.46,161.51 L930.06,161.71 L930.66,162 L931.27,162.36 L931.87,162.76 L932.47,163.17 L933.07,163.55 L933.67,163.89 L934.28,164.16 L934.88,164.33 L935.48,164.4 L936.08,164.36 L936.68,164.21 L937.28,163.96 L937.89,163.63 L938.49,163.25 L939.09,162.85 L939.69,162.45 L940.29,162.08 L940.9,161.77 L941.5,161.55 L942.1,161.42 L942.7,161.41 L943.3,161.5 L943.91,161.7 L944.51,161.99 L945.11,162.34 L945.71,162.74 L946.31,163.15 L946.92,163.54 L947.52,163.88 L948.12,164.15 L948.72,164.33 L949.32,164.4 L949.92,164.36 L950.53,164.21 L951.13,163.97 L951.73,163.65 L952.33,163.27 L952.93,162.87 L953.54,162.46 L954.14,162.09 L954.74,161.78 L955.34,161.55 L955.94,161.43 L956.55,161.41 L957.15,161.5 L957.75,161.69 L958.35,161.98 L958.95,162.33 L959.55,162.72 L960.16,163.13 L960.76,163.52 L961.36,163.87 L961.96,164.14 L962.56,164.32 L963.17,164.4 L963.77,164.36 L964.37,164.22 L964.97,163.98 L965.57,163.66 L966.18,163.29 L966.78,162.88 L967.38,162.48 L967.98,162.11 L968.58,161.79 L969.18,161.56 L969.79,161.43 L970.39,161.4 L970.99,161.49 L971.59,161.68 L972.19,161.96 L972.8,162.31 L973.4,162.7 L974,163.11 L974,182.11 L973.4,181.7 L972.8,181.31 L972.19,180.96 L971.59,180.68 L970.99,180.49 L970.39,180.4 L969.79,180.43 L969.18,180.56 L968.58,180.79 L967.98,181.11 L967.38,181.48 L966.78,181.88 L966.18,182.29 L965.57,182.66 L964.97,182.98 L964.37,183.22 L963.77,183.36 L963.17,183.4 L962.56,183.32 L961.96,183.14 L961.36,182.87 L960.76,182.52 L960.16,182.13 L959.55,181.72 L958.95,181.33 L958.35,180.98 L957.75,180.69 L957.15,180.5 L956.55,180.41 L955.94,180.43 L955.34,180.55 L954.74,180.78 L954.14,181.09 L953.54,181.46 L952.93,181.87 L952.33,182.27 L951.73,182.65 L951.13,182.97 L950.53,183.21 L949.92,183.36 L949.32,183.4 L948.72,183.33 L948.12,183.15 L947.52,182.88 L946.92,182.54 L946.31,182.15 L945.71,181.74 L945.11,181.34 L944.51,180.99 L943.91,180.7 L943.3,180.5 L942.7,180.41 L942.1,180.42 L941.5,180.55 L940.9,180.77 L940.29,181.08 L939.69,181.45 L939.09,181.85 L938.49,182.25 L937.89,182.63 L937.28,182.96 L936.68,183.21 L936.08,183.36 L935.48,183.4 L934.88,183.33 L934.28,183.16 L933.67,182.89 L933.07,182.55 L932.47,182.17 L931.87,181.76 L931.27,181.36 L930.66,181 L930.06,180.71 L929.46,180.51 L928.86,180.41 L928.26,180.42 L927.65,180.54 L927.05,180.76 L926.45,181.06 L925.85,181.43 L925.25,181.83 L924.65,182.24 L924.04,182.62 L923.44,182.94 L922.84,183.2 L922.24,183.35 L921.64,183.4 L921.03,183.34 L920.43,183.17 L919.83,182.91 L919.23,182.57 L918.63,182.18 L918.02,181.78 L917.42,181.38 L916.82,181.02 L916.22,180.72 L915.62,180.52 L915.02,180.41 L914.41,180.42 L913.81,180.53 L913.21,180.75 L912.61,181.05 L912.01,181.41 L911.4,181.81 L910.8,182.22 L910.2,182.6 L909.6,182.93 L909,183.19 L908.39,183.35 L907.79,183.4 L907.19,183.34 L906.59,183.18 L905.99,182.92 L905.38,182.59 L904.78,182.2 L904.18,181.79 L903.58,181.39 L902.98,181.03 L902.38,180.74 L901.77,180.52 L901.17,180.41 L900.57,180.41 L899.97,180.52 L899.37,180.73 L898.76,181.03 L898.16,181.39 L897.56,181.79 L896.96,182.2 L896.36,182.58 L895.75,182.92 L895.15,183.18 L894.55,183.34 L893.95,183.4 L893.35,183.35 L892.75,183.19 L892.14,182.93 L891.54,182.6 L890.94,182.22 L890.34,181.81 L889.74,181.41 L889.13,181.05 L888.53,180.75 L887.93,180.53 L887.33,180.42 L886.73,180.41 L886.12,180.52 L885.52,180.72 L884.92,181.02 L884.32,181.38 L883.72,181.77 L883.12,182.18 L882.51,182.57 L881.91,182.91 L881.31,183.17 L880.71,183.34 L880.11,183.4 L879.5,183.35 L878.9,183.2 L878.3,182.95Z"/></clipPath>
<g clip-path="url(#k4)">
<path d="M878.5,158.9V185.9M887.5,158.9V185.9M895.5,158.9V185.9M904.5,158.9V185.9M913.5,158.9V185.9M922.5,158.9V185.9M930.5,158.9V185.9M939.5,158.9V185.9M948.5,158.9V185.9M957.5,158.9V185.9M965.5,158.9V185.9" stroke="#000" stroke-width="1.3" fill="none"/>
</g>
<path d="M878.3,163.95 L878.9,164.2 L879.5,164.35 L880.11,164.4 L880.71,164.34 L881.31,164.17 L881.91,163.91 L882.51,163.57 L883.12,163.18 L883.72,162.77 L884.32,162.38 L884.92,162.02 L885.52,161.72 L886.12,161.52 L886.73,161.41 L887.33,161.42 L887.93,161.53 L888.53,161.75 L889.13,162.05 L889.74,162.41 L890.34,162.81 L890.94,163.22 L891.54,163.6 L892.14,163.93 L892.75,164.19 L893.35,164.35 L893.95,164.4 L894.55,164.34 L895.15,164.18 L895.75,163.92 L896.36,163.58 L896.96,163.2 L897.56,162.79 L898.16,162.39 L898.76,162.03 L899.37,161.73 L899.97,161.52 L900.57,161.41 L901.17,161.41 L901.77,161.52 L902.38,161.74 L902.98,162.03 L903.58,162.39 L904.18,162.79 L904.78,163.2 L905.38,163.59 L905.99,163.92 L906.59,164.18 L907.19,164.34 L907.79,164.4 L908.39,164.35 L909,164.19 L909.6,163.93 L910.2,163.6 L910.8,163.22 L911.4,162.81 L912.01,162.41 L912.61,162.05 L913.21,161.75 L913.81,161.53 L914.41,161.42 L915.02,161.41 L915.62,161.52 L916.22,161.72 L916.82,162.02 L917.42,162.38 L918.02,162.78 L918.63,163.18 L919.23,163.57 L919.83,163.91 L920.43,164.17 L921.03,164.34 L921.64,164.4 L922.24,164.35 L922.84,164.2 L923.44,163.94 L924.04,163.62 L924.65,163.24 L925.25,162.83 L925.85,162.43 L926.45,162.06 L927.05,161.76 L927.65,161.54 L928.26,161.42 L928.86,161.41 L929.46,161.51 L930.06,161.71 L930.66,162 L931.27,162.36 L931.87,162.76 L932.47,163.17 L933.07,163.55 L933.67,163.89 L934.28,164.16 L934.88,164.33 L935.48,164.4 L936.08,164.36 L936.68,164.21 L937.28,163.96 L937.89,163.63 L938.49,163.25 L939.09,162.85 L939.69,162.45 L940.29,162.08 L940.9,161.77 L941.5,161.55 L942.1,161.42 L942.7,161.41 L943.3,161.5 L943.91,161.7 L944.51,161.99 L945.11,162.34 L945.71,162.74 L946.31,163.15 L946.92,163.54 L947.52,163.88 L948.12,164.15 L948.72,164.33 L949.32,164.4 L949.92,164.36 L950.53,164.21 L951.13,163.97 L951.73,163.65 L952.33,163.27 L952.93,162.87 L953.54,162.46 L954.14,162.09 L954.74,161.78 L955.34,161.55 L955.94,161.43 L956.55,161.41 L957.15,161.5 L957.75,161.69 L958.35,161.98 L958.95,162.33 L959.55,162.72 L960.16,163.13 L960.76,163.52 L961.36,163.87 L961.96,164.14 L962.56,164.32 L963.17,164.4 L963.77,164.36 L964.37,164.22 L964.97,163.98 L965.57,163.66 L966.18,163.29 L966.78,162.88 L967.38,162.48 L967.98,162.11 L968.58,161.79 L969.18,161.56 L969.79,161.43 L970.39,161.4 L970.99,161.49 L971.59,161.68 L972.19,161.96 L972.8,162.31 L973.4,162.7 L974,163.11" fill="none" stroke="#111" stroke-width="1"/>
<path d="M974,182.11 L973.4,181.7 L972.8,181.31 L972.19,180.96 L971.59,180.68 L970.99,180.49 L970.39,180.4 L969.79,180.43 L969.18,180.56 L968.58,180.79 L967.98,181.11 L967.38,181.48 L966.78,181.88 L966.18,182.29 L965.57,182.66 L964.97,182.98 L964.37,183.22 L963.77,183.36 L963.17,183.4 L962.56,183.32 L961.96,183.14 L961.36,182.87 L960.76,182.52 L960.16,182.13 L959.55,181.72 L958.95,181.33 L958.35,180.98 L957.75,180.69 L957.15,180.5 L956.55,180.41 L955.94,180.43 L955.34,180.55 L954.74,180.78 L954.14,181.09 L953.54,181.46 L952.93,181.87 L952.33,182.27 L951.73,182.65 L951.13,182.97 L950.53,183.21 L949.92,183.36 L949.32,183.4 L948.72,183.33 L948.12,183.15 L947.52,182.88 L946.92,182.54 L946.31,182.15 L945.71,181.74 L945.11,181.34 L944.51,180.99 L943.91,180.7 L943.3,180.5 L942.7,180.41 L942.1,180.42 L941.5,180.55 L940.9,180.77 L940.29,181.08 L939.69,181.45 L939.09,181.85 L938.49,182.25 L937.89,182.63 L937.28,182.96 L936.68,183.21 L936.08,183.36 L935.48,183.4 L934.88,183.33 L934.28,183.16 L933.67,182.89 L933.07,182.55 L932.47,182.17 L931.87,181.76 L931.27,181.36 L930.66,181 L930.06,180.71 L929.46,180.51 L928.86,180.41 L928.26,180.42 L927.65,180.54 L927.05,180.76 L926.45,181.06 L925.85,181.43 L925.25,181.83 L924.65,182.24 L924.04,182.62 L923.44,182.94 L922.84,183.2 L922.24,183.35 L921.64,183.4 L921.03,183.34 L920.43,183.17 L919.83,182.91 L919.23,182.57 L918.63,182.18 L918.02,181.78 L917.42,181.38 L916.82,181.02 L916.22,180.72 L915.62,180.52 L915.02,180.41 L914.41,180.42 L913.81,180.53 L913.21,180.75 L912.61,181.05 L912.01,181.41 L911.4,181.81 L910.8,182.22 L910.2,182.6 L909.6,182.93 L909,183.19 L908.39,183.35 L907.79,183.4 L907.19,183.34 L906.59,183.18 L905.99,182.92 L905.38,182.59 L904.78,182.2 L904.18,181.79 L903.58,181.39 L902.98,181.03 L902.38,180.74 L901.77,180.52 L901.17,180.41 L900.57,180.41 L899.97,180.52 L899.37,180.73 L898.76,181.03 L898.16,181.39 L897.56,181.79 L896.96,182.2 L896.36,182.58 L895.75,182.92 L895.15,183.18 L894.55,183.34 L893.95,183.4 L893.35,183.35 L892.75,183.19 L892.14,182.93 L891.54,182.6 L890.94,182.22 L890.34,181.81 L889.74,181.41 L889.13,181.05 L888.53,180.75 L887.93,180.53 L887.33,180.42 L886.73,180.41 L886.12,180.52 L885.52,180.72 L884.92,181.02 L884.32,181.38 L883.72,181.77 L883.12,182.18 L882.51,182.57 L881.91,182.91 L881.31,183.17 L880.71,183.34 L880.11,183.4 L879.5,183.35 L878.9,183.2 L878.3,182.95" fill="none" stroke="#111" stroke-width="1"/>
<line x1="878.3" y1="163.95" x2="878.3" y2="182.95" stroke="#111" stroke-width="1.3"/>
<path d="M860.6,161.67 L861.22,161.95 L861.83,162.31 L862.45,162.71 L863.07,163.13 L863.68,163.53 L864.3,163.88 L864.92,164.16 L865.53,164.33 L866.15,164.4 L866.77,164.35 L867.38,164.19 L868,163.93" fill="none" stroke="#111" stroke-width="1"/>
<path d="M860.6,180.67 L861.22,180.95 L861.83,181.31 L862.45,181.71 L863.07,182.13 L863.68,182.53 L864.3,182.88 L864.92,183.16 L865.53,183.33 L866.15,183.4 L866.77,183.35 L867.38,183.19 L868,182.93" fill="none" stroke="#111" stroke-width="1"/>
<path d="M876,162.5 L876.77,163.01 L877.53,163.52 L878.3,163.95" fill="none" stroke="#111" stroke-width="1"/>
<path d="M876,181.5 L876.77,182.01 L877.53,182.52 L878.3,182.95" fill="none" stroke="#111" stroke-width="1"/>
<text transform="translate(872.7,166) scale(1,1.06)" font-size="12.3" text-anchor="middle">?</text>
<text transform="translate(872.7,185.7) scale(1,1.06)" font-size="12.3" text-anchor="middle">?</text>
<text transform="translate(800.7,260) scale(1,1.06)" font-size="12.25" textLength="143.1" lengthAdjust="spacingAndGlyphs">Cerro Santo Domingo Group</text>
<text transform="translate(800.7,274.2) scale(1,1.06)" font-size="12.25" textLength="143.1" lengthAdjust="spacingAndGlyphs">(undivided limestone) &gt;2000</text>
<line x1="773" y1="344.8" x2="867.5" y2="344.8" stroke="#999" stroke-width="1.5"/>
<line x1="877.3" y1="344.8" x2="974" y2="344.8" stroke="#999" stroke-width="1.5"/>
<text transform="translate(872.4,349.2) scale(1,1.06)" font-size="12.3" text-anchor="middle">?</text>
<path d="M783.4,355.57V456.83M792.5,358.16V454.36M800.7,360.26V452.35M809.3,362.22V450.47M817.6,363.88V448.88M826.6,365.43V447.4M835.3,366.68V446.21M844,367.67V445.26M852.6,368.41V398.4M852.6,413.5V444.55M860.6,368.88V398.4M860.6,413.5V444.1M869.5,369.16V398.4M869.5,413.5V443.84M878.1,369.18V398.4M878.1,413.5V443.82M886.6,369.01V398.4M886.6,413.5V443.98M895.4,368.63V444.35M903.9,368.07V444.89M912.5,367.32V445.61M921.4,366.33V446.56M930.5,365.11V447.74M939.1,363.76V449.04M947.8,362.19V450.55M956.4,360.45V452.22M965.5,358.4V454.2" stroke="#000" stroke-width="1.4" fill="none"/>
<text transform="translate(872.4,409.7) scale(1,1.06)" font-size="12.25" text-anchor="middle">No data</text>
<line x1="773" y1="462.85" x2="867.5" y2="462.85" stroke="#999" stroke-width="1.5"/>
<line x1="877.3" y1="462.85" x2="974" y2="462.85" stroke="#999" stroke-width="1.5"/>
<text transform="translate(872.4,465.95) scale(1,1.06)" font-size="12.3" text-anchor="middle">?</text>
<text transform="translate(836.8,473.3) scale(1,0.94)" font-size="10.8" textLength="71" lengthAdjust="spacingAndGlyphs">Sandy limestone</text>
<path d="M773,479.24 L773.6,478.74 L774.2,478.23 L774.8,477.74 L775.4,477.32 L776,476.99 L776.6,476.78 L777.2,476.7 L777.8,476.76 L778.4,476.96 L779,477.28 L779.6,477.69 L780.2,478.18 L780.8,478.69 L781.4,479.19 L782,479.66 L782.6,480.04 L783.2,480.32 L783.8,480.47 L784.4,480.49 L785,480.37 L785.6,480.11 L786.2,479.75 L786.8,479.3 L787.4,478.8 L788,478.29 L788.6,477.79 L789.2,477.36 L789.8,477.02 L790.4,476.79 L791,476.7 L791.6,476.75 L792.2,476.93 L792.8,477.24 L793.4,477.64 L794,478.12 L794.6,478.63 L795.2,479.14 L795.8,479.61 L796.4,480 L797,480.29 L797.6,480.46 L798.2,480.49 L798.8,480.39 L799.4,480.15 L800,479.8 L800.6,479.36 L801.2,478.86 L801.8,478.34 L802.4,477.85 L803,477.41 L803.6,477.05 L804.2,476.81 L804.8,476.71 L805.4,476.74 L806,476.9 L806.6,477.19 L807.2,477.59 L807.8,478.06 L808.4,478.57 L809,479.08 L809.6,479.55 L810.2,479.96 L810.8,480.27 L811.4,480.45 L812,480.5 L812.6,480.41 L813.2,480.18 L813.8,479.84 L814.4,479.41 L815,478.92 L815.6,478.4 L816.2,477.9 L816.8,477.46 L817.4,477.09 L818,476.84 L818.6,476.71 L819.2,476.73 L819.8,476.88 L820.4,477.16 L821,477.54 L821.6,478 L822.2,478.51 L822.8,479.02 L823.4,479.5 L824,479.92 L824.6,480.24 L825.2,480.44 L825.8,480.5 L826.4,480.42 L827,480.21 L827.6,479.89 L828.2,479.46 L828.8,478.98 L829.4,478.46 L830,477.96 L830.6,477.5 L831.2,477.13 L831.8,476.86 L832.4,476.72 L833,476.72 L833.6,476.85 L834.2,477.12 L834.8,477.49 L835.4,477.94 L836,478.45 L836.6,478.96 L837.2,479.45 L837.8,479.87 L838.4,480.21 L839,480.42 L839.6,480.5 L840.2,480.44 L840.8,480.25 L841.4,479.93 L842,479.52 L842.6,479.04 L843.2,478.52 L843.8,478.02 L844.4,477.55 L845,477.17 L845.6,476.88 L846.2,476.73 L846.8,476.71 L847.4,476.83 L848,477.08 L848.6,477.44 L849.2,477.89 L849.8,478.39 L850.4,478.9 L851,479.39 L851.6,479.83 L852.2,480.17 L852.8,480.4 L853.4,480.5 L854,480.45 L854.6,480.28 L855.2,479.97 L855.8,479.57 L856.4,479.1 L857,478.58 L857.6,478.08 L858.2,477.6 L858.8,477.21 L859.4,476.91 L860,476.74 L860.6,476.7 L861.2,476.81 L861.8,477.04 L862.4,477.39 L863,477.83 L863.6,478.33 L864.2,478.84 L864.8,479.34 L865.4,479.78 L866,480.14 L866.6,480.38 L867.2,480.49 L867.8,480.47 L868.4,480.3 L869,480.01 L869.6,479.62 L870.2,479.15 L870.8,478.65 L871.4,478.13 L872,477.66 L872.6,477.25 L873.2,476.94 L873.8,476.75 L874.4,476.7 L875,476.79 L875.6,477.01 L876.2,477.35 L876.8,477.78 L877.4,478.27 L878,478.78 L878.6,479.28 L879.2,479.73 L879.8,480.1 L880.4,480.36 L881,480.49 L881.6,480.48 L882.2,480.33 L882.8,480.05 L883.4,479.67 L884,479.21 L884.6,478.71 L885.2,478.19 L885.8,477.71 L886.4,477.29 L887,476.97 L887.6,476.77 L888.2,476.7 L888.8,476.77 L889.4,476.98 L890,477.3 L890.6,477.72 L891.2,478.21 L891.8,478.72 L892.4,479.23 L893,479.69 L893.6,480.06 L894.2,480.34 L894.8,480.48 L895.4,480.49 L896,480.35 L896.6,480.09 L897.2,479.72 L897.8,479.27 L898.4,478.77 L899,478.25 L899.6,477.76 L900.2,477.34 L900.8,477 L901.4,476.78 L902,476.7 L902.6,476.76 L903.2,476.95 L903.8,477.26 L904.4,477.67 L905,478.15 L905.6,478.66 L906.2,479.17 L906.8,479.64 L907.4,480.03 L908,480.31 L908.6,480.47 L909.2,480.49 L909.8,480.38 L910.4,480.13 L911,479.77 L911.6,479.32 L912.2,478.83 L912.8,478.31 L913.4,477.82 L914,477.38 L914.6,477.03 L915.2,476.8 L915.8,476.7 L916.4,476.74 L917,476.92 L917.6,477.22 L918.2,477.62 L918.8,478.09 L919.4,478.6 L920,479.11 L920.6,479.58 L921.2,479.98 L921.8,480.28 L922.4,480.46 L923,480.5 L923.6,480.4 L924.2,480.16 L924.8,479.82 L925.4,479.38 L926,478.89 L926.6,478.37 L927.2,477.87 L927.8,477.43 L928.4,477.07 L929,476.82 L929.6,476.71 L930.2,476.73 L930.8,476.89 L931.4,477.18 L932,477.57 L932.6,478.03 L933.2,478.54 L933.8,479.05 L934.4,479.53 L935,479.94 L935.6,480.25 L936.2,480.44 L936.8,480.5 L937.4,480.41 L938,480.2 L938.6,479.86 L939.2,479.43 L939.8,478.94 L940.4,478.43 L941,477.93 L941.6,477.48 L942.2,477.11 L942.8,476.85 L943.4,476.71 L944,476.72 L944.6,476.87 L945.2,477.14 L945.8,477.52 L946.4,477.98 L947,478.48 L947.6,479 L948.2,479.48 L948.8,479.9 L949.4,480.22 L950,480.43 L950.6,480.5 L951.2,480.43 L951.8,480.23 L952.4,479.91 L953,479.49 L953.6,479 L954.2,478.49 L954.8,477.99 L955.4,477.53 L956,477.14 L956.6,476.87 L957.2,476.72 L957.8,476.71 L958.4,476.84 L959,477.1 L959.6,477.47 L960.2,477.92 L960.8,478.42 L961.4,478.94 L962,479.43 L962.6,479.85 L963.2,480.19 L963.8,480.41 L964.4,480.5 L965,480.45 L965.6,480.26 L966.2,479.95 L966.8,479.54 L967.4,479.06 L968,478.55 L968.6,478.04 L969.2,477.58 L969.8,477.18 L970.4,476.9 L971,476.73 L971.6,476.71 L972.2,476.82 L972.8,477.06 L973.4,477.42 L974,477.86" fill="none" stroke="#111" stroke-width="1"/>
<text transform="translate(806.6,494.5) scale(1,1.06)" font-size="12.25" textLength="131.6" lengthAdjust="spacingAndGlyphs">Peña Blanca Quartzite 130</text>
<line x1="773" y1="503.5" x2="974" y2="503.5" stroke="#555" stroke-width="1.2"/>
<text transform="translate(830.9,528.3) scale(1,1.06)" font-size="12.25" textLength="82.6" lengthAdjust="spacingAndGlyphs">El Santisimo Fm</text>
<line x1="773" y1="546.8" x2="867.5" y2="546.8" stroke="#888" stroke-width="1.2"/>
<line x1="877.3" y1="546.8" x2="974" y2="546.8" stroke="#888" stroke-width="1.2"/>
<text transform="translate(872.4,550.2) scale(1,1.06)" font-size="12.3" text-anchor="middle">?</text>
<text transform="translate(840.7,564.8) scale(1,1.06)" font-size="12.25" textLength="63.9" lengthAdjust="spacingAndGlyphs">Milpillas Fm</text>
<line x1="773" y1="572.4" x2="974" y2="572.4" stroke="#666" stroke-width="1.2"/>
<text transform="translate(782.2,584.1) scale(1,0.94)" font-size="10.8" textLength="180.3" lengthAdjust="spacingAndGlyphs">La Huerta, El Mogallon, and La Sata Fms</text>
<line x1="773" y1="594.3" x2="867.5" y2="594.3" stroke="#888" stroke-width="1.2"/>
<line x1="877.3" y1="594.3" x2="974" y2="594.3" stroke="#888" stroke-width="1.2"/>
<text transform="translate(872.4,598) scale(1,1.06)" font-size="12.3" text-anchor="middle">?</text>
<text transform="translate(855.6,625.7) scale(1,0.94)" font-size="10.7" textLength="33.5" lengthAdjust="spacingAndGlyphs">No data</text>
<line x1="54" y1="9.9" x2="975" y2="9.9" stroke="#000" stroke-width="2"/>
<line x1="171" y1="33" x2="974" y2="33" stroke="#111" stroke-width="2"/>
<line x1="55" y1="74" x2="974" y2="74" stroke="#000" stroke-width="2"/>
<line x1="55" y1="9" x2="55" y2="652.5" stroke="#111" stroke-width="2"/>
<line x1="974" y1="9" x2="974" y2="652.5" stroke="#111" stroke-width="2"/>
<line x1="171" y1="9" x2="171" y2="652" stroke="#111" stroke-width="2"/>
<line x1="573" y1="9" x2="573" y2="652" stroke="#111" stroke-width="2"/>
<line x1="371.5" y1="33" x2="371.5" y2="652" stroke="#000" stroke-width="1.2"/>
<line x1="773.5" y1="33" x2="773.5" y2="652" stroke="#000" stroke-width="1.2"/>
<line x1="54" y1="652" x2="975" y2="652" stroke="#000" stroke-width="2"/>
<text x="9.6" y="677.7" font-size="15" textLength="977.1" lengthAdjust="spacingAndGlyphs">Figure 3. Generalized stratigraphic chart of Paleozoic strata in central and east-central Sonora within the Sonora allochthon, Mina México foredeep (stipple pattern),</text>
<text x="9.6" y="697" font-size="15" textLength="909.2" lengthAdjust="spacingAndGlyphs">and Laurentian shelf. Sampled units indicated by colored dots. Time scale modified after Walker and Geissman (2009). Unit thicknesses are in meters.</text>
</svg></body></html>
